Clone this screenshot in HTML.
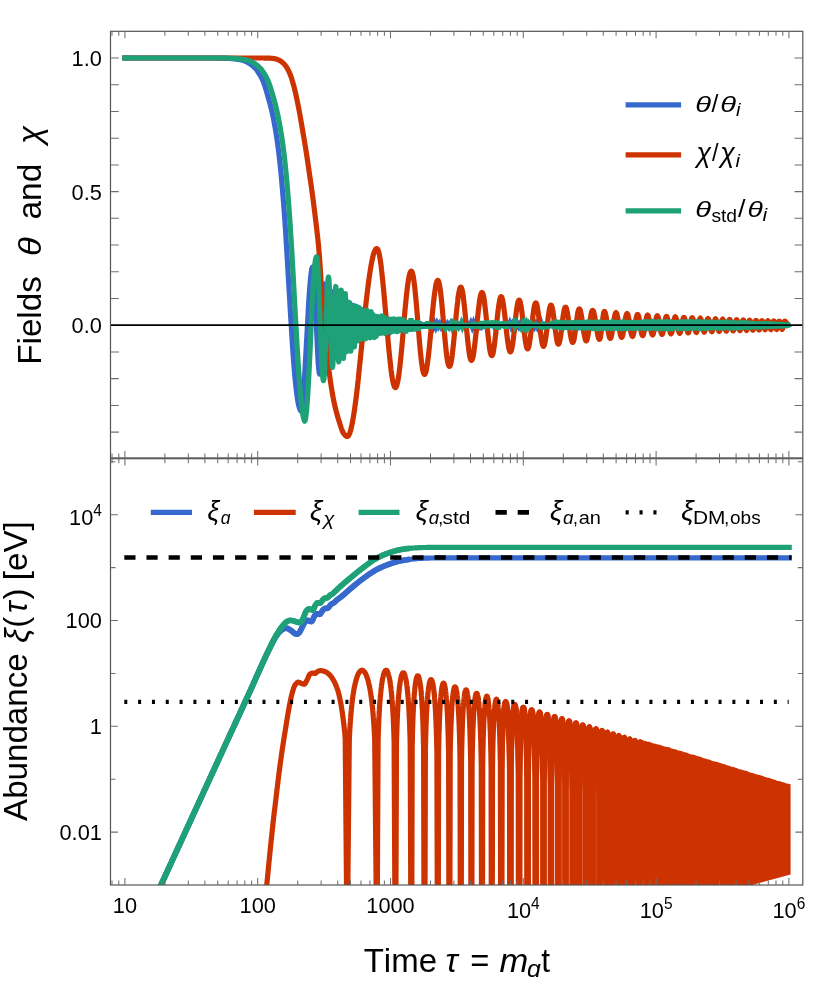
<!DOCTYPE html>
<html><head><meta charset="utf-8"><title>plot</title>
<style>html,body{margin:0;padding:0;background:#fff}svg{display:block}</style>
</head><body>
<svg width="830" height="1003" viewBox="0 0 830 1003">
<defs>
<clipPath id="ct"><rect x="110.5" y="31.3" width="692.3" height="426.59999999999997"/></clipPath>
<clipPath id="cb"><rect x="110.5" y="458.7" width="692.3" height="426.3"/></clipPath>
</defs>
<rect width="830" height="1003" fill="#fff"/>
<g clip-path="url(#ct)" fill="none" stroke-width="5.2" stroke-linejoin="round" stroke-linecap="square">
<path d="M124.9 58L125.4 58L125.9 58L126.4 58L126.9 58L127.4 58L127.9 58L128.4 58L128.9 58L129.4 58L129.9 58L130.4 58L130.9 58L131.4 58L131.9 58L132.4 58L132.9 58L133.4 58L133.9 58L134.4 58L134.9 58L135.4 58L135.9 58L136.4 58L136.9 58L137.4 58L137.9 58L138.4 58L138.9 58L139.4 58L139.9 58L140.4 58L140.9 58L141.4 58L141.9 58L142.4 58L142.9 58L143.4 58L143.9 58L144.4 58L144.9 58L145.4 58L145.9 58L146.4 58L146.9 58L147.4 58L147.9 58L148.4 58L148.9 58L149.4 58L149.9 58L150.4 58L150.9 58L151.4 58L151.9 58L152.4 58L152.9 58L153.4 58L153.9 58L154.5 58L155 58L155.5 58L156 58L156.5 58L157 58L157.5 58L158 58L158.5 58L159 58L159.5 58L160 58L160.5 58L161 58L161.5 58L162 58L162.5 58L163 58L163.5 58L164 58L164.5 58L165 58L165.5 58L166 58L166.5 58L167 58L167.5 58L168 58L168.5 58L169 58L169.5 58L170 58L170.5 58L171 58L171.5 58L172 58L172.5 58L173 58L173.5 58L174 58L174.5 58L175 58L175.5 58L176 58L176.5 58L177 58L177.5 58L178 58L178.5 58L179 58L179.5 58L180 58L180.5 58L181 58L181.5 58L182 58L182.5 58L183 58L183.5 58L184 58L184.5 58L185 58L185.5 58L186 58L186.5 58L187 58L187.5 58L188 58L188.5 58L189 58L189.5 58L190 58L190.5 58L191 58L191.5 58L192 58L192.5 58L193 58L193.5 58L194 58L194.5 58L195 58L195.5 58L196 58L196.5 58L197 58L197.5 58L198 58L198.5 58L199 58L199.5 58L200 58L200.5 58L201 58L201.5 58L202 58L202.5 58L203 58L203.5 58L204 58L204.5 58L205 58L205.5 58L206 58L206.5 58L207 58L207.5 58L208 58L208.5 58L209 58L209.5 58L210 58L210.5 58L211 58L211.5 58L212 58L212.5 58L213.1 58L213.6 58L214.1 58L214.6 58L215.1 58L215.6 58L216.1 58L216.6 58.1L217.1 58.1L217.6 58.1L218.1 58.1L218.6 58.1L219.1 58.1L219.6 58.1L220.1 58.1L220.6 58.1L221.1 58.1L221.6 58.1L222.1 58.2L222.6 58.2L223.1 58.2L223.6 58.2L224.1 58.2L224.6 58.2L225.1 58.2L225.6 58.3L226.1 58.3L226.6 58.3L227.1 58.3L227.6 58.3L228.1 58.3L228.6 58.4L229.1 58.4L229.6 58.4L230.1 58.5L230.6 58.5L231.1 58.6L231.6 58.6L232.1 58.7L232.6 58.7L233.1 58.8L233.6 58.8L234.1 58.9L234.6 58.9L235.1 59L235.6 59.1L236.1 59.1L236.6 59.2L237.1 59.3L237.6 59.3L238.1 59.4L238.6 59.5L239.1 59.6L239.6 59.6L240.1 59.7L240.6 59.8L241.1 59.9L241.6 60.1L242.1 60.2L242.6 60.3L243.1 60.4L243.6 60.6L244.1 60.8L244.6 60.9L245.1 61.2L245.6 61.4L246.1 61.6L246.6 61.9L247.1 62.1L247.6 62.4L248.1 62.6L248.6 62.9L249.1 63.2L249.6 63.5L250.1 63.8L250.6 64.2L251.1 64.5L251.6 64.9L252.1 65.3L252.6 65.7L253.1 66.1L253.6 66.6L254.1 67.1L254.6 67.6L255.1 68.1L255.6 68.6L256.1 69.2L256.6 69.8L257.1 70.5L257.6 71.2L258.1 72L258.6 72.8L259.1 73.6L259.6 74.4L260.1 75.2L260.6 76.1L261.1 77L261.6 77.9L262.1 78.9L262.6 80L263.1 81.1L263.6 82.4L264.1 83.8L264.6 85.2L265.1 86.8L265.6 88.4L266.1 90L266.6 91.7L267.1 93.4L267.6 95.2L268.1 96.9L268.6 98.7L269.1 100.5L269.6 102.3L270.1 104.2L270.6 106.2L271.1 108.2L271.7 110.4L272.2 112.6L272.7 114.9L273.2 117.3L273.7 119.8L274.2 122.4L274.7 125.2L275.2 128L275.7 131L276.2 134.1L276.7 137.3L277.2 140.7L277.7 144.3L278.2 148L278.7 152L279.2 156.2L279.7 160.6L280.2 165.1L280.7 170.1L281.2 175.4L281.7 181L282.2 186.7L282.7 192.6L283.2 198.6L283.7 204.9L284.2 211.4L284.7 218.2L285.2 225.5L285.7 233.2L286.2 241.3L286.7 249.4L287.2 257.7L287.7 266.2L288.2 274.8L288.7 283.3L289.2 291.7L289.7 300.2L290.2 308.6L290.7 316.9L291.2 324.9L291.7 332.9L292.2 340.8L292.7 348.6L293.2 355.9L293.7 362.6L294.2 368.7L294.7 374.4L295.2 379.8L295.7 384.7L296.2 389.1L296.7 393.1L297.2 396.9L297.7 400.3L298.2 403.2L298.7 405.4L299.2 407.2L299.7 408.8L300.2 410L300.7 410.8L301.1 410.4L301.5 409.3L301.9 407.5L302.2 405L302.6 401.8L303 397.9L303.4 393.5L303.8 388.4L304.2 382.9L304.6 376.9L305 370.6L305.3 363.9L305.7 356.9L306.1 349.8L306.5 342.5L306.9 335.3L307.3 328L307.7 320.9L308.1 313.9L308.4 307.2L308.8 300.9L309.2 294.9L309.6 289.4L310 284.3L310.4 279.9L310.8 276L311.2 272.8L311.5 270.3L311.9 268.5L312.3 267.4L312.7 267L313.1 267.8L313.5 270.2L313.9 274.2L314.3 279.5L314.6 286.1L315 293.8L315.4 302.2L315.8 311.2L316.2 320.5L316.6 329.8L317 338.8L317.4 347.2L317.8 354.9L318.1 361.5L318.5 366.8L318.9 370.8L319.3 373.2L319.7 374L320.1 372.9L320.5 369.5L320.8 364.2L321.2 357.1L321.6 348.5L322 339L322.4 329L322.7 319L323.1 309.5L323.5 300.9L323.9 293.8L324.2 288.5L324.6 285.1L325 284L325.4 285.6L325.8 290.2L326.1 297.5L326.5 306.8L326.9 317.4L327.3 328.6L327.7 339.2L328.1 348.5L328.4 355.8L328.8 360.4L329.2 362L329.6 359.9L330 353.8L330.3 344.5L330.7 333.1L331.1 320.9L331.5 309.5L331.8 300.2L332.2 294.1L332.6 292L333 294.4L333.4 301.1L333.7 311.1L334.1 323L334.5 334.9L334.9 344.9L335.2 351.6L335.6 354L336 351.1L336.3 343.1L336.7 331.5L337.1 318.5L337.5 306.9L337.8 298.9L338.2 296L338.6 299.7L339 309.8L339.4 323.5L339.7 337.2L340.1 347.3L340.5 351L340.9 347.6L341.2 338.2L341.6 325.5L341.9 312.8L342.2 303.4L342.6 300L344.5 352.8L346.4 301.1L348.2 350.6L350 303L351.7 346.1L353.3 305.4L354.8 340.6L356.3 306.7L357.7 339.8L359.1 312.2L360.4 341.4L361.7 311.4L363 337.9L364.3 314.9L365.6 335.2L366.9 314.5L368.2 337L369.5 315.6L370.8 333.4L372.1 316.7L373.4 333L374.7 316.7L376 333.9L377.3 317.9L378.6 332.1L379.9 319.5L381.2 333.2L382.5 318.7L383.8 332.4L385.1 319.7L386.4 330.8L387.7 318.5L389 333.5L390.3 319.5L391.6 330.3L392.9 321.2L394.2 331L395.5 319.7L396.8 329.4L398.1 321.2L399.4 330.1L400.7 320.3" stroke="#3668cd" stroke-linecap="butt"/>
<path d="M399.4 330.1L400.7 320.3L402 330.3L403.3 317.3L404.6 329.4L405.9 320.3L407.2 329L408.5 320.6L409.8 331.5L411.1 320.9L412.4 328.8L413.7 322.1L415 328.9L416.3 321.4L417.6 328.7L418.9 322.2L420.2 328.7L421.5 322.7L422.8 328.3L424.1 322.7L425.4 328.3L426.7 323.2L428 327.5L429.3 323.2L430.6 327.5L431.9 323.5L433.2 326.9L434.5 323.7L435.8 326.9L437.1 323.6L438.4 326.3L439.7 324L441 326.6L442.3 324.1L443.6 326.6L444.9 321.7L446.2 326.5L447.5 324.1L448.8 326.4L450.1 324.3L451.4 329.2L452.7 324.3L454 326L455.3 324.5L456.6 326L457.9 324.5L459.2 326L460.5 324.1L461.8 328.9L463.1 324.2L464.4 326.2L465.7 321.2L467 326.7L468.3 322L469.6 326.9L470.9 323.5L472.2 326.7L473.5 323.2L474.8 326.8L476.1 323.5L477.4 326.8L478.7 322.8L480 330.1L481.3 323L482.6 328L483.9 323L485.2 327.8L486.5 323L487.8 328L489.1 322.3L490.4 327.6L491.7 322.7L493 327.4L494.3 322.3L495.6 330.1L496.9 322.8L498.2 328.2L499.5 322.8L500.8 327.3L502.1 322.6L503.4 327.2L504.7 323L506 327.4L507.3 323.2L508.6 327.2L509.9 323.6L511.2 326.8L512.5 324L513.8 326.3L515.1 323.9L516.4 326.3L517.7 324L519 326.4L520.3 323.9L521.6 326.2L522.9 324.1L524.2 325.9L525.5 324.4L526.8 326.4L528.1 324L529.4 326.5L530.7 324.1L532 326.7L533.3 323.8L534.6 326.5L535.9 323.9L537.2 326.6L538.5 323.4L539.8 326.6L541.1 323.2L542.4 327L543.7 323L545 326.9L546.3 323.1L547.6 327.6L548.9 323.2L550.2 327.5L551.5 322.9L552.8 327.6L554.1 322.7L555.4 328.3L556.7 322.6L558 328.3L559.3 323.1L560.6 327.5L561.9 323.2" stroke="#3668cd" stroke-linejoin="miter" stroke-miterlimit="3" stroke-linecap="butt"/>
<path d="M559.3 323.1L560.6 327.5L561.9 323.2L563.2 327.3L564.5 323.5L565.8 327.4L567.1 323.4L568.4 327.2L569.7 323.3L571 327.4L572.3 323.4L573.6 327.7L574.9 323.3L576.2 327.8L577.5 323L578.8 327.8L580.1 322.6L581.4 327.8L582.7 322.6L584 327.4L585.3 322.6L586.6 327.3L587.9 322.8L589.2 327.2L590.5 322.6L591.8 327.2L593.1 322.5L594.4 327.9L595.7 322.7L597 327.8L598.3 322.8L599.6 327.6L600.9 322.8L602.2 327.2L603.5 322.7L604.8 327.9L606.1 322.8L607.4 327.7L608.7 323.1L610 327.3L611.3 322.7L612.6 327.8L613.9 322.5L615.2 327.7L616.5 322.7L617.8 328.2L619.1 322.3L620.4 327.9L621.7 323L623 327.7L624.3 322.3L625.6 328L626.9 323.1L628.2 328L629.5 322.3L630.8 328L632.1 322.7L633.4 327.4L634.7 322.7L636 327.3L637.3 323L638.6 327.9L639.9 323L641.2 327.4L642.5 322.5L643.8 328.1L645.1 322.6L646.4 327.4L647.7 322.5L649 328.1L650.3 322.1L651.6 327.6L652.9 322.7L654.2 328L655.5 322.3L656.8 327.9L658.1 322.6L659.4 327.6L660.7 323.1L662 327.9L663.3 322.6L664.6 327.4L665.9 322.5L667.2 327.3L668.5 323L669.8 327.5L671.1 322.5L672.4 327.9L673.7 323L675 327.5L676.3 323.1L677.6 328.1L678.9 322.7L680.2 327.3L681.5 322.6L682.8 327.9L684.1 322.2L685.4 327.5L686.7 323.1L688 327.7L689.3 323.1L690.6 327.3L691.9 322.2L693.2 327.5L694.5 322.6L695.8 328.1L697.1 322.8L698.4 327.3L699.7 322.4L701 327.2L702.3 322.4L703.6 327.9L704.9 323L706.2 327.4L707.5 322.9L708.8 327.8L710.1 322.6L711.4 327.6L712.7 322.6L714 327.3L715.3 322.5L716.6 327.8L717.9 323.1L719.2 327.7L720.5 322.7L721.8 327.7L723.1 323.2L724.4 327.5L725.7 322.9L727 327.3L728.3 322.9L729.6 327.2L730.9 323.1L732.2 327L733.5 323.5L734.8 326.9L736.1 323.5L737.4 327L738.7 323.6L740 327.3L741.3 323.2L742.6 326.7L743.9 323.5L745.2 327.2L746.5 323.8L747.8 327.2L749.1 323.8L750.4 326.6L751.7 323.4L753 326.8L754.3 323.6L755.6 326.4L756.9 323.6L758.2 326.5L759.5 324.1L760.8 326.4L762.1 324L763.4 326.7L764.7 323.8L766 326.1L767.3 324.1L768.6 326.2L769.9 324.2L771.2 326.3L772.5 324.1L773.8 325.9L775.1 324.2L776.4 325.9L777.7 324.5L779 325.8L780.3 324.6L781.6 325.7L782.9 324.7L784.2 325.7L785.5 324.9L786.8 325.5L788.1 324.9L788.2 325.2" stroke="#3668cd"/>
<path d="M124.9 58L127.9 58" stroke="#3668cd"/>
<path d="M124.9 58L125.4 58L125.9 58L126.4 58L126.9 58L127.4 58L127.9 58L128.4 58L128.9 58L129.4 58L129.9 58L130.4 58L130.9 58L131.4 58L131.9 58L132.4 58L132.9 58L133.4 58L133.9 58L134.4 58L134.9 58L135.4 58L135.9 58L136.4 58L136.9 58L137.4 58L137.9 58L138.4 58L138.9 58L139.4 58L139.9 58L140.4 58L140.9 58L141.4 58L141.9 58L142.4 58L142.9 58L143.4 58L143.9 58L144.4 58L144.9 58L145.4 58L145.9 58L146.4 58L146.9 58L147.4 58L147.9 58L148.4 58L148.9 58L149.4 58L149.9 58L150.4 58L150.9 58L151.4 58L151.9 58L152.4 58L152.9 58L153.4 58L153.9 58L154.4 58L154.9 58L155.4 58L155.9 58L156.4 58L156.9 58L157.4 58L157.9 58L158.4 58L158.9 58L159.4 58L159.9 58L160.4 58L160.9 58L161.4 58L161.9 58L162.5 58L163 58L163.5 58L164 58L164.5 58L165 58L165.5 58L166 58L166.5 58L167 58L167.5 58L168 58L168.5 58L169 58L169.5 58L170 58L170.5 58L171 58L171.5 58L172 58L172.5 58L173 58L173.5 58L174 58L174.5 58L175 58L175.5 58L176 58L176.5 58L177 58L177.5 58L178 58L178.5 58L179 58L179.5 58L180 58L180.5 58L181 58L181.5 58L182 58L182.5 58L183 58L183.5 58L184 58L184.5 58L185 58L185.5 58L186 58L186.5 58L187 58L187.5 58L188 58L188.5 58L189 58L189.5 58L190 58L190.5 58L191 58L191.5 58L192 58L192.5 58L193 58L193.5 58L194 58L194.5 58L195 58L195.5 58L196 58L196.5 58L197 58L197.5 58L198 58L198.5 58L199 58L199.5 58L200 58L200.5 58L201 58L201.5 58L202 58L202.5 58L203 58L203.5 58L204 58L204.5 58L205 58L205.5 58L206 58L206.5 58L207 58L207.5 58L208 58L208.5 58L209 58L209.5 58L210 58L210.5 58L211 58L211.5 58L212 58L212.5 58L213 58L213.5 58L214 58L214.5 58L215 58L215.5 58L216 58L216.5 58L217 58L217.5 58L218 58L218.5 58L219 58L219.5 58L220 58L220.5 58L221 58L221.5 58L222 58L222.5 58L223 58L223.5 58L224 58L224.5 58L225 58L225.5 58L226 58L226.5 58L227 58L227.5 58L228 58L228.5 58L229 58L229.5 58L230 58L230.5 58L231 58L231.5 58L232 58L232.5 58L233 58L233.5 58L234 58L234.5 58L235 58L235.5 58L236.1 58L236.6 58L237.1 58L237.6 58L238.1 58L238.6 58L239.1 58L239.6 58L240.1 58L240.6 58L241.1 58L241.6 58L242.1 58L242.6 58L243.1 58L243.6 58L244.1 58L244.6 58L245.1 58L245.6 58L246.1 58L246.6 58L247.1 58L247.6 58L248.1 58L248.6 58L249.1 58L249.6 58L250.1 58L250.6 58L251.1 58L251.6 58L252.1 58L252.6 58L253.1 58L253.6 58L254.1 58L254.6 58L255.1 58L255.6 58L256.1 58L256.6 58L257.1 58L257.6 58L258.1 58L258.6 58L259.1 58L259.6 58L260.1 58L260.6 58L261.1 58L261.6 58L262.1 58L262.6 58L263.1 58L263.6 58L264.1 58L264.6 58.1L265.1 58.1L265.6 58.1L266.1 58.1L266.6 58.1L267.1 58.1L267.6 58.1L268.1 58.1L268.6 58.1L269.1 58.1L269.6 58.2L270.1 58.2L270.6 58.2L271.1 58.3L271.6 58.3L272.1 58.4L272.6 58.4L273.1 58.5L273.6 58.5L274.1 58.6L274.6 58.7L275.1 58.8L275.6 58.9L276.1 59.1L276.6 59.2L277.1 59.4L277.6 59.6L278.1 59.8L278.6 60L279.1 60.2L279.6 60.5L280.1 60.8L280.6 61.1L281.1 61.4L281.6 61.8L282.1 62.2L282.6 62.6L283.1 63L283.6 63.5L284.1 64L284.6 64.6L285.1 65.2L285.6 65.8L286.1 66.6L286.6 67.3L287.1 68.1L287.6 69L288.1 69.9L288.6 70.9L289.1 71.9L289.6 73L290.1 74.2L290.6 75.5L291.1 76.9L291.6 78.4L292.1 80L292.6 81.7L293.1 83.5L293.6 85.2L294.1 87.1L294.6 89.1L295.1 91.1L295.6 93.3L296.1 95.6L296.6 97.9L297.1 100.3L297.6 102.7L298.1 105.2L298.6 107.7L299.1 110.3L299.6 113.1L300.1 115.8L300.6 118.7L301.1 121.6L301.6 124.5L302.1 127.4L302.6 130.3L303.1 133.2L303.6 136.1L304.1 139.1L304.6 142.1L305.1 145.1L305.6 148.2L306.1 151.4L306.6 154.5L307.1 157.8L307.6 161.1L308.1 164.5L308.6 167.9L309.1 171.4L309.6 174.9L310.1 178.5L310.7 182.1L311.2 185.7L311.7 189.3L312.2 193L312.7 196.7L313.2 200.5L313.7 204.4L314.2 208.3L314.7 212.3L315.2 216.4L315.7 220.5L316.2 224.6L316.7 228.8L317.2 233.2L317.7 237.7L318.2 242.6L318.7 247.8L319.2 253.6L319.7 260.1L320.2 267.3L320.7 274.8L321.2 282.7L321.7 290.6L322.2 298.5L322.7 306.1L323.2 313.4L323.7 320L324.2 326L324.7 331.5L325.2 336.8L325.7 341.9L326.2 346.8L326.7 351.6L327.2 356.1L327.7 360.4L328.2 364.6L328.7 368.5L329.2 372.3L329.7 375.9L330.2 379.5L330.7 382.9L331.2 386.2L331.7 389.3L332.2 392.3L332.7 395.2L333.2 397.9L333.7 400.5L334.2 402.9L334.7 405.1L335.2 407.3L335.7 409.3L336.2 411.3L336.7 413.2L337.2 415L337.7 416.7L338.2 418.4L338.7 420L339.2 421.6L339.7 423.2L340.2 424.8L340.7 426.4L341.2 428L341.7 429.4L342.2 430.7L342.7 431.8L343.2 432.7L343.7 433.5L344.2 434.1L344.7 434.7L345.2 435.3L345.7 435.8L346.2 436.1L346.7 436.4L347.2 436.5L347.6 436.4L348 436.2L348.4 435.8L348.8 435.2L349.2 434.4L349.6 433.5L350 432.5L350.4 431.3L350.8 429.9L351.1 428.4L351.5 426.7L351.9 424.9L352.3 422.9L352.7 420.8L353.1 418.6L353.5 416.2L353.9 413.7L354.3 411L354.7 408.3L355.1 405.4L355.5 402.4L355.9 399.4L356.3 396.2L356.7 392.9L357.1 389.5L357.5 386.1L357.9 382.6L358.3 379L358.6 375.3L359 371.6L359.4 367.8L359.8 364L360.2 360.2L360.6 356.3L361 352.4L361.4 348.4L361.8 344.5L362.2 340.6L362.6 336.7L363 332.7L363.4 328.8L363.8 324.9L364.2 321.1L364.6 317.3L365 313.5L365.4 309.8L365.7 306.1L366.1 302.5L366.5 299L366.9 295.6L367.3 292.2L367.7 288.9L368.1 285.7L368.5 282.7L368.9 279.7L369.3 276.8L369.7 274.1L370.1 271.4L370.5 268.9L370.9 266.5L371.3 264.3L371.7 262.2L372.1 260.2L372.5 258.4L372.9 256.7L373.2 255.2L373.6 253.8L374 252.6L374.4 251.6L374.8 250.7L375.2 249.9L375.6 249.3L376 248.9L376.4 248.7L376.8 248.6L377.2 248.8L377.6 249.2L378 250L378.4 251.1L378.8 252.4L379.2 254.1L379.6 256.1L380 258.3L380.4 260.8L380.8 263.6L381.2 266.6L381.5 269.8L381.9 273.2L382.3 276.9L382.7 280.7L383.1 284.7L383.5 288.8L383.9 293.1L384.3 297.5L384.7 302L385.1 306.5L385.5 311.1L385.9 315.8L386.3 320.4L386.7 325.1L387.1 329.7L387.5 334.2L387.9 338.7L388.3 343.1L388.7 347.4L389.1 351.5L389.5 355.5L389.9 359.3L390.3 363L390.7 366.4L391 369.6L391.4 372.6L391.8 375.4L392.2 377.9L392.6 380.1L393 382.1L393.4 383.8L393.8 385.1L394.2 386.2L394.6 387L395 387.4L395.4 387.6L395.8 387.4L396.2 386.9L396.6 386L397 384.7L397.4 383.2L397.8 381.3L398.2 379L398.6 376.5L399 373.6L399.4 370.5L399.8 367.2L400.2 363.6L400.6 359.8L401 355.8L401.4 351.6L401.8 347.4L402.2 342.9L402.6 338.5L403 333.9L403.4 329.4L403.7 324.8L404.1 320.2L404.5 315.8L404.9 311.3L405.3 307.1L405.7 302.9L406.1 298.9L406.5 295.1L406.9 291.5L407.3 288.2L407.7 285.1L408.1 282.2L408.5 279.7L408.9 277.4L409.3 275.5L409.7 274L410.1 272.7L410.5 271.8L410.9 271.3L411.3 271.1L411.7 271.3L412.1 272L412.5 273.2L412.9 274.8L413.3 276.8L413.7 279.3L414.1 282.2L414.5 285.4L414.9 288.9L415.3 292.8L415.7 296.9L416.1 301.3L416.5 305.9L416.9 310.6L417.3 315.4L417.7 320.3L418.1 325.2L418.5 330.1L418.9 334.9L419.3 339.7L419.7 344.2L420.1 348.6L420.5 352.7L420.9 356.6L421.3 360.2L421.7 363.4L422.1 366.2L422.5 368.7L422.9 370.7L423.3 372.3L423.7 373.5L424.1 374.2L424.5 374.4L424.9 374.2L425.3 373.6L425.7 372.6L426.1 371.3L426.5 369.5L426.8 367.4L427.2 364.9L427.6 362.2L428 359.1L428.4 355.8L428.8 352.2L429.2 348.4L429.6 344.4L430 340.3L430.4 336.1L430.8 331.8L431.1 327.4L431.5 323.1L431.9 318.8L432.3 314.6L432.7 310.4L433.1 306.5L433.5 302.7L433.9 299.1L434.3 295.8L434.7 292.7L435.1 289.9L435.5 287.5L435.8 285.3L436.2 283.6L436.6 282.2L437 281.2L437.4 280.6L437.8 280.4L438.2 280.7L438.6 281.4L439 282.7L439.4 284.4L439.8 286.6L440.2 289.2L440.6 292.2L441 295.6L441.4 299.3L441.8 303.3L442.2 307.5L442.6 311.9L443 316.5L443.4 321.1L443.8 325.8L444.2 330.4L444.6 334.9L445 339.3L445.4 343.6L445.8 347.6L446.2 351.3L446.6 354.6L447 357.7L447.4 360.3L447.8 362.5L448.2 364.2L448.6 365.4L449 366.2L449.4 366.4L449.8 366.2L450.2 365.5L450.6 364.4L451 362.8L451.4 360.8L451.8 358.3L452.2 355.6L452.5 352.5L452.9 349L453.3 345.4L453.7 341.5L454.1 337.4L454.5 333.2L454.9 329L455.3 324.7L455.7 320.4L456.1 316.2L456.5 312.1L456.9 308.3L457.3 304.6L457.7 301.2L458 298L458.4 295.3L458.8 292.9L459.2 290.9L459.6 289.3L460 288.1L460.4 287.4L460.8 287.2L461.2 287.4L461.6 288.2L462 289.4L462.4 291.1L462.8 293.2L463.2 295.8L463.5 298.7L463.9 301.9L464.3 305.5L464.7 309.3L465.1 313.3L465.5 317.5L465.9 321.7L466.3 325.9L466.7 330.2L467.1 334.3L467.5 338.3L467.9 342.1L468.3 345.7L468.7 349L469 351.9L469.4 354.4L469.8 356.6L470.2 358.2L470.6 359.5L471 360.2L471.4 360.4L471.8 360.2L472.2 359.5L472.6 358.4L473 356.8L473.4 354.9L473.8 352.5L474.1 349.8L474.5 346.8L474.9 343.5L475.3 339.9L475.7 336.2L476.1 332.4L476.5 328.5L476.9 324.5L477.3 320.6L477.7 316.7L478.1 313L478.5 309.5L478.9 306.2L479.3 303.2L479.6 300.5L480 298.1L480.4 296.1L480.8 294.6L481.2 293.4L481.6 292.7L482 292.5L482.4 292.8L482.8 293.5L483.2 294.7L483.6 296.4L484 298.5L484.4 301.1L484.7 304L485.1 307.2L485.5 310.7L485.9 314.3L486.3 318.2L486.7 322.1L487.1 326.1L487.5 330L487.9 333.9L488.3 337.5L488.7 341L489.1 344.2L489.4 347.1L489.8 349.7L490.2 351.8L490.6 353.5L491 354.7L491.4 355.4L491.8 355.7L492.2 355.4L492.6 354.7L493 353.4L493.4 351.7L493.7 349.6L494.1 347L494.5 344.1L494.9 340.9L495.3 337.5L495.7 333.8L496.1 330L496.5 326.2L496.8 322.3L497.2 318.5L497.6 314.9L498 311.4L498.4 308.2L498.8 305.3L499.2 302.8L499.6 300.6L499.9 298.9L500.3 297.7L500.7 296.9L501.1 296.7L501.5 296.9L501.9 297.6L502.3 298.8L502.7 300.4L503 302.4L503.4 304.8L503.8 307.5L504.2 310.5L504.6 313.7L505 317.1L505.4 320.7L505.8 324.3L506.1 327.9L506.5 331.4L506.9 334.9L507.3 338.1L507.7 341.1L508.1 343.8L508.5 346.2L508.8 348.2L509.2 349.8L509.6 351L510 351.7L510.4 351.9L510.8 351.7L511.2 350.9L511.6 349.6L512 347.8L512.4 345.6L512.8 343L513.2 340L513.6 336.8L514 333.3L514.4 329.7L514.8 326L515.1 322.3L515.5 318.7L515.9 315.2L516.3 312L516.7 309L517.1 306.4L517.5 304.2L517.9 302.4L518.3 301.1L518.7 300.3L519.1 300.1L519.5 300.3L519.9 301.1L520.3 302.3L520.6 304L521 306L521.4 308.5L521.8 311.3L522.2 314.3L522.6 317.6L523 321L523.4 324.5L523.7 327.9L524.1 331.3L524.5 334.6L524.9 337.6L525.3 340.4L525.7 342.9L526.1 345L526.4 346.6L526.8 347.9L527.2 348.6L527.6 348.8L528 348.6L528.4 347.8L528.8 346.6L529.2 344.9L529.6 342.7L529.9 340.2L530.3 337.4L530.7 334.3L531.1 331L531.5 327.6L531.9 324.2L532.3 320.8L532.7 317.5L533.1 314.4L533.5 311.5L533.8 309L534.2 306.9L534.6 305.2L535 303.9L535.4 303.1L535.8 302.9L536.2 303.2L536.6 304L537 305.3L537.3 307L537.7 309.2L538.1 311.8L538.5 314.7L538.9 317.9L539.3 321.2L539.6 324.6L540 328L540.4 331.3L540.8 334.5L541.2 337.4L541.6 340L542 342.2L542.3 344L542.7 345.3L543.1 346.1L543.5 346.3L543.9 346L544.3 345.2L544.7 343.8L545.1 342L545.5 339.7L545.9 337L546.3 334L546.7 330.8L547.1 327.4L547.4 324L547.8 320.7L548.2 317.5L548.6 314.5L549 311.8L549.4 309.5L549.8 307.6L550.2 306.3L550.6 305.4L551 305.2L551.4 305.4L551.8 306.2L552.2 307.5L552.6 309.3L552.9 311.5L553.3 314L553.7 316.8L554.1 319.9L554.5 323.1L554.9 326.3L555.3 329.5L555.7 332.5L556.1 335.4L556.5 337.9L556.8 340.1L557.2 341.9L557.6 343.2L558 343.9L558.4 344.2L558.8 343.9L559.2 343.1L559.6 341.7L560 339.9L560.4 337.6L560.8 334.9L561.2 332L561.6 328.9L562 325.7L562.3 322.4L562.7 319.3L563.1 316.4L563.5 313.7L563.9 311.5L564.3 309.6L564.7 308.2L565.1 307.4L565.5 307.1L565.9 307.4L566.3 308.1L566.6 309.2L567 310.8L567.4 312.8L567.8 315.1L568.2 317.7L568.5 320.4L568.9 323.3L569.3 326.2L569.7 329.1L570 331.8L570.4 334.4L570.8 336.7L571.2 338.7L571.6 340.3L571.9 341.4L572.3 342.1L572.7 342.4L573.1 342.1L573.5 341.3L573.9 339.9L574.3 338L574.6 335.7L575 333.1L575.4 330.2L575.8 327.1L576.2 324L576.6 321L577 318.1L577.4 315.5L577.7 313.2L578.1 311.3L578.5 309.9L578.9 309.1L579.3 308.8L579.7 309L580.1 309.8L580.4 310.9L580.8 312.5L581.2 314.5L581.6 316.8L582 319.3L582.4 322L582.8 324.8L583.1 327.6L583.5 330.3L583.9 332.8L584.3 335.1L584.7 337.1L585.1 338.7L585.4 339.9L585.8 340.6L586.2 340.8L586.6 340.5L587 339.7L587.4 338.3L587.8 336.4L588.2 334L588.6 331.4L589 328.5L589.4 325.5L589.8 322.6L590.2 319.7L590.6 317.1L591 314.7L591.4 312.8L591.8 311.4L592.2 310.6L592.6 310.3L593 310.5L593.4 311.1L593.8 312.2L594.1 313.7L594.5 315.5L594.9 317.6L595.3 319.9L595.7 322.3L596 324.8L596.4 327.4L596.8 329.8L597.2 332.1L597.6 334.2L598 336L598.4 337.5L598.7 338.6L599.1 339.2L599.5 339.4L599.9 339L600.3 337.8L600.6 335.9L601 333.4L601.4 330.4L601.8 327.1L602.1 323.8L602.5 320.5L602.9 317.5L603.3 315L603.6 313.1L604 311.9L604.4 311.4L604.8 311.7L605.2 312.6L605.6 314L606 315.9L606.4 318.2L606.8 320.8L607.2 323.5L607.5 326.3L607.9 329.1L608.3 331.7L608.7 333.9L609.1 335.8L609.5 337.2L609.9 338.1L610.3 338.4L610.7 338.1L611.1 337.3L611.4 335.9L611.8 334.1L612.2 331.9L612.6 329.5L613 326.8L613.3 324.1L613.7 321.5L614.1 319L614.5 316.8L614.9 315L615.2 313.6L615.6 312.8L616 312.5L616.4 312.8L616.8 313.6L617.1 314.9L617.5 316.6L617.9 318.7L618.3 321.1L618.6 323.7L619 326.3L619.4 328.8L619.8 331.2L620.1 333.3L620.5 335L620.9 336.3L621.3 337.1L621.6 337.4L622 337.1L622.4 336.2L622.8 334.8L623.2 332.9L623.6 330.6L624 328.1L624.4 325.4L624.8 322.8L625.2 320.2L625.5 318L625.9 316.1L626.3 314.7L626.7 313.8L627.1 313.5L627.5 313.8L627.9 314.6L628.2 316L628.6 317.8L629 320L629.4 322.4L629.8 325L630.2 327.5L630.5 330L630.9 332.2L631.3 334L631.7 335.4L632.1 336.2L632.5 336.5L632.8 336.2L633.2 335.2L633.6 333.7L634 331.7L634.4 329.3L634.8 326.7L635.2 324.1L635.6 321.5L636 319.1L636.4 317.1L636.8 315.6L637.2 314.6L637.6 314.3L638 314.6L638.4 315.5L638.8 317L639.2 318.9L639.6 321.2L640 323.7L640.3 326.3L640.7 328.8L641.1 331.1L641.5 333L641.9 334.5L642.3 335.4L642.7 335.7L643.1 335.4L643.5 334.5L643.8 333.1L644.2 331.3L644.6 329L645 326.6L645.3 324.1L645.7 321.7L646.1 319.5L646.5 317.6L646.8 316.2L647.2 315.3L647.6 315L648 315.3L648.4 316.2L648.7 317.5L649.1 319.4L649.5 321.5L649.9 323.8L650.3 326.2L650.6 328.6L651 330.7L651.4 332.5L651.8 333.9L652.2 334.7L652.6 335L652.9 334.7L653.3 333.7L653.7 332.2L654.1 330.2L654.5 327.9L654.9 325.4L655.3 322.9L655.7 320.5L656.1 318.5L656.5 317L656.9 316L657.3 315.7L657.7 316L658.1 317L658.5 318.4L658.9 320.4L659.3 322.6L659.6 325L660 327.5L660.4 329.7L660.8 331.7L661.2 333.1L661.6 334.1L662 334.4L662.4 334.1L662.8 333.2L663.1 331.7L663.5 329.9L663.9 327.7L664.2 325.3L664.6 323L665 320.8L665.4 318.9L665.8 317.5L666.1 316.6L666.5 316.3L666.9 316.6L667.2 317.5L667.6 318.9L668 320.7L668.4 322.8L668.8 325.1L669.1 327.3L669.5 329.5L669.9 331.3L670.2 332.7L670.6 333.5L671 333.8L671.4 333.5L671.8 332.5L672.2 330.9L672.6 328.9L673 326.5L673.3 324.1L673.7 321.8L674.1 319.8L674.5 318.2L674.9 317.2L675.3 316.8L675.7 317.1L676.1 318.1L676.5 319.7L676.9 321.6L677.3 323.9L677.7 326.2L678.1 328.5L678.5 330.5L678.9 332L679.3 333L679.7 333.3L680.1 333L680.5 332.1L680.8 330.6L681.2 328.6L681.6 326.5L682 324.2L682.4 322L682.8 320.1L683.1 318.6L683.5 317.6L683.9 317.3L684.3 317.6L684.7 318.5L685.1 320L685.4 321.9L685.8 324L686.2 326.2L686.6 328.3L687 330.2L687.4 331.6L687.8 332.6L688.1 332.9L688.5 332.6L688.9 331.7L689.3 330.3L689.6 328.4L690 326.4L690.4 324.2L690.7 322.2L691.1 320.3L691.5 318.9L691.8 318L692.2 317.7L692.6 318L693 318.9L693.3 320.3L693.7 322L694.1 324L694.5 326.1L694.8 328.2L695.2 329.9L695.6 331.3L696 332.2L696.4 332.5L696.7 332.1L697.1 331.1L697.5 329.5L697.9 327.5L698.3 325.3L698.7 323.1L699.1 321.1L699.5 319.5L699.9 318.5L700.3 318.1L700.7 318.5L701.1 319.5L701.5 321L701.9 323L702.3 325.1L702.7 327.3L703.1 329.2L703.5 330.7L703.9 331.7L704.2 332.1L704.6 331.7L705 330.8L705.4 329.3L705.8 327.4L706.1 325.3L706.5 323.2L706.9 321.3L707.2 319.8L707.6 318.8L708 318.5L708.4 318.8L708.8 319.8L709.2 321.2L709.5 323.1L709.9 325.1L710.3 327.2L710.7 329L711.1 330.5L711.5 331.4L711.9 331.7L712.2 331.4L712.6 330.5L712.9 329.1L713.3 327.3L713.7 325.3L714 323.3L714.4 321.5L714.8 320.1L715.1 319.2L715.5 318.8L715.9 319.1L716.2 320L716.6 321.4L717 323.2L717.4 325.1L717.7 327.1L718.1 328.8L718.5 330.2L718.8 331.1L719.2 331.4L719.6 331L720 330L720.4 328.3L720.8 326.3L721.1 324.2L721.5 322.2L721.9 320.6L722.3 319.5L722.7 319.1L723.1 319.5L723.5 320.5L723.9 322.1L724.3 324.1L724.7 326.2L725.1 328.1L725.5 329.7L725.9 330.7L726.3 331.1L726.6 330.8L727 329.7L727.4 328.2L727.7 326.3L728.1 324.3L728.5 322.3L728.9 320.8L729.2 319.8L729.6 319.4L730 319.7L730.3 320.5L730.7 321.8L731 323.4L731.4 325.1L731.8 326.9L732.1 328.5L732.5 329.7L732.8 330.6L733.2 330.8L733.6 330.5L734 329.5L734.3 328.1L734.7 326.2L735.1 324.3L735.5 322.5L735.8 321L736.2 320L736.6 319.7L737 320L737.4 321L737.7 322.4L738.1 324.2L738.5 326.1L738.9 327.9L739.2 329.3L739.6 330.3L740 330.6L740.4 330.2L740.8 329L741.2 327.3L741.6 325.3L742 323.2L742.4 321.5L742.8 320.3L743.2 319.9L743.6 320.2L743.9 321.2L744.3 322.5L744.7 324.2L745 326L745.4 327.7L745.8 329.1L746.1 330L746.5 330.4L746.9 330L747.3 328.9L747.7 327.2L748.1 325.3L748.4 323.3L748.8 321.6L749.2 320.5L749.6 320.2L750 320.5L750.3 321.3L750.7 322.7L751.1 324.3L751.4 326L751.8 327.6L752.2 329L752.5 329.8L752.9 330.1L753.3 329.8L753.7 328.7L754.1 327.1L754.5 325.3L754.8 323.4L755.2 321.8L755.6 320.7L756 320.4L756.4 320.7L756.8 321.8L757.2 323.3L757.5 325.2L757.9 327L758.3 328.5L758.7 329.6L759.1 329.9L759.5 329.6L759.8 328.6L760.2 327L760.5 325.2L760.9 323.5L761.3 321.9L761.6 320.9L762 320.6L762.4 320.9L762.8 321.9L763.1 323.4L763.5 325.2L763.9 326.9L764.3 328.4L764.7 329.4L765.1 329.7L765.4 329.4L765.8 328.4L766.1 327L766.5 325.2L766.8 323.5L767.2 322.1L767.5 321.1L767.9 320.7L768.3 321.1L768.6 322L769 323.5L769.4 325.2L769.8 326.8L770.1 328.3L770.5 329.2L770.9 329.6L771.2 329.2L771.6 328.3L772 326.9L772.3 325.2L772.6 323.6L773 322.2L773.4 321.2L773.7 320.9L774.1 321.2L774.4 322.2L774.8 323.5L775.1 325.2L775.5 326.8L775.8 328.2L776.2 329.1L776.6 329.4L776.9 329L777.3 327.8L777.7 326.2L778.1 324.3L778.4 322.6L778.8 321.5L779.2 321.1L779.6 321.4L779.9 322.3L780.3 323.6L780.7 325.2L781 326.7L781.4 328.1L781.7 328.9L782.1 329.3L782.5 328.9L782.9 327.7L783.3 326.1L783.6 324.3L784 322.7L784.4 321.6L784.8 321.2L785.2 321.3L785.5 321.6L785.9 322L786.3 322.5L786.7 323.2" stroke="#cc3300"/>
<path d="M124.9 58L125.4 58L125.9 58L126.4 58L126.9 58L127.4 58L127.9 58L128.4 58L128.9 58L129.4 58L129.9 58L130.4 58L130.9 58L131.4 58L131.9 58L132.4 58L132.9 58L133.4 58L133.9 58L134.4 58L134.9 58L135.4 58L135.9 58L136.4 58L136.9 58L137.4 58L137.9 58L138.4 58L138.9 58L139.4 58L139.9 58L140.4 58L140.9 58L141.4 58L141.9 58L142.4 58L142.9 58L143.4 58L143.9 58L144.4 58L144.9 58L145.4 58L145.9 58L146.4 58L146.9 58L147.4 58L147.9 58L148.4 58L148.9 58L149.4 58L149.9 58L150.4 58L150.9 58L151.4 58L151.9 58L152.4 58L152.9 58L153.4 58L153.9 58L154.4 58L154.9 58L155.4 58L155.9 58L156.4 58L156.9 58L157.4 58L157.9 58L158.4 58L158.9 58L159.4 58L159.9 58L160.4 58L160.9 58L161.4 58L161.9 58L162.4 58L162.9 58L163.4 58L163.9 58L164.4 58L164.9 58L165.4 58L165.9 58L166.4 58L166.9 58L167.4 58L167.9 58L168.4 58L168.9 58L169.4 58L170 58L170.5 58L171 58L171.5 58L172 58L172.5 58L173 58L173.5 58L174 58L174.5 58L175 58L175.5 58L176 58L176.5 58L177 58L177.5 58L178 58L178.5 58L179 58L179.5 58L180 58L180.5 58L181 58L181.5 58L182 58L182.5 58L183 58L183.5 58L184 58L184.5 58L185 58L185.5 58L186 58L186.5 58L187 58L187.5 58L188 58L188.5 58L189 58L189.5 58L190 58L190.5 58L191 58L191.5 58L192 58L192.5 58L193 58L193.5 58L194 58L194.5 58L195 58L195.5 58L196 58L196.5 58L197 58L197.5 58L198 58L198.5 58L199 58L199.5 58L200 58L200.5 58L201 58L201.5 58L202 58L202.5 58L203 58L203.5 58L204 58L204.5 58L205 58L205.5 58L206 58L206.5 58L207 58L207.5 58L208 58L208.5 58L209 58L209.5 58L210 58L210.5 58L211 58L211.5 58L212 58L212.5 58L213 58L213.5 58L214 58L214.5 58L215 58L215.5 58L216 58L216.5 58L217 58L217.5 58L218 58L218.5 58L219 58L219.5 58L220 58L220.5 58L221 58L221.5 58L222 58.1L222.5 58.1L223 58.1L223.5 58.1L224 58.1L224.5 58.1L225 58.1L225.5 58.1L226 58.1L226.5 58.1L227 58.2L227.5 58.2L228 58.2L228.5 58.2L229 58.2L229.5 58.2L230 58.2L230.5 58.3L231 58.3L231.5 58.3L232 58.3L232.5 58.3L233 58.3L233.5 58.4L234 58.4L234.5 58.4L235 58.5L235.5 58.5L236 58.6L236.5 58.6L237 58.7L237.5 58.7L238 58.8L238.5 58.8L239 58.9L239.5 58.9L240 59L240.5 59.1L241 59.1L241.5 59.2L242 59.2L242.5 59.3L243 59.4L243.5 59.5L244 59.5L244.5 59.6L245 59.7L245.5 59.8L246 59.9L246.5 60L247 60.2L247.5 60.3L248 60.4L248.5 60.6L249 60.7L249.5 60.9L250 61.1L250.5 61.3L251 61.6L251.5 61.8L252 62.1L252.5 62.3L253 62.6L253.5 62.9L254 63.2L254.5 63.5L255 63.8L255.5 64.1L256 64.5L256.5 64.9L257 65.2L257.5 65.6L258 66.1L258.5 66.5L259 67L259.5 67.5L260.1 68L260.6 68.6L261.1 69.1L261.6 69.7L262.1 70.4L262.6 71.1L263.1 71.9L263.6 72.7L264.1 73.5L264.6 74.3L265.1 75.1L265.6 76L266.1 76.8L266.6 77.8L267.1 78.7L267.6 79.8L268.1 80.9L268.6 82.2L269.1 83.5L269.6 84.9L270.1 86.4L270.6 88L271.1 89.6L271.6 91.2L272.1 92.9L272.6 94.6L273.1 96.3L273.6 98L274.1 99.8L274.6 101.6L275.1 103.5L275.6 105.5L276.1 107.5L276.6 109.6L277.1 111.8L277.6 114L278.1 116.4L278.6 118.9L279.1 121.5L279.6 124.2L280.1 127L280.6 129.9L281.1 133L281.6 136.1L282.1 139.4L282.6 142.9L283.1 146.6L283.6 150.5L284.1 154.6L284.6 158.9L285.1 163.4L285.6 168.2L286.1 173.3L286.6 178.8L287.1 184.5L287.6 190.4L288.1 196.5L288.6 203L289.1 209.8L289.6 216.9L290.1 224.2L290.6 231.8L291.1 239.8L291.6 248L292.1 256.4L292.6 265.2L293.1 274.2L293.6 283.2L294.1 292.2L294.6 301.4L295.1 310.7L295.6 319.7L296.1 328.5L296.6 337.2L297.1 345.8L297.6 354.1L298.1 361.9L298.6 369.3L299.1 376.4L299.6 383.1L300.1 389.4L300.6 395L301.1 400.5L301.6 405.6L302.1 410.1L302.6 413.5L303.1 416.1L303.6 418.4L304.1 420.2L304.6 421.2L305 420.7L305.4 419.4L305.8 417.2L306.2 414.1L306.6 410.2L307 405.5L307.4 400.1L307.8 394L308.2 387.3L308.6 380.1L309 372.4L309.4 364.4L309.8 356.1L310.2 347.6L310.6 339L310.9 330.4L311.3 321.9L311.7 313.6L312.1 305.6L312.5 297.9L312.9 290.7L313.3 284L313.7 277.9L314.1 272.5L314.5 267.8L314.9 263.9L315.3 260.8L315.7 258.6L316.1 257.3L316.5 256.8L316.9 257.7L317.3 260.5L317.7 265.1L318.1 271.3L318.4 278.9L318.8 287.8L319.2 297.5L319.6 308L320 318.7L320.4 329.4L320.8 339.9L321.2 349.6L321.6 358.5L321.9 366.1L322.3 372.3L322.7 376.9L323.1 379.7L323.5 380.6L323.9 379.1L324.3 374.7L324.7 367.6L325 358.2L325.4 347.2L325.8 335L326.2 322.6L326.6 310.4L327 299.4L327.3 290L327.7 282.9L328.1 278.5L328.5 277L328.9 278.8L329.2 284.2L329.6 292.6L330 303.4L330.3 315.8L330.7 328.6L331 341L331.4 351.8L331.8 360.2L332.1 365.6L332.5 367.4L332.9 365L333.2 357.9L333.6 347.2L334 334L334.3 319.9L334.7 306.7L335.1 296L335.4 288.9L335.8 286.5L336.2 289.4L336.5 297.6L336.9 309.8L337.2 324.2L337.6 338.7L338 350.9L338.3 359.1L338.7 362L339.1 358.4L339.4 348.4L339.8 334L340.1 318L340.5 303.6L340.8 293.6L341.2 290L341.6 294.6L341.9 307.1L342.3 324.2L342.7 341.4L343 353.9L343.4 358.5L343.7 354.1L344.1 342.2L344.4 326L344.7 309.8L345.1 297.9L345.4 293.5L347.2 351.4L349.1 302.3L350.9 351.1L352.7 305.7L354.4 347L356 306.1L357.5 340.9L359 307.4L360.4 339.4L361.8 309.3L363.1 338.3L364.4 312.6L365.6 339L366.8 310.1L367.9 336.4L369 314.1L370 337.8L371.1 311.7L372.1 336.8L373.2 314.7L374.2 337.6L375.3 316.7L376.3 336.3L377.4 316.4L378.4 333.1L379.5 317.7L380.5 333.1L381.6 315.9L382.6 332.4L383.7 317.1L384.7 333.3L385.8 318.1L386.8 332.6L387.9 319.3L388.9 331L390 319.3L391 332.1L392.1 319L393.1 331L394.2 318.9L395.2 331.2L396.3 319.7L397.3 331.7L398.4 319L399.4 330.3L400.5 319.2L401.5 331.1" stroke="#1fa178" stroke-linecap="butt"/>
<path d="M399.4 330.3L400.5 319.2L401.5 331.1L402.6 317.4L403.6 332.4L404.7 320.4L405.7 333.5L406.8 319.9L407.8 329L408.9 322L409.9 331.8L411 318.3L412 331.1L413.1 319.9L414.1 331.5L415.2 320.6L416.2 327.9L417.3 320.2L418.3 330.7L419.4 321.5L420.4 327.5L421.5 322.5L422.5 327.4L423.6 322.8L424.6 328.3L425.7 323.2L426.7 328.5L427.8 321.3L428.8 327.5L429.9 322.8L430.9 328.8L432 323.5L433 326.9L434.1 322.9L435.1 326.3L436.2 323.6L437.2 327.6L438.3 323.6L439.3 329.1L440.4 323.3L441.4 327.1L442.5 323.9L443.5 327.7L444.6 324.2L445.6 327.2L446.7 324.3L447.7 328.4L448.8 323.8L449.8 326.2L450.9 324.1L451.9 326.8L453 324.1L454 325.9L455.1 324.3L456.1 326.6L457.2 324.6L458.2 326.2L459.3 322.5L460.3 326.9L461.4 323.7L462.4 326.4L463.5 323.5L464.5 327L465.6 324L466.6 327.5L467.7 323.1L468.7 327.3L469.8 323.3L470.8 327.5L471.9 323.7L472.9 328.1L474 322.2L475 328.3L476.1 323.5L477.1 327L478.2 322.4L479.2 328.6L480.3 322.1L481.3 327L482.4 321.2L483.4 328.9L484.5 323L485.5 327.9L486.6 320.6L487.6 328.1L488.7 321.3L489.7 327.3L490.8 320.8L491.8 327.4L492.9 320.5L493.9 328L495 320.9L496 328.9L497.1 320.6L498.1 329.6L499.2 322.8L500.2 327.9L501.3 321.8L502.3 328L503.4 321.3L504.4 327.8L505.5 321.7L506.5 328.5L507.6 322.8L508.6 326.4L509.7 321.8L510.7 326.5L511.8 323.1L512.8 326.6L513.9 323.5L514.9 326.2L516 324L517 327L518.1 323.7L519.1 327.1L520.2 323.7L521.2 326.5L522.3 324L523.3 326.4L524.4 323.9L525.4 326.8L526.5 323.9L527.5 326.9L528.6 324.3L529.6 326.1L530.7 324.3L531.7 327.2L532.8 324.1L533.8 327.2L534.9 322.7L535.9 326.6L537 323.4L538 328.2L539.1 323.7L540.1 327.4L541.2 323.5L542.2 329.6L543.3 321.6L544.3 328L545.4 323.6L546.4 328.6L547.5 323.4L548.5 326.9L549.6 322.9L550.6 328L551.7 321.2L552.7 327.4L553.8 321.7L554.8 329.1L555.9 319.9L556.9 329.1L558 323L559 327.2L560.1 322.2L561.1 327.9" stroke="#1fa178" stroke-linejoin="miter" stroke-miterlimit="3" stroke-linecap="butt"/>
<path d="M559 327.2L560.1 322.2L561.1 327.9L562.2 322.5L563.2 328.2L564.3 322.8L565.3 327.5L566.4 322.5L567.4 327.6L568.5 322.9L569.5 327.6L570.6 322.9L571.6 327.6L572.7 322.6L573.7 327.8L574.8 322.2L575.8 327.8L576.9 322.4L577.9 327.7L579 322.5L580 327.5L581.1 322.6L582.1 327.6L583.2 322.1L584.2 328.1L585.3 322.6L586.3 328.1L587.4 321.8L588.4 327.7L589.5 321.9L590.5 328.1L591.6 322.2L592.6 328.6L593.7 322.3L594.7 328.2L595.8 322L596.8 328.8L597.9 322.3L598.9 328.7L600 321.9L601 328.5L602.1 322.2L603.1 328.1L604.2 322.6L605.2 327.9L606.3 322.6L607.3 328.6L608.4 322.4L609.4 327.9L610.5 322.5L611.5 328.7L612.6 321.7L613.6 328.5L614.7 322.3L615.7 328L616.8 322.3L617.8 328.3L618.9 322.4L619.9 328.3L621 322.3L622 328.9L623.1 321.5L624.1 328.4L625.2 322.3L626.2 328.9L627.3 322.3L628.3 328.2L629.4 322.6L630.4 328.2L631.5 322.1L632.5 328.4L633.6 322.4L634.6 328.4L635.7 322.6L636.7 328.1L637.8 322.5L638.8 328.3L639.9 322.5L640.9 327.8L642 322.2L643 328.1L644.1 321.9L645.1 328.4L646.2 321.7L647.2 328.6L648.3 321.8L649.3 328.8L650.4 322.1L651.4 328.2L652.5 321.4L653.5 328L654.6 321.7L655.6 328.6L656.7 322.5L657.7 328.8L658.8 321.5L659.8 328.5L660.9 321.7L661.9 328.8L663 322.4L664 328.4L665.1 322L666.1 328.8L667.2 321.6L668.2 328.8L669.3 321.9L670.3 328.9L671.4 321.8L672.4 328.6L673.5 322.3L674.5 327.9L675.6 322.4L676.6 328.2L677.7 322.5L678.7 328.8L679.8 321.9L680.8 328.5L681.9 321.9L682.9 328.6L684 322L685 327.8L686.1 321.7L687.1 328.7L688.2 322L689.2 328.4L690.3 321.8L691.3 327.9L692.4 321.7L693.4 328.1L694.5 322.5L695.5 328.1L696.6 321.7L697.6 328.1L698.7 321.7L699.7 328.9L700.8 322L701.8 328.2L702.9 322.1L703.9 328.5L705 321.8L706 328.4L707.1 322L708.1 327.8L709.2 322.6L710.2 327.9L711.3 322L712.3 327.9L713.4 322.2L714.4 327.6L715.5 322.8L716.5 327.8L717.6 322.2L718.6 328.2L719.7 322.2L720.7 327.8L721.8 322.4L722.8 327.9L723.9 322.5L724.9 327.5L726 322.1L727 327.6L728.1 322.1L729.1 328.2L730.2 323.1L731.2 327.7L732.3 322.4L733.3 328.2L734.4 322.7L735.4 327.5L736.5 323L737.5 328L738.6 323L739.6 327.7L740.7 323.1L741.7 327.6L742.8 322.5L743.8 327.2L744.9 322.7L745.9 327.4L747 322.8L748 327.5L749.1 323.3L750.1 327.5L751.2 323.2L752.2 326.8L753.3 323.6L754.3 327.1L755.4 323.4L756.4 326.9L757.5 323.7L758.5 326.8L759.6 323.6L760.6 327L761.7 323.9L762.7 326.9L763.8 323.5L764.8 326.5L765.9 323.5L766.9 326.7L768 323.6L769 326.4L770.1 324L771.1 326.4L772.2 323.8L773.2 326.4L774.3 324.1L775.3 326.3L776.4 324.3L777.4 326L778.5 324.4L779.5 326.1L780.6 324.5L781.6 326L782.7 324.6L783.7 325.7L784.8 324.7L785.8 325.6L786.9 324.8L787.9 325.6L788.6 325.2" stroke="#1fa178"/>
<path d="M124.9 58L127.9 58" stroke="#1fa178"/>
</g>
<line x1="110.5" y1="325.2" x2="802.8" y2="325.2" stroke="#000" stroke-width="1.7"/>
<g clip-path="url(#cb)" fill="none" stroke-width="5.2" stroke-linejoin="round" stroke-linecap="square">
<path d="M150 909L150.4 908.1L150.8 907.3L151.2 906.4L151.6 905.5L152 904.6L152.4 903.8L152.8 902.9L153.2 902L153.6 901.1L154 900.3L154.4 899.4L154.8 898.5L155.2 897.7L155.6 896.8L156 895.9L156.4 895L156.8 894.2L157.2 893.3L157.6 892.4L158 891.5L158.4 890.7L158.8 889.8L159.2 888.9L159.6 888.1L160 887.2L160.4 886.3L160.8 885.4L161.2 884.6L161.6 883.7L162 882.8L162.4 881.9L162.8 881.1L163.2 880.2L163.6 879.3L164 878.5L164.4 877.6L164.8 876.7L165.2 875.8L165.6 875L166 874.1L166.4 873.2L166.8 872.4L167.2 871.5L167.6 870.6L168 869.7L168.4 868.9L168.8 868L169.2 867.1L169.6 866.2L170 865.4L170.4 864.5L170.8 863.6L171.2 862.8L171.6 861.9L172 861L172.4 860.1L172.8 859.3L173.2 858.4L173.6 857.5L174 856.7L174.4 855.8L174.8 854.9L175.2 854L175.6 853.2L176 852.3L176.4 851.4L176.8 850.6L177.2 849.7L177.6 848.8L178 847.9L178.4 847.1L178.8 846.2L179.2 845.3L179.6 844.4L180 843.6L180.4 842.7L180.8 841.8L181.2 841L181.6 840.1L182 839.2L182.4 838.3L182.8 837.5L183.2 836.6L183.6 835.7L184 834.9L184.4 834L184.8 833.1L185.2 832.2L185.6 831.4L186 830.5L186.4 829.6L186.8 828.8L187.2 827.9L187.6 827L188 826.1L188.4 825.3L188.8 824.4L189.2 823.5L189.6 822.7L190 821.8L190.4 820.9L190.8 820L191.2 819.2L191.6 818.3L192 817.4L192.4 816.5L192.8 815.7L193.2 814.8L193.6 813.9L194 813.1L194.4 812.2L194.8 811.3L195.2 810.4L195.6 809.6L196 808.7L196.4 807.8L196.8 807L197.2 806.1L197.6 805.2L198 804.3L198.4 803.5L198.8 802.6L199.2 801.7L199.6 800.9L200 800L200.4 799.1L200.8 798.2L201.2 797.4L201.6 796.5L202 795.6L202.4 794.8L202.8 793.9L203.2 793L203.6 792.1L204 791.3L204.4 790.4L204.8 789.5L205.2 788.7L205.6 787.8L206 786.9L206.4 786.1L206.8 785.2L207.2 784.3L207.6 783.4L208 782.6L208.4 781.7L208.8 780.8L209.2 780L209.6 779.1L210 778.2L210.4 777.3L210.8 776.5L211.2 775.6L211.6 774.7L212 773.9L212.4 773L212.8 772.1L213.2 771.2L213.6 770.4L214 769.5L214.4 768.6L214.8 767.8L215.2 766.9L215.6 766L216 765.1L216.4 764.3L216.8 763.4L217.2 762.5L217.6 761.7L218 760.8L218.4 759.9L218.8 759.1L219.2 758.2L219.6 757.3L220 756.4L220.4 755.6L220.8 754.7L221.2 753.8L221.6 753L222 752.1L222.4 751.2L222.8 750.3L223.2 749.5L223.6 748.6L224 747.7L224.4 746.9L224.8 746L225.2 745.1L225.6 744.3L226 743.4L226.4 742.5L226.8 741.6L227.2 740.8L227.6 739.9L228 739L228.4 738.2L228.8 737.3L229.2 736.4L229.6 735.6L230 734.7L230.4 733.8L230.8 733L231.2 732.1L231.6 731.2L232 730.4L232.4 729.5L232.8 728.6L233.2 727.8L233.6 726.9L234 726L234.4 725.2L234.8 724.3L235.2 723.4L235.6 722.6L236 721.7L236.4 720.8L236.8 720L237.2 719.1L237.6 718.2L238 717.4L238.4 716.5L238.8 715.6L239.2 714.8L239.6 713.9L240 713L240.4 712.2L240.8 711.3L241.2 710.4L241.6 709.6L242 708.7L242.4 707.8L242.8 707L243.2 706.1L243.6 705.2L244 704.4L244.4 703.5L244.8 702.6L245.2 701.7L245.6 700.9L246 700L246.4 699.1L246.8 698.3L247.2 697.4L247.6 696.5L248 695.6L248.4 694.8L248.8 693.9L249.2 693L249.6 692.1L250 691.2L250.4 690.4L250.8 689.5L251.2 688.6L251.6 687.7L252 686.8L252.4 685.9L252.8 685L253.2 684.2L253.6 683.3L254 682.4L254.4 681.5L254.8 680.6L255.2 679.7L255.6 678.8L256 677.9L256.4 677L256.8 676.1L257.2 675.2L257.6 674.3L258 673.4L258.4 672.5L258.8 671.6L259.2 670.7L259.6 669.8L260 668.9L260.4 668L260.8 667.1L261.2 666.2L261.6 665.4L262 664.5L262.4 663.6L262.8 662.8L263.2 661.9L263.6 661L264 660.2L264.4 659.3L264.8 658.4L265.2 657.6L265.6 656.7L266 655.9L266.4 655L266.8 654.2L267.2 653.4L267.6 652.5L268 651.7L268.4 650.9L268.8 650.1L269.2 649.3L269.6 648.5L270 647.7L270.4 646.8L270.8 646L271.2 645.2L271.6 644.4L272 643.6L272.4 642.8L272.8 642L273.2 641.2L273.6 640.5L274 639.8L274.4 639L274.8 638.4L275.2 637.7L275.6 637.1L276 636.5L276.4 635.9L276.8 635.4L277.2 634.8L277.6 634.3L278 633.8L278.4 633.3L278.8 632.8L279.2 632.3L279.6 631.9L280 631.5L280.4 631.1L280.8 630.8L281.2 630.4L281.6 630.1L282 629.8L282.4 629.5L282.8 629.3L283.2 629L283.6 628.8L284 628.7L284.4 628.6L284.8 628.5L285.2 628.4L285.6 628.3L286 628.2L286.4 628.2L286.8 628.2L287.2 628.3L287.6 628.4L288 628.6L288.4 628.8L288.8 629L289.2 629.3L289.6 629.5L290 629.8L290.4 630L290.8 630.3L291.2 630.6L291.6 630.9L292 631.3L292.4 631.6L292.8 631.9L293.2 632.2L293.6 632.6L294 632.9L294.4 633.2L294.8 633.5L295.2 633.7L295.6 633.9L296 634L296.4 634.1L296.8 634.2L297.2 634.2L297.6 634L298 633.7L298.4 633.4L298.8 633L299.2 632.6L299.6 632.1L300 631.4L300.4 630.7L300.8 630L301.2 629.2L301.6 628.4L302 627.6L302.4 626.7L302.8 625.9L303.2 625.1L303.6 624.3L304 623.5L304.4 622.8L304.8 622.2L305.2 621.7L305.6 621.3L306 621L306.4 620.8L306.8 620.6L307.2 620.5L307.6 620.4L308 620.4L308.4 620.6L308.8 620.8L309.2 621L309.6 621.2L310 621.3L310.4 621.4L310.8 621.5L311.2 621.6L311.6 621.5L312 621.1L312.4 620.5L312.8 619.8L313.2 618.8L313.6 617.8L314 616.9L314.4 616.1L314.8 615.5L315.2 614.9L315.6 614.5L316 614.1L316.4 613.8L316.8 613.7L317.2 613.8L317.6 614L318 614.1L318.4 614.2L318.8 614.3L319.2 614.3L319.6 614.3L320 614.2L320.4 613.9L320.8 613.3L321.2 612.7L321.6 612.1L322 611.4L322.4 610.7L322.8 610.1L323.2 609.7L323.6 609.3L324 609L324.4 608.8L324.8 608.6L325.2 608.4L325.6 608.3L326 608.3L326.4 608.3L326.8 608.4L327.2 608.4L327.6 608.3L328 607.9L328.4 607.5L328.8 607.1L329.2 606.6L329.6 606.1L330 605.5L330.4 605L330.8 604.6L331.2 604.3L331.6 604L332 603.7L332.4 603.5L332.8 603.3L333.2 603.1L333.6 603L334 602.7L334.4 602.4L334.8 602L335.2 601.6L335.6 601.2L336 600.8L336.4 600.4L336.8 600L337.2 599.7L337.6 599.4L338 599.1L338.4 598.8L338.8 598.5L339.2 598.3L339.6 598L340 597.7L340.4 597.4L340.8 597.1L341.2 596.8L341.6 596.4L342 596.1L342.4 595.8L342.8 595.4L343.2 595.1L343.6 594.8L344 594.4L344.4 594.1L344.8 593.7L345.2 593.4L345.6 593L346 592.7L346.4 592.3L346.8 591.9L347.2 591.6L347.6 591.2L348 590.9L348.4 590.5L348.8 590.2L349.2 589.8L349.6 589.4L350 589.1L350.4 588.8L350.8 588.4L351.2 588.1L351.6 587.7L352 587.4L352.4 587.1L352.8 586.7L353.2 586.4L353.6 586.1L354 585.7L354.4 585.4L354.8 585.1L355.2 584.8L355.6 584.4L356 584.1L356.4 583.8L356.8 583.5L357.2 583.1L357.6 582.8L358 582.5L358.4 582.2L358.8 581.8L359.2 581.5L359.6 581.2L360 580.9L360.4 580.6L360.8 580.3L361.2 580L361.6 579.7L362 579.4L362.4 579L362.8 578.8L363.2 578.5L363.6 578.2L364 577.9L364.4 577.6L364.8 577.3L365.2 577L365.6 576.7L366 576.4L366.4 576.1L366.8 575.9L367.2 575.6L367.6 575.3L368 575L368.4 574.7L368.8 574.5L369.2 574.2L369.6 573.9L370 573.6L370.4 573.4L370.8 573.1L371.2 572.8L371.6 572.6L372 572.3L372.4 572.1L372.8 571.8L373.2 571.6L373.6 571.3L374 571.1L374.4 570.8L374.8 570.6L375.2 570.4L375.6 570.2L376 570L376.4 569.7L376.8 569.5L377.2 569.3L377.6 569.1L378 568.9L378.4 568.7L378.8 568.5L379.2 568.3L379.6 568.1L380 567.9L380.4 567.7L380.8 567.6L381.2 567.4L381.6 567.2L382 567L382.4 566.8L382.8 566.7L383.2 566.5L383.6 566.3L384 566.1L384.4 566L384.8 565.8L385.2 565.6L385.6 565.5L386 565.3L386.4 565.2L386.8 565L387.2 564.9L387.6 564.7L388 564.6L388.4 564.4L388.8 564.3L389.2 564.1L389.6 564L390 563.9L390.4 563.7L390.8 563.6L391.2 563.4L391.6 563.3L392 563.2L392.4 563L392.8 562.9L393.2 562.8L393.6 562.6L394 562.5L394.4 562.4L394.8 562.3L395.2 562.2L395.6 562L396 561.9L396.4 561.8L396.8 561.7L397.2 561.6L397.6 561.5L398 561.4L398.4 561.3L398.8 561.2L399.2 561.1L399.6 561L400 560.9L400.4 560.9L400.8 560.8L401.2 560.7L401.6 560.6L402 560.6L402.4 560.5L402.8 560.4L403.2 560.3L403.6 560.3L404 560.2L404.4 560.1L404.8 560.1L405.2 560L405.6 559.9L406 559.9L406.4 559.8L406.8 559.8L407.2 559.7L407.6 559.7L408 559.6L408.4 559.5L408.8 559.5L409.2 559.4L409.6 559.4L410 559.4L410.4 559.3L410.8 559.3L411.2 559.2L411.6 559.2L412 559.1L412.4 559.1L412.8 559.1L413.2 559L413.6 559L414 558.9L414.4 558.9L414.8 558.9L415.2 558.8L415.6 558.8L416 558.7L416.4 558.7L416.8 558.7L417.2 558.6L417.6 558.6L418 558.6L418.4 558.5L418.8 558.5L419.2 558.5L419.6 558.4L420 558.4L420.4 558.4L420.8 558.4L421.2 558.3L421.6 558.3L422 558.3L422.4 558.3L422.8 558.3L423.2 558.2L423.6 558.2L424 558.2L424.4 558.2L424.8 558.2L425.2 558.2L425.6 558.2L426 558.1L426.4 558.1L426.8 558.1L427.2 558.1L427.6 558.1L428 558.1L428.4 558.1L428.8 558.1L429.2 558.1L429.6 558L430 558L430.4 558L430.8 558L431.2 558L431.6 558L432 558L432.4 558L432.8 558L433.2 558L433.6 558L434 558L434.4 557.9L434.8 557.9L435.2 557.9L435.6 557.9L436 557.9L436.4 557.9L436.8 557.9L437.2 557.9L437.6 557.9L438 557.9L438.4 557.9L438.8 557.9L439.2 557.9L439.6 557.9L440 557.9L440.4 557.9L440.8 557.9L441.2 557.9L441.6 557.9L442 557.9L442.4 557.9L442.8 557.9L443.2 557.9L443.6 557.9L444 557.9L444.4 557.9L444.8 557.9L445.2 557.9L445.6 557.9L446 557.9L446.4 557.9L446.8 557.9L447.2 557.9L447.6 557.9L448 557.9L448.4 557.9L448.8 557.9L449.2 557.9L449.6 557.9L450 557.9L450.4 557.9L450.8 557.9L451.2 557.9L451.6 557.9L452 557.9L452.4 557.9L452.8 557.9L453.2 557.9L453.6 557.9L454 557.9L454.4 557.9L454.8 557.9L455.2 557.9L455.6 557.9L456 557.9L456.4 557.9L456.8 557.9L457.2 557.9L457.6 557.9L458 557.9L458.4 557.9L458.8 557.9L459.2 557.9L459.6 557.9L460 557.9L460.4 557.9L460.8 557.9L461.2 557.9L461.6 557.9L462 557.9L462.4 557.9L462.8 557.9L463.2 557.9L463.6 557.9L464 557.9L464.4 557.9L464.8 557.9L465.2 557.9L465.6 557.9L466 557.9L466.4 557.9L466.8 557.9L467.2 557.9L467.6 557.9L468 557.9L468.4 557.9L468.8 557.9L469.2 557.9L469.6 557.9L470 557.9L470.4 557.9L470.8 557.9L471.2 557.9L471.6 557.9L472 557.9L472.4 557.9L472.8 557.9L473.2 557.9L473.6 557.9L474 557.9L474.4 557.9L474.8 557.9L475.2 557.9L475.6 557.9L476 557.9L476.4 557.9L476.8 557.9L477.2 557.9L477.6 557.9L478 557.9L478.4 557.9L478.8 557.9L479.2 557.9L479.6 557.9L480 557.9L480.4 557.9L480.8 557.9L481.2 557.9L481.6 557.9L482 557.9L482.4 557.9L482.8 557.9L483.2 557.9L483.6 557.9L484 557.9L484.4 557.9L484.8 557.9L485.2 557.9L485.6 557.9L486 557.9L486.4 557.9L486.8 557.9L487.2 557.9L487.6 557.9L488 557.9L488.4 557.9L488.8 557.9L489.2 557.9L489.6 557.9L490 557.9L490.4 557.9L490.8 557.9L491.2 557.9L491.6 557.9L492 557.9L492.4 557.9L492.8 557.9L493.2 557.9L493.6 557.9L494 557.9L494.4 557.9L494.8 557.9L495.2 557.9L495.6 557.9L496 557.9L496.4 557.9L496.8 557.9L497.2 557.9L497.6 557.9L498 557.9L498.4 557.9L498.8 557.9L499.2 557.9L499.6 557.9L500 557.9L500.4 557.9L500.8 557.9L501.2 557.9L501.6 557.9L502 557.9L502.4 557.9L502.8 557.9L503.2 557.9L503.6 557.9L504 557.9L504.4 557.9L504.8 557.9L505.2 557.9L505.6 557.9L506 557.9L506.4 557.9L506.8 557.9L507.2 557.9L507.6 557.9L508 557.9L508.4 557.9L508.8 557.9L509.2 557.9L509.6 557.9L510 557.9L510.4 557.9L510.8 557.9L511.2 557.9L511.6 557.9L512 557.9L512.4 557.9L512.8 557.9L513.2 557.9L513.6 557.9L514 557.9L514.4 557.9L514.8 557.9L515.2 557.9L515.6 557.9L516 557.9L516.4 557.9L516.8 557.9L517.2 557.9L517.6 557.9L518 557.9L518.4 557.9L518.8 557.9L519.2 557.9L519.6 557.9L520 557.9L520.4 557.9L520.8 557.9L521.2 557.9L521.6 557.9L522 557.9L522.4 557.9L522.8 557.9L523.2 557.9L523.6 557.9L524 557.9L524.4 557.9L524.8 557.9L525.2 557.9L525.6 557.9L526 557.9L526.4 557.9L526.8 557.9L527.2 557.9L527.6 557.9L528 557.9L528.4 557.9L528.8 557.9L529.2 557.9L529.6 557.9L530 557.9L530.4 557.9L530.8 557.9L531.2 557.9L531.6 557.9L532 557.9L532.4 557.9L532.8 557.9L533.2 557.9L533.6 557.9L534 557.9L534.4 557.9L534.8 557.9L535.2 557.9L535.6 557.9L536 557.9L536.4 557.9L536.8 557.9L537.2 557.9L537.6 557.9L538 557.9L538.4 557.9L538.8 557.9L539.2 557.9L539.6 557.9L540 557.9L540.4 557.9L540.8 557.9L541.2 557.9L541.6 557.9L542 557.9L542.4 557.9L542.8 557.9L543.2 557.9L543.6 557.9L544 557.9L544.4 557.9L544.8 557.9L545.2 557.9L545.6 557.9L546 557.9L546.4 557.9L546.8 557.9L547.2 557.9L547.6 557.9L548 557.9L548.4 557.9L548.8 557.9L549.2 557.9L549.6 557.9L550 557.9L550.4 557.9L550.8 557.9L551.2 557.9L551.6 557.9L552 557.9L552.4 557.9L552.8 557.9L553.2 557.9L553.6 557.9L554 557.9L554.4 557.9L554.8 557.9L555.2 557.9L555.6 557.9L556 557.9L556.4 557.9L556.8 557.9L557.2 557.9L557.6 557.9L558 557.9L558.4 557.9L558.8 557.9L559.2 557.9L559.6 557.9L560 557.9L560.4 557.9L560.8 557.9L561.2 557.9L561.6 557.9L562 557.9L562.4 557.9L562.8 557.9L563.2 557.9L563.6 557.9L564 557.9L564.4 557.9L564.8 557.9L565.2 557.9L565.6 557.9L566 557.9L566.4 557.9L566.8 557.9L567.2 557.9L567.6 557.9L568 557.9L568.4 557.9L568.8 557.9L569.2 557.9L569.6 557.9L570 557.9L570.4 557.9L570.8 557.9L571.2 557.9L571.6 557.9L572 557.9L572.4 557.9L572.8 557.9L573.2 557.9L573.6 557.9L574 557.9L574.4 557.9L574.8 557.9L575.2 557.9L575.6 557.9L576 557.9L576.4 557.9L576.8 557.9L577.2 557.9L577.6 557.9L578 557.9L578.4 557.9L578.8 557.9L579.2 557.9L579.6 557.9L580 557.9L580.4 557.9L580.8 557.9L581.2 557.9L581.6 557.9L582 557.9L582.4 557.9L582.8 557.9L583.2 557.9L583.6 557.9L584 557.9L584.4 557.9L584.8 557.9L585.2 557.9L585.6 557.9L586 557.9L586.4 557.9L586.8 557.9L587.2 557.9L587.6 557.9L588 557.9L588.4 557.9L588.8 557.9L589.2 557.9L589.6 557.9L590 557.9L590.4 557.9L590.8 557.9L591.2 557.9L591.6 557.9L592 557.9L592.4 557.9L592.8 557.9L593.2 557.9L593.6 557.9L594 557.9L594.4 557.9L594.8 557.9L595.2 557.9L595.6 557.9L596 557.9L596.4 557.9L596.8 557.9L597.2 557.9L597.6 557.9L598 557.9L598.4 557.9L598.8 557.9L599.2 557.9L599.6 557.9L600 557.9L600.4 557.9L600.8 557.9L601.2 557.9L601.6 557.9L602 557.9L602.4 557.9L602.8 557.9L603.2 557.9L603.6 557.9L604 557.9L604.4 557.9L604.8 557.9L605.2 557.9L605.6 557.9L606 557.9L606.4 557.9L606.8 557.9L607.2 557.9L607.6 557.9L608 557.9L608.4 557.9L608.8 557.9L609.2 557.9L609.6 557.9L610 557.9L610.4 557.9L610.8 557.9L611.2 557.9L611.6 557.9L612 557.9L612.4 557.9L612.8 557.9L613.2 557.9L613.6 557.9L614 557.9L614.4 557.9L614.8 557.9L615.2 557.9L615.6 557.9L616 557.9L616.4 557.9L616.8 557.9L617.2 557.9L617.6 557.9L618 557.9L618.4 557.9L618.8 557.9L619.2 557.9L619.6 557.9L620 557.9L620.4 557.9L620.8 557.9L621.2 557.9L621.6 557.9L622 557.9L622.4 557.9L622.8 557.9L623.2 557.9L623.6 557.9L624 557.9L624.4 557.9L624.8 557.9L625.2 557.9L625.6 557.9L626 557.9L626.4 557.9L626.8 557.9L627.2 557.9L627.6 557.9L628 557.9L628.4 557.9L628.8 557.9L629.2 557.9L629.6 557.9L630 557.9L630.4 557.9L630.8 557.9L631.2 557.9L631.6 557.9L632 557.9L632.4 557.9L632.8 557.9L633.2 557.9L633.6 557.9L634 557.9L634.4 557.9L634.8 557.9L635.2 557.9L635.6 557.9L636 557.9L636.4 557.9L636.8 557.9L637.2 557.9L637.6 557.9L638 557.9L638.4 557.9L638.8 557.9L639.2 557.9L639.6 557.9L640 557.9L640.4 557.9L640.8 557.9L641.2 557.9L641.6 557.9L642 557.9L642.4 557.9L642.8 557.9L643.2 557.9L643.6 557.9L644 557.9L644.4 557.9L644.8 557.9L645.2 557.9L645.6 557.9L646 557.9L646.4 557.9L646.8 557.9L647.2 557.9L647.6 557.9L648 557.9L648.4 557.9L648.8 557.9L649.2 557.9L649.6 557.9L650 557.9L650.4 557.9L650.8 557.9L651.2 557.9L651.6 557.9L652 557.9L652.4 557.9L652.8 557.9L653.2 557.9L653.6 557.9L654 557.9L654.4 557.9L654.8 557.9L655.2 557.9L655.6 557.9L656 557.9L656.4 557.9L656.8 557.9L657.2 557.9L657.6 557.9L658 557.9L658.4 557.9L658.8 557.9L659.2 557.9L659.6 557.9L660 557.9L660.4 557.9L660.8 557.9L661.2 557.9L661.6 557.9L662 557.9L662.4 557.9L662.8 557.9L663.2 557.9L663.6 557.9L664 557.9L664.4 557.9L664.8 557.9L665.2 557.9L665.6 557.9L666 557.9L666.4 557.9L666.8 557.9L667.2 557.9L667.6 557.9L668 557.9L668.4 557.9L668.8 557.9L669.2 557.9L669.6 557.9L670 557.9L670.4 557.9L670.8 557.9L671.2 557.9L671.6 557.9L672 557.9L672.4 557.9L672.8 557.9L673.2 557.9L673.6 557.9L674 557.9L674.4 557.9L674.8 557.9L675.2 557.9L675.6 557.9L676 557.9L676.4 557.9L676.8 557.9L677.2 557.9L677.6 557.9L678 557.9L678.4 557.9L678.8 557.9L679.2 557.9L679.6 557.9L680 557.9L680.4 557.9L680.8 557.9L681.2 557.9L681.6 557.9L682 557.9L682.4 557.9L682.8 557.9L683.2 557.9L683.6 557.9L684 557.9L684.4 557.9L684.8 557.9L685.2 557.9L685.6 557.9L686 557.9L686.4 557.9L686.8 557.9L687.2 557.9L687.6 557.9L688 557.9L688.4 557.9L688.8 557.9L689.2 557.9L689.6 557.9L690 557.9L690.4 557.9L690.8 557.9L691.2 557.9L691.6 557.9L692 557.9L692.4 557.9L692.8 557.9L693.2 557.9L693.6 557.9L694 557.9L694.4 557.9L694.8 557.9L695.2 557.9L695.6 557.9L696 557.9L696.4 557.9L696.8 557.9L697.2 557.9L697.6 557.9L698 557.9L698.4 557.9L698.8 557.9L699.2 557.9L699.6 557.9L700 557.9L700.4 557.9L700.8 557.9L701.2 557.9L701.6 557.9L702 557.9L702.4 557.9L702.8 557.9L703.2 557.9L703.6 557.9L704 557.9L704.4 557.9L704.8 557.9L705.2 557.9L705.6 557.9L706 557.9L706.4 557.9L706.8 557.9L707.2 557.9L707.6 557.9L708 557.9L708.4 557.9L708.8 557.9L709.2 557.9L709.6 557.9L710 557.9L710.4 557.9L710.8 557.9L711.2 557.9L711.6 557.9L712 557.9L712.4 557.9L712.8 557.9L713.2 557.9L713.6 557.9L714 557.9L714.4 557.9L714.8 557.9L715.2 557.9L715.6 557.9L716 557.9L716.4 557.9L716.8 557.9L717.2 557.9L717.6 557.9L718 557.9L718.4 557.9L718.8 557.9L719.2 557.9L719.6 557.9L720 557.9L720.4 557.9L720.8 557.9L721.2 557.9L721.6 557.9L722 557.9L722.4 557.9L722.8 557.9L723.2 557.9L723.6 557.9L724 557.9L724.4 557.9L724.8 557.9L725.2 557.9L725.6 557.9L726 557.9L726.4 557.9L726.8 557.9L727.2 557.9L727.6 557.9L728 557.9L728.4 557.9L728.8 557.9L729.2 557.9L729.6 557.9L730 557.9L730.4 557.9L730.8 557.9L731.2 557.9L731.6 557.9L732 557.9L732.4 557.9L732.8 557.9L733.2 557.9L733.6 557.9L734 557.9L734.4 557.9L734.8 557.9L735.2 557.9L735.6 557.9L736 557.9L736.4 557.9L736.8 557.9L737.2 557.9L737.6 557.9L738 557.9L738.4 557.9L738.8 557.9L739.2 557.9L739.6 557.9L740 557.9L740.4 557.9L740.8 557.9L741.2 557.9L741.6 557.9L742 557.9L742.4 557.9L742.8 557.9L743.2 557.9L743.6 557.9L744 557.9L744.4 557.9L744.8 557.9L745.2 557.9L745.6 557.9L746 557.9L746.4 557.9L746.8 557.9L747.2 557.9L747.6 557.9L748 557.9L748.4 557.9L748.8 557.9L749.2 557.9L749.6 557.9L750 557.9L750.4 557.9L750.8 557.9L751.2 557.9L751.6 557.9L752 557.9L752.4 557.9L752.8 557.9L753.2 557.9L753.6 557.9L754 557.9L754.4 557.9L754.8 557.9L755.2 557.9L755.6 557.9L756 557.9L756.4 557.9L756.8 557.9L757.2 557.9L757.6 557.9L758 557.9L758.4 557.9L758.8 557.9L759.2 557.9L759.6 557.9L760 557.9L760.4 557.9L760.8 557.9L761.2 557.9L761.6 557.9L762 557.9L762.4 557.9L762.8 557.9L763.2 557.9L763.6 557.9L764 557.9L764.4 557.9L764.8 557.9L765.2 557.9L765.6 557.9L766 557.9L766.4 557.9L766.8 557.9L767.2 557.9L767.6 557.9L768 557.9L768.4 557.9L768.8 557.9L769.2 557.9L769.6 557.9L770 557.9L770.4 557.9L770.8 557.9L771.2 557.9L771.6 557.9L772 557.9L772.4 557.9L772.8 557.9L773.2 557.9L773.6 557.9L774 557.9L774.4 557.9L774.8 557.9L775.2 557.9L775.6 557.9L776 557.9L776.4 557.9L776.8 557.9L777.2 557.9L777.6 557.9L778 557.9L778.4 557.9L778.8 557.9L779.2 557.9L779.6 557.9L780 557.9L780.4 557.9L780.8 557.9L781.2 557.9L781.6 557.9L782 557.9L782.4 557.9L782.8 557.9L783.2 557.9L783.6 557.9L784 557.9L784.4 557.9L784.8 557.9L785.2 557.9L785.6 557.9L786 557.9L786.4 557.9L786.8 557.9L787.2 557.9L787.6 557.9L788 557.9L788.4 557.9L788.8 557.9L789.2 557.9" stroke="#3668cd"/>
<path d="M150 909L150.4 908.1L150.8 907.3L151.2 906.4L151.6 905.5L152 904.6L152.4 903.8L152.8 902.9L153.2 902L153.6 901.1L154 900.3L154.4 899.4L154.8 898.5L155.2 897.7L155.6 896.8L156 895.9L156.4 895L156.8 894.2L157.2 893.3L157.6 892.4L158 891.5L158.4 890.7L158.8 889.8L159.2 888.9L159.6 888.1L160 887.2L160.4 886.3L160.8 885.4L161.2 884.6L161.6 883.7L162 882.8L162.4 881.9L162.8 881.1L163.2 880.2L163.6 879.3L164 878.5L164.4 877.6L164.8 876.7L165.2 875.8L165.6 875L166 874.1L166.4 873.2L166.8 872.4L167.2 871.5L167.6 870.6L168 869.7L168.4 868.9L168.8 868L169.2 867.1L169.6 866.2L170 865.4L170.4 864.5L170.8 863.6L171.2 862.8L171.6 861.9L172 861L172.4 860.1L172.8 859.3L173.2 858.4L173.6 857.5L174 856.7L174.4 855.8L174.8 854.9L175.2 854L175.6 853.2L176 852.3L176.4 851.4L176.8 850.6L177.2 849.7L177.6 848.8L178 847.9L178.4 847.1L178.8 846.2L179.2 845.3L179.6 844.4L180 843.6L180.4 842.7L180.8 841.8L181.2 841L181.6 840.1L182 839.2L182.4 838.3L182.8 837.5L183.2 836.6L183.6 835.7L184 834.9L184.4 834L184.8 833.1L185.2 832.2L185.6 831.4L186 830.5L186.4 829.6L186.8 828.8L187.2 827.9L187.6 827L188 826.1L188.4 825.3L188.8 824.4L189.2 823.5L189.6 822.7L190 821.8L190.4 820.9L190.8 820L191.2 819.2L191.6 818.3L192 817.4L192.4 816.5L192.8 815.7L193.2 814.8L193.6 813.9L194 813.1L194.4 812.2L194.8 811.3L195.2 810.4L195.6 809.6L196 808.7L196.4 807.8L196.8 807L197.2 806.1L197.6 805.2L198 804.3L198.4 803.5L198.8 802.6L199.2 801.7L199.6 800.9L200 800L200.4 799.1L200.8 798.2L201.2 797.4L201.6 796.5L202 795.6L202.4 794.8L202.8 793.9L203.2 793L203.6 792.1L204 791.3L204.4 790.4L204.8 789.5L205.2 788.7L205.6 787.8L206 786.9L206.4 786.1L206.8 785.2L207.2 784.3L207.6 783.4L208 782.6L208.4 781.7L208.8 780.8L209.2 780L209.6 779.1L210 778.2L210.4 777.3L210.8 776.5L211.2 775.6L211.6 774.7L212 773.9L212.4 773L212.8 772.1L213.2 771.2L213.6 770.4L214 769.5L214.4 768.6L214.8 767.8L215.2 766.9L215.6 766L216 765.1L216.4 764.3L216.8 763.4L217.2 762.5L217.6 761.7L218 760.8L218.4 759.9L218.8 759.1L219.2 758.2L219.6 757.3L220 756.4L220.4 755.6L220.8 754.7L221.2 753.8L221.6 753L222 752.1L222.4 751.2L222.8 750.3L223.2 749.5L223.6 748.6L224 747.7L224.4 746.9L224.8 746L225.2 745.1L225.6 744.3L226 743.4L226.4 742.5L226.8 741.6L227.2 740.8L227.6 739.9L228 739L228.4 738.2L228.8 737.3L229.2 736.4L229.6 735.6L230 734.7L230.4 733.8L230.8 733L231.2 732.1L231.6 731.2L232 730.4L232.4 729.5L232.8 728.6L233.2 727.8L233.6 726.9L234 726L234.4 725.2L234.8 724.3L235.2 723.4L235.6 722.6L236 721.7L236.4 720.8L236.8 720L237.2 719.1L237.6 718.2L238 717.4L238.4 716.5L238.8 715.6L239.2 714.8L239.6 713.9L240 713L240.4 712.2L240.8 711.3L241.2 710.4L241.6 709.6L242 708.7L242.4 707.8L242.8 707L243.2 706.1L243.6 705.2L244 704.4L244.4 703.5L244.8 702.6L245.2 701.7L245.6 700.9L246 700L246.4 699.1L246.8 698.3L247.2 697.4L247.6 696.5L248 695.6L248.4 694.8L248.8 693.9L249.2 693L249.6 692.1L250 691.2L250.4 690.4L250.8 689.5L251.2 688.6L251.6 687.7L252 686.8L252.4 685.9L252.8 685L253.2 684.2L253.6 683.3L254 682.4L254.4 681.5L254.8 680.6L255.2 679.7L255.6 678.8L256 677.9L256.4 677L256.8 676.1L257.2 675.2L257.6 674.3L258 673.4L258.4 672.5L258.8 671.6L259.2 670.7L259.6 669.8L260 668.9L260.4 668L260.8 667.1L261.2 666.2L261.6 665.4L262 664.5L262.4 663.6L262.8 662.8L263.2 661.9L263.6 661L264 660.2L264.4 659.3L264.8 658.4L265.2 657.6L265.6 656.7L266 655.9L266.4 655L266.8 654.2L267.2 653.4L267.6 652.5L268 651.7L268.4 650.9L268.8 650.1L269.2 649.3L269.6 648.5L270 647.7L270.4 646.8L270.8 646L271.2 645.2L271.6 644.4L272 643.6L272.4 642.8L272.8 642L273.2 641.2L273.6 640.5L274 639.8L274.4 639L274.8 638.4L275.2 637.7L275.6 637.1L276 636.5L276.4 635.9L276.8 635.4L277.2 634.8L277.6 634.3L278 633.8L278.4 633.3L278.8 632.8L279.2 632.3L279.6 631.9L280 631.5L280.4 631.1L280.8 630.8L281.2 630.4L281.6 630.1L282 629.8L282.4 629.5L282.8 629.3L283.2 629L283.6 628.8L284 628.7L284.4 628.6L284.8 628.5L285.2 628.4L285.6 628.3L286 628.2L286.4 628.2L286.8 628.2L287.2 628.3L287.6 628.4L288 628.6L288.4 628.8L288.8 629L289.2 629.3L289.6 629.5L290 629.8L290.4 630L290.8 630.3L291.2 630.6L291.6 630.9L292 631.3L292.4 631.6L292.8 631.9L293.2 632.2L293.6 632.6L294 632.9L294.4 633.2L294.8 633.5L295.2 633.7L295.6 633.9L296 634L296.4 634.1L296.8 634.2L297.2 634.2L297.6 634L298 633.7L298.4 633.4L298.8 633L299.2 632.6L299.6 632.1L300 631.4L300.4 630.7L300.8 630L301.2 629.2L301.6 628.4L302 627.6L302.4 626.7L302.8 625.9L303.2 625.1L303.6 624.3L304 623.5L304.4 622.8L304.8 622.2L305.2 621.7L305.6 621.3L306 621L306.4 620.8L306.8 620.6L307.2 620.5L307.6 620.4L308 620.4L308.4 620.6L308.8 620.8L309.2 621L309.6 621.2L310 621.3L310.4 621.4L310.8 621.5L311.2 621.6L311.6 621.5L312 621.1L312.4 620.5L312.8 619.8L313.2 618.8L313.6 617.8L314 616.9L314.4 616.1L314.8 615.5L315.2 614.9L315.6 614.5L316 614.1L316.4 613.8L316.8 613.7L317.2 613.8L317.6 614L318 614.1L318.4 614.2L318.8 614.3L319.2 614.3L319.6 614.3L320 614.2L320.4 613.9L320.8 613.3L321.2 612.7L321.6 612.1L322 611.4L322.4 610.7L322.8 610.1L323.2 609.7L323.6 609.3L324 609L324.4 608.8L324.8 608.6L325.2 608.4L325.6 608.3L326 608.3L326.4 608.3L326.8 608.4L327.2 608.4L327.6 608.3L328 607.9L328.4 607.5L328.8 607.1L329.2 606.6L329.6 606.1L330 605.5L330.4 605L330.8 604.6L331.2 604.3L331.6 604L332 603.7L332.4 603.5L332.8 603.3L333.2 603.1L333.6 603L334 602.7L334.4 602.4L334.8 602L335.2 601.6L335.6 601.2L336 600.8L336.4 600.4L336.8 600L337.2 599.7L337.6 599.4L338 599.1L338.4 598.8L338.8 598.5L339.2 598.3L339.6 598L340 597.7L340.4 597.4L340.8 597.1L341.2 596.8L341.6 596.4L342 596.1L342.4 595.8L342.8 595.4L343.2 595.1L343.6 594.8L344 594.4L344.4 594.1L344.8 593.7L345.2 593.4L345.6 593L346 592.7L346.4 592.3L346.8 591.9L347.2 591.6L347.6 591.2L348 590.9L348.4 590.5L348.8 590.2L349.2 589.8L349.6 589.4L350 589.1L350.4 588.8L350.8 588.4L351.2 588.1L351.6 587.7L352 587.4L352.4 587.1L352.8 586.7L353.2 586.4L353.6 586.1L354 585.7L354.4 585.4L354.8 585.1L355.2 584.8L355.6 584.4L356 584.1L356.4 583.8L356.8 583.5L357.2 583.1L357.6 582.8L358 582.5L358.4 582.2L358.8 581.8L359.2 581.5L359.6 581.2L360 580.9L360.4 580.6L360.8 580.3L361.2 580L361.6 579.7L362 579.4L362.4 579L362.8 578.8L363.2 578.5L363.6 578.2L364 577.9L364.4 577.6L364.8 577.3L365.2 577L365.6 576.7L366 576.4L366.4 576.1L366.8 575.9L367.2 575.6L367.6 575.3L368 575L368.4 574.7L368.8 574.5L369.2 574.2L369.6 573.9L370 573.6L370.4 573.4L370.8 573.1L371.2 572.8L371.6 572.6L372 572.3L372.4 572.1L372.8 571.8L373.2 571.6L373.6 571.3L374 571.1L374.4 570.8L374.8 570.6L375.2 570.4L375.6 570.2L376 570L376.4 569.7L376.8 569.5L377.2 569.3L377.6 569.1L378 568.9L378.4 568.7L378.8 568.5L379.2 568.3L379.6 568.1L380 567.9L380.4 567.7L380.8 567.6L381.2 567.4L381.6 567.2L382 567L382.4 566.8L382.8 566.7L383.2 566.5L383.6 566.3L384 566.1L384.4 566L384.8 565.8L385.2 565.6L385.6 565.5L386 565.3L386.4 565.2L386.8 565L387.2 564.9L387.6 564.7L388 564.6L388.4 564.4L388.8 564.3L389.2 564.1L389.6 564L390 563.9L390.4 563.7L390.8 563.6L391.2 563.4L391.6 563.3L392 563.2L392.4 563L392.8 562.9L393.2 562.8L393.6 562.6L394 562.5L394.4 562.4L394.8 562.3L395.2 562.2L395.6 562L396 561.9L396.4 561.8L396.8 561.7L397.2 561.6L397.6 561.5L398 561.4L398.4 561.3L398.8 561.2L399.2 561.1L399.6 561L400 560.9L400.4 560.9L400.8 560.8L401.2 560.7L401.6 560.6L402 560.6L402.4 560.5L402.8 560.4L403.2 560.3L403.6 560.3L404 560.2L404.4 560.1L404.8 560.1L405.2 560L405.6 559.9L406 559.9L406.4 559.8L406.8 559.8L407.2 559.7L407.6 559.7L408 559.6L408.4 559.5L408.8 559.5L409.2 559.4L409.6 559.4" stroke="#3668cd" stroke-width="5.8" stroke-linecap="butt"/>
<path d="M264.3 910L264.8 904.9L265.3 899.8L265.8 894.7L266.3 889.6L266.8 884.6L267.3 879.5L267.8 874.4L268.3 869.2L268.8 864.1L269.3 859L269.8 854L270.3 849L270.8 844.2L271.3 839.4L271.8 834.7L272.3 830L272.8 825.4L273.3 820.8L273.8 816.3L274.3 811.9L274.9 807.5L275.4 803.2L275.9 798.9L276.4 794.6L276.9 790.4L277.4 786.2L277.9 782.1L278.4 778L278.9 774L279.4 770.1L279.9 766.3L280.4 762.5L280.9 758.9L281.4 755.4L281.9 752L282.4 748.7L282.9 745.4L283.4 742.2L283.9 739L284.4 735.9L284.9 732.7L285.4 729.6L285.9 726.5L286.4 723.3L286.9 720.2L287.4 717.1L287.9 714.1L288.4 711.2L288.9 708.5L289.4 705.8L289.9 703.2L290.4 700.7L290.9 698.3L291.4 696.1L291.9 694.1L292.4 692.3L292.9 690.6L293.4 688.9L293.9 687.4L294.4 686.2L294.9 685.2L295.5 684.5L296 683.9L296.5 683.3L297 682.8L297.5 682.4L298 682.2L298.5 682.2L299 682.3L299.5 682.5L300 682.7L300.5 683L301 683.3L301.5 683.5L302 683.7L302.5 683.9L303 684L303.5 684.2L304 684.3L304.5 684.2L305 683.8L305.5 683L306 682.1L306.5 681L307 680.1L307.5 679.1L308 677.9L308.5 676.7L309 675.5L309.5 674.6L310 674.1L310.5 673.8L311 673.5L311.5 673.2L312 673.1L312.5 673L313 673L313.5 673.2L314 673.3L314.5 673.5L315 673.5L315.5 673.3L316 672.8L316.6 672.2L317.1 671.8L317.6 671.6L318.1 671.3L318.6 671L319.1 670.8L319.6 670.7L320.1 670.6L320.6 670.6L321.1 670.6L321.6 670.7L322.1 670.8L322.6 670.9L323.1 671L323.6 671.2L324.1 671.3L324.6 671.5L325.1 671.6L325.6 671.8L326.1 672.1L326.6 672.4L327.1 672.7L327.6 673.1L328.1 673.5L328.6 674L329.1 674.4L329.6 674.9L330.1 675.4L330.6 676L331.1 676.6L331.6 677.3L332.1 678L332.6 678.8L333.1 679.6L333.6 680.5L334.1 681.4L334.6 682.4L335.1 683.4L335.6 684.5L336.1 685.8L336.6 687.1L337.2 688.6L337.7 690.1L338.2 691.8L338.7 693.6L339.2 695.6L339.7 697.8L340.2 700.2L340.7 702.8L341.2 705.5L341.7 708.5L342.2 711.8L342.7 715.4L343.2 719.3L343.7 723.4L344.2 727.6L344.7 732.4L345.2 738.2L346.7 905L347.7 905L347.7 900.3L349.3 740.3L349.3 739.3L349.5 736.2L349.6 733.3L349.8 730.6L349.9 728.1L350.1 725.6L350.2 723.4L350.4 721.2L350.5 719.2L350.7 717.2L350.8 715.3L351 713.6L351.1 711.9L351.3 710.2L351.4 708.7L351.6 707.2L351.7 705.7L351.9 704.3L352 703L352.2 701.7L352.3 700.5L352.5 699.3L352.6 698.1L352.8 697L352.9 696L353.1 694.9L353.2 693.9L353.4 692.9L353.5 692L353.7 691.1L353.8 690.2L354 689.4L354.1 688.5L354.3 687.7L354.4 687L354.6 686.2L354.8 685.5L354.9 684.8L355.1 684.1L355.2 683.5L355.4 682.8L355.5 682.2L355.7 681.6L355.8 681L356 680.5L356.1 679.9L356.3 679.4L356.4 678.9L356.6 678.4L356.7 677.9L356.9 677.5L357 677.1L357.2 676.6L357.3 676.2L357.5 675.8L357.6 675.5L357.8 675.1L357.9 674.7L358.1 674.4L358.2 674.1L358.4 673.8L358.5 673.5L358.7 673.2L358.8 673L359 672.7L359.1 672.5L359.3 672.2L359.4 672L359.6 671.8L359.7 671.6L359.9 671.5L360 671.3L360.2 671.2L360.3 671L360.5 670.9L360.6 670.8L360.8 670.7L360.9 670.6L361.1 670.5L361.2 670.4L361.4 670.4L361.5 670.4L361.7 670.3L361.8 670.3L362 670.3L362.2 670.3L362.3 670.3L362.5 670.4L362.6 670.4L362.8 670.4L362.9 670.5L363.1 670.6L363.2 670.7L363.4 670.8L363.5 670.9L363.7 671L363.8 671.2L364 671.3L364.1 671.5L364.3 671.6L364.4 671.8L364.6 672L364.7 672.2L364.9 672.5L365 672.7L365.2 673L365.3 673.2L365.5 673.5L365.6 673.8L365.8 674.1L365.9 674.4L366.1 674.7L366.2 675.1L366.4 675.5L366.5 675.8L366.7 676.2L366.8 676.6L367 677.1L367.1 677.5L367.3 677.9L367.4 678.4L367.6 678.9L367.7 679.4L367.9 679.9L368 680.5L368.2 681L368.3 681.6L368.5 682.2L368.6 682.8L368.8 683.5L368.9 684.1L369.1 684.8L369.2 685.5L369.4 686.2L369.6 687L369.7 687.7L369.9 688.5L370 689.4L370.2 690.2L370.3 691.1L370.5 692L370.6 692.9L370.8 693.9L370.9 694.9L371.1 696L371.2 697L371.4 698.1L371.5 699.3L371.7 700.5L371.8 701.7L372 703L372.1 704.3L372.3 705.7L372.4 707.2L372.6 708.7L372.7 710.2L372.9 711.9L373 713.6L373.2 715.3L373.3 717.2L373.5 719.2L373.6 721.2L373.8 723.4L373.9 725.6L374.1 728.1L374.2 730.6L374.4 733.3L374.5 736.2L374.7 739.3L374.7 740.3L376.3 900.3L376.3 905L377.3 905L377.3 900.3L378.1 740.3L378.2 737.9L378.3 733.1L378.5 728.9L378.6 725L378.8 721.4L378.9 718.2L379.1 715.2L379.2 712.3L379.4 709.7L379.5 707.3L379.7 705L379.8 702.8L380 700.8L380.2 698.9L380.3 697.1L380.5 695.4L380.6 693.8L380.8 692.2L380.9 690.8L381.1 689.4L381.2 688.1L381.4 686.8L381.5 685.6L381.7 684.5L381.8 683.4L382 682.4L382.1 681.5L382.3 680.6L382.4 679.7L382.6 678.9L382.7 678.1L382.9 677.4L383.1 676.7L383.2 676L383.4 675.4L383.5 674.9L383.7 674.3L383.8 673.8L384 673.4L384.1 672.9L384.3 672.5L384.4 672.2L384.6 671.8L384.7 671.5L384.9 671.3L385 671.1L385.2 670.9L385.3 670.7L385.5 670.5L385.6 670.4L385.8 670.4L385.9 670.3L386.1 670.3L386.3 670.3L386.4 670.4L386.6 670.4L386.7 670.6L386.9 670.7L387 670.9L387.2 671.1L387.3 671.4L387.5 671.7L387.6 672L387.8 672.3L387.9 672.7L388.1 673.1L388.2 673.6L388.4 674.1L388.5 674.6L388.7 675.2L388.8 675.8L389 676.4L389.1 677.1L389.3 677.8L389.5 678.5L389.6 679.3L389.8 680.2L389.9 681L390.1 682L390.2 683L390.4 684L390.5 685.1L390.7 686.2L390.8 687.4L391 688.7L391.1 690L391.3 691.4L391.4 692.9L391.6 694.5L391.7 696.1L391.9 697.9L392 699.7L392.2 701.6L392.4 703.7L392.5 705.9L392.7 708.2L392.8 710.6L393 713.3L393.1 716.1L393.3 719.2L393.4 722.4L393.6 726L393.7 729.9L393.9 734.2L394 739L394.1 741.4L394.9 901.5L394.9 906.2L395.9 903.9L395.9 901.7L396.5 741.8L396.6 738.3L396.8 733.1L396.9 728.4L397.1 724.1L397.2 720.3L397.4 716.8L397.5 713.6L397.7 710.7L397.8 708L397.9 705.4L398.1 703.1L398.2 700.8L398.4 698.8L398.6 696.8L398.7 695L398.9 693.3L399 691.7L399.2 690.2L399.3 688.8L399.4 687.4L399.6 686.2L399.8 685L399.9 683.9L400.1 682.8L400.2 681.8L400.4 680.9L400.5 680L400.7 679.2L400.8 678.5L401 677.8L401.1 677.1L401.2 676.5L401.4 676L401.6 675.5L401.7 675L401.9 674.6L402 674.2L402.2 673.9L402.3 673.6L402.5 673.3L402.6 673.1L402.8 673L402.9 672.9L403.1 672.8L403.2 672.8L403.4 672.8L403.5 672.8L403.7 672.9L403.8 673L404 673.2L404.1 673.4L404.2 673.7L404.4 674L404.6 674.3L404.7 674.7L404.9 675.1L405 675.6L405.2 676.1L405.3 676.7L405.5 677.3L405.6 677.9L405.8 678.6L405.9 679.4L406.1 680.2L406.2 681.1L406.4 682L406.5 683L406.7 684L406.8 685.1L407 686.3L407.1 687.5L407.3 688.8L407.4 690.2L407.6 691.7L407.7 693.3L407.9 694.9L408 696.7L408.2 698.5L408.3 700.5L408.5 702.7L408.6 704.9L408.8 707.3L408.9 709.9L409.1 712.7L409.2 715.7L409.4 719L409.5 722.5L409.7 726.4L409.8 730.6L410 735.4L410.1 740.7L410.2 744.2L410.8 904.3L410.8 906.5L411.8 903.7L412.2 744.6L412.4 737.8L412.5 731.8L412.7 726.6L412.8 722L413 717.9L413.1 714.1L413.3 710.8L413.4 707.7L413.6 704.8L413.8 702.2L413.9 699.8L414.1 697.6L414.2 695.5L414.4 693.6L414.5 691.8L414.7 690.2L414.8 688.7L415 687.2L415.1 685.9L415.3 684.7L415.4 683.6L415.6 682.5L415.8 681.6L415.9 680.7L416.1 679.9L416.2 679.2L416.4 678.6L416.5 678L416.7 677.5L416.8 677L417 676.7L417.1 676.4L417.3 676.1L417.4 675.9L417.6 675.8L417.7 675.8L417.9 675.8L418.1 675.9L418.2 676L418.4 676.2L418.5 676.5L418.7 676.8L418.8 677.2L419 677.6L419.1 678.1L419.3 678.7L419.4 679.4L419.6 680.1L419.7 680.9L419.9 681.8L420 682.7L420.2 683.7L420.4 684.9L420.5 686.1L420.7 687.3L420.8 688.7L421 690.2L421.1 691.8L421.3 693.6L421.4 695.4L421.6 697.4L421.7 699.5L421.9 701.8L422 704.3L422.2 707L422.4 709.9L422.5 713.1L422.7 716.6L422.8 720.4L423 724.6L423.1 729.3L423.3 734.5L423.4 740.6L423.6 747.4L424 906.8L425 903.2L425.4 748L425.6 742.2L425.7 736.3L425.9 731.1L426 726.5L426.2 722.3L426.3 718.6L426.5 715.2L426.6 712.1L426.8 709.3L426.9 706.7L427.1 704.3L427.2 702L427.4 700L427.5 698L427.7 696.3L427.8 694.6L428 693.1L428.1 691.6L428.3 690.3L428.4 689.1L428.6 687.9L428.7 686.9L428.9 685.9L429 685L429.2 684.2L429.3 683.5L429.5 682.8L429.6 682.2L429.8 681.7L429.9 681.2L430.1 680.8L430.2 680.4L430.4 680.1L430.5 679.9L430.7 679.8L430.8 679.7L431 679.6L431.1 679.6L431.3 679.7L431.5 679.8L431.6 680L431.8 680.3L431.9 680.6L432.1 680.9L432.2 681.4L432.4 681.9L432.5 682.4L432.7 683.1L432.8 683.7L433 684.5L433.1 685.3L433.3 686.2L433.4 687.2L433.6 688.3L433.7 689.4L433.9 690.6L434 691.9L434.2 693.4L434.3 694.9L434.5 696.5L434.6 698.2L434.8 700.1L434.9 702.1L435.1 704.3L435.2 706.6L435.4 709.1L435.5 711.8L435.7 714.7L435.8 717.9L436 721.4L436.1 725.2L436.3 729.4L436.4 734.1L436.6 739.4L436.7 745.4L436.9 751.3L437.3 906.8L438.3 903.5L438.6 751.8L438.7 746.3L438.9 739.5L439 733.6L439.2 728.4L439.3 723.9L439.5 719.8L439.6 716.2L439.8 712.9L439.9 709.9L440.1 707.1L440.2 704.6L440.4 702.3L440.5 700.2L440.7 698.3L440.9 696.5L441 694.9L441.2 693.4L441.3 692L441.5 690.7L441.6 689.6L441.8 688.6L441.9 687.6L442.1 686.8L442.2 686L442.4 685.4L442.5 684.8L442.7 684.4L442.8 684L443 683.6L443.1 683.4L443.3 683.3L443.4 683.2L443.6 683.2L443.8 683.3L443.9 683.4L444.1 683.7L444.2 684L444.4 684.4L444.5 684.9L444.7 685.5L444.8 686.1L445 686.9L445.1 687.7L445.3 688.6L445.4 689.7L445.6 690.8L445.7 692L445.9 693.4L446 694.8L446.2 696.4L446.3 698.2L446.5 700L446.7 702.1L446.8 704.3L447 706.6L447.1 709.2L447.3 712.1L447.4 715.2L447.6 718.6L447.7 722.3L447.9 726.4L448 731.1L448.2 736.3L448.3 742.3L448.5 749.3L448.6 754.8L448.9 906.7L449.9 903.4L450.2 755.3L450.3 749.8L450.4 743L450.6 737.1L450.8 731.9L450.9 727.4L451.1 723.3L451.2 719.7L451.4 716.4L451.5 713.4L451.7 710.7L451.8 708.2L451.9 705.9L452.1 703.8L452.2 701.8L452.4 700.1L452.6 698.4L452.7 696.9L452.9 695.6L453 694.3L453.2 693.2L453.3 692.1L453.5 691.2L453.6 690.4L453.8 689.6L453.9 689L454.1 688.4L454.2 687.9L454.4 687.5L454.5 687.2L454.7 687L454.8 686.9L455 686.8L455.1 686.8L455.2 686.9L455.4 687L455.6 687.3L455.7 687.6L455.9 688L456 688.5L456.2 689L456.3 689.7L456.5 690.4L456.6 691.2L456.8 692.2L456.9 693.2L457.1 694.3L457.2 695.5L457.4 696.9L457.5 698.3L457.7 699.9L457.8 701.6L458 703.5L458.1 705.5L458.3 707.7L458.4 710.1L458.6 712.7L458.7 715.5L458.9 718.6L459 722L459.2 725.7L459.3 729.8L459.5 734.5L459.6 739.7L459.8 745.7L459.9 752.6L460 758.1L460.3 906.4L461.3 903.7L461.5 758.5L461.6 757.6L461.7 749.4L461.9 742.6L462 736.7L462.2 731.6L462.3 727.1L462.5 723.1L462.6 719.5L462.8 716.3L462.9 713.3L463.1 710.7L463.2 708.2L463.4 706L463.5 704L463.7 702.2L463.8 700.5L464 699L464.1 697.6L464.3 696.3L464.4 695.2L464.6 694.2L464.7 693.3L464.9 692.5L465 691.8L465.2 691.2L465.3 690.8L465.5 690.4L465.6 690.1L465.8 689.9L465.9 689.8L466.1 689.8L466.3 689.9L466.4 690.1L466.6 690.4L466.7 690.7L466.9 691.2L467 691.8L467.2 692.5L467.3 693.2L467.5 694.1L467.6 695.1L467.8 696.2L467.9 697.4L468.1 698.8L468.2 700.2L468.4 701.9L468.5 703.6L468.7 705.6L468.8 707.7L469 710L469.1 712.5L469.3 715.3L469.4 718.3L469.6 721.6L469.7 725.3L469.9 729.4L470 734L470.2 739.2L470.3 745.1L470.5 752.1L470.6 760.3L470.7 761.3L470.9 906.6L471.9 903.4L472.1 761.8L472.2 760.8L472.3 752.7L472.5 745.8L472.6 740L472.8 734.9L472.9 730.4L473.1 726.4L473.2 722.8L473.4 719.6L473.5 716.6L473.7 714L473.8 711.6L474 709.4L474.1 707.3L474.3 705.5L474.4 703.8L474.6 702.3L474.7 700.9L474.9 699.7L475 698.6L475.2 697.6L475.3 696.7L475.5 695.9L475.6 695.2L475.8 694.7L475.9 694.2L476.1 693.8L476.2 693.5L476.4 693.4L476.5 693.3L476.7 693.3L476.9 693.3L477 693.5L477.2 693.8L477.3 694.2L477.5 694.6L477.6 695.2L477.8 695.9L477.9 696.6L478.1 697.5L478.2 698.5L478.4 699.6L478.5 700.8L478.7 702.1L478.8 703.6L479 705.2L479.1 707L479.3 708.9L479.4 711L479.6 713.3L479.7 715.8L479.9 718.6L480 721.6L480.2 724.9L480.3 728.6L480.5 732.7L480.6 737.3L480.8 742.5L480.9 748.4L481.1 755.4L481.2 763.6L481.3 764.6L481.5 906.4L482.5 903.7L482.7 765L482.8 760L482.9 751.9L483.1 745.1L483.2 739.3L483.4 734.2L483.5 729.8L483.7 725.8L483.8 722.3L484 719.2L484.1 716.3L484.3 713.7L484.4 711.4L484.6 709.3L484.8 707.4L484.9 705.7L485.1 704.1L485.2 702.8L485.4 701.5L485.5 700.4L485.7 699.5L485.8 698.6L486 697.9L486.1 697.4L486.3 696.9L486.4 696.6L486.6 696.3L486.7 696.2L486.9 696.2L487.1 696.3L487.2 696.5L487.4 696.8L487.5 697.3L487.7 697.8L487.8 698.5L488 699.3L488.1 700.2L488.3 701.3L488.4 702.5L488.6 703.8L488.7 705.3L488.9 706.9L489 708.7L489.2 710.7L489.3 712.9L489.5 715.3L489.7 718L489.8 720.9L490 724.2L490.1 727.8L490.3 731.8L490.4 736.4L490.6 741.5L490.7 747.4L490.9 754.3L491 762.5L491.1 767.5L491.3 906.4L492.3 903.7L492.5 768L492.6 761.6L492.7 753.5L492.9 746.7L493 740.9L493.2 735.9L493.3 731.5L493.5 727.6L493.6 724.1L493.8 720.9L493.9 718.1L494.1 715.6L494.2 713.3L494.4 711.3L494.5 709.4L494.7 707.7L494.8 706.3L495 704.9L495.1 703.8L495.3 702.7L495.4 701.9L495.6 701.1L495.7 700.5L495.9 700L496 699.6L496.2 699.4L496.3 699.3L496.5 699.2L496.6 699.3L496.8 699.6L496.9 699.9L497.1 700.4L497.2 700.9L497.4 701.6L497.5 702.5L497.7 703.4L497.8 704.6L498 705.8L498.1 707.2L498.3 708.8L498.4 710.6L498.6 712.5L498.7 714.6L498.9 717L499 719.6L499.2 722.5L499.3 725.7L499.5 729.3L499.6 733.3L499.8 737.8L499.9 742.9L500.1 748.8L500.2 755.7L500.4 763.9L500.4 770.3L500.6 906.1L501.6 903.9L501.8 770.7L501.9 762.8L502 754.7L502.2 747.9L502.3 742.2L502.5 737.2L502.7 732.8L502.8 728.9L503 725.4L503.1 722.3L503.3 719.5L503.4 717.1L503.6 714.8L503.7 712.8L503.9 711L504 709.4L504.2 707.9L504.4 706.7L504.5 705.6L504.7 704.6L504.8 703.8L505 703.1L505.1 702.6L505.3 702.2L505.4 701.9L505.6 701.8L505.8 701.8L505.9 701.9L506.1 702.1L506.2 702.5L506.4 703L506.5 703.6L506.7 704.4L506.8 705.3L507 706.3L507.1 707.5L507.3 708.9L507.5 710.4L507.6 712.1L507.8 714L507.9 716.1L508.1 718.4L508.2 721L508.4 723.9L508.5 727.1L508.7 730.6L508.8 734.6L509 739.1L509.2 744.2L509.3 750L509.5 756.9L509.6 765.1L509.7 773L509.9 906.3L510.9 903.8L511 773.4L511.1 764.1L511.3 756L511.4 749.3L511.6 743.5L511.8 738.5L511.9 734.2L512 730.3L512.2 726.9L512.4 723.9L512.5 721.1L512.6 718.7L512.8 716.5L513 714.5L513.1 712.8L513.2 711.3L513.4 709.9L513.5 708.7L513.7 707.7L513.9 706.8L514 706.1L514.1 705.5L514.3 705.1L514.5 704.8L514.6 704.7L514.8 704.6L514.9 704.8L515 705L515.2 705.4L515.4 705.9L515.5 706.6L515.6 707.4L515.8 708.4L516 709.5L516.1 710.8L516.2 712.2L516.4 713.9L516.5 715.7L516.7 717.7L516.9 720L517 722.6L517.1 725.4L517.3 728.5L517.5 732L517.6 736L517.8 740.4L517.9 745.5L518.1 751.4L518.2 758.2L518.4 766.4L518.5 775.8L518.6 906.2L519.6 903.8L519.7 776.2L519.7 775.3L519.9 765.3L520 757.2L520.2 750.5L520.3 744.8L520.5 739.8L520.6 735.5L520.8 731.7L520.9 728.3L521.1 725.3L521.2 722.6L521.4 720.2L521.5 718.1L521.7 716.2L521.8 714.5L522 713.1L522.1 711.8L522.3 710.7L522.4 709.7L522.6 709L522.7 708.3L522.9 707.9L523 707.6L523.2 707.4L523.4 707.4L523.5 707.5L523.7 707.7L523.8 708.2L524 708.7L524.1 709.4L524.3 710.3L524.4 711.3L524.6 712.5L524.7 713.9L524.9 715.5L525 717.2L525.2 719.2L525.3 721.4L525.5 723.9L525.6 726.7L525.8 729.8L525.9 733.3L526.1 737.2L526.2 741.6L526.4 746.6L526.5 752.4L526.7 759.3L526.8 767.4L527 777.5L527 778.5L527.1 906.1L528.1 903.9L528.2 778.8L528.2 776.2L528.4 766.2L528.5 758.2L528.7 751.5L528.8 745.8L529 740.9L529.1 736.6L529.3 732.8L529.4 729.5L529.6 726.5L529.7 723.9L529.9 721.6L530 719.5L530.2 717.7L530.3 716.1L530.5 714.7L530.6 713.5L530.8 712.4L530.9 711.6L531.1 710.9L531.2 710.4L531.4 710.1L531.5 709.9L531.7 709.9L531.9 710L532 710.3L532.2 710.7L532.3 711.3L532.5 712.1L532.6 713L532.8 714.1L532.9 715.4L533.1 716.9L533.2 718.6L533.4 720.5L533.5 722.6L533.7 725.1L533.8 727.8L534 730.8L534.1 734.3L534.3 738.1L534.4 742.5L534.6 747.5L534.7 753.3L534.9 760.1L535 768.2L535.2 778.3L535.2 780.9L535.3 906.1L536.3 904L536.3 781.2L536.4 775.2L536.6 765.3L536.7 757.3L536.9 750.6L537 745L537.2 740.2L537.3 736L537.5 732.3L537.6 729L537.8 726.2L538 723.7L538.1 721.5L538.3 719.6L538.4 717.9L538.6 716.5L538.7 715.3L538.9 714.3L539 713.5L539.2 712.9L539.3 712.5L539.5 712.3L539.6 712.2L539.8 712.4L540 712.7L540.1 713.2L540.3 713.9L540.4 714.8L540.6 715.8L540.7 717.1L540.9 718.7L541 720.4L541.2 722.4L541.3 724.7L541.5 727.3L541.7 730.2L541.8 733.6L542 737.3L542.1 741.6L542.3 746.6L542.4 752.3L542.6 759L542.7 767.1L542.9 777.1L543 783.2L543 906L544 904L544 783.5L544.1 777.5L544.2 767.6L544.4 759.6L544.5 752.9L544.7 747.3L544.9 742.4L545 738.2L545.1 734.6L545.3 731.3L545.5 728.5L545.6 726L545.8 723.8L545.9 721.9L546 720.2L546.2 718.8L546.4 717.6L546.5 716.6L546.6 715.8L546.8 715.2L547 714.8L547.1 714.5L547.2 714.5L547.4 714.6L547.5 714.9L547.7 715.4L547.9 716.1L548 717L548.1 718.1L548.3 719.4L548.5 720.9L548.6 722.7L548.8 724.7L548.9 727L549 729.6L549.2 732.5L549.4 735.8L549.5 739.6L549.6 743.9L549.8 748.8L550 754.5L550.1 761.3L550.2 769.3L550.4 779.4L550.5 785.5L550.5 906L551.5 904L551.5 785.8L551.6 777.9L551.8 768L551.9 760L552.1 753.4L552.2 747.8L552.4 743L552.5 738.9L552.7 735.3L552.9 732.1L553 729.3L553.2 726.9L553.3 724.8L553.5 723L553.6 721.4L553.8 720.1L553.9 719L554.1 718.1L554.2 717.5L554.4 717L554.5 716.8L554.7 716.7L554.9 716.9L555 717.2L555.2 717.7L555.3 718.5L555.5 719.4L555.6 720.6L555.8 722L555.9 723.7L556.1 725.6L556.2 727.8L556.4 730.3L556.6 733.2L556.7 736.4L556.9 740.2L557 744.4L557.2 749.3L557.3 755L557.5 761.7L557.6 769.7L557.8 779.7L557.9 787.6L557.9 905.9L558.9 904.1L558.9 787.9L559 778.2L559.2 768.3L559.3 760.4L559.5 753.8L559.6 748.2L559.8 743.5L559.9 739.4L560.1 735.8L560.3 732.8L560.4 730.1L560.6 727.7L560.7 725.7L560.9 724L561 722.5L561.2 721.4L561.3 720.4L561.5 719.7L561.6 719.2L561.8 718.9L562 718.8L562.1 719L562.3 719.4L562.4 720L562.6 720.8L562.7 721.8L562.9 723.1L563 724.6L563.2 726.4L563.3 728.5L563.5 731L563.6 733.8L563.8 736.9L564 740.6L564.1 744.8L564.3 749.6L564.4 755.2L564.6 761.9L564.7 769.9L564.9 779.9L565 789.7L565 905.9L566 904.1L566 790L566.1 782.2L566.2 772.3L566.4 764.3L566.5 757.7L566.7 752.1L566.9 747.3L567 743.1L567.1 739.5L567.3 736.3L567.5 733.6L567.6 731.1L567.8 729L567.9 727.2L568.1 725.6L568.2 724.3L568.4 723.2L568.5 722.4L568.6 721.7L568.8 721.3L569 721L569.1 721L569.2 721.1L569.4 721.4L569.6 722L569.7 722.7L569.9 723.7L570 724.9L570.1 726.3L570.3 727.9L570.5 729.8L570.6 732L570.8 734.5L570.9 737.4L571.1 740.7L571.2 744.4L571.4 748.6L571.5 753.5L571.7 759.2L571.8 765.9L572 773.9L572.1 783.9L572.2 791.9L572.2 905.9L573.2 904.2L573.2 792.1L573.2 791.2L573.3 778.3L573.5 768.5L573.6 760.7L573.8 754.2L574 748.8L574.1 744.1L574.3 740.2L574.4 736.8L574.6 733.9L574.7 731.4L574.9 729.3L575.1 727.5L575.2 726L575.4 724.9L575.5 724L575.7 723.4L575.8 723.1L576 723L576.2 723.2L576.3 723.6L576.5 724.3L576.6 725.3L576.8 726.5L576.9 728.1L577.1 729.9L577.3 732.1L577.4 734.7L577.6 737.7L577.7 741.2L577.9 745.2L578 750L578.2 755.5L578.4 762L578.5 770L578.7 779.9L578.8 792.9L578.8 793.8L578.8 905.8L579.8 904.1L579.8 794.1L579.9 784.3L580 774.4L580.2 766.5L580.4 759.9L580.5 754.4L580.6 749.6L580.8 745.5L580.9 742L581.1 738.9L581.2 736.2L581.4 733.9L581.5 731.8L581.7 730.1L581.9 728.7L582 727.5L582.1 726.5L582.3 725.8L582.5 725.3L582.6 725L582.8 725L582.9 725.1L583 725.5L583.2 726.1L583.4 726.9L583.5 727.9L583.6 729.2L583.8 730.7L584 732.6L584.1 734.7L584.2 737.1L584.4 739.9L584.6 743.1L584.7 746.7L584.9 750.9L585 755.7L585.1 761.4L585.3 768L585.5 776L585.6 786L585.7 795.8L585.7 905.9L586.6 904.2L586.6 796.1L586.7 795.2L586.8 782.3L587 772.5L587.1 764.6L587.3 758.2L587.4 752.7L587.6 748.1L587.7 744.1L587.9 740.8L588 737.8L588.2 735.3L588.3 733.2L588.5 731.5L588.6 730L588.8 728.8L588.9 728L589.1 727.4L589.2 727L589.4 726.9L589.6 727.1L589.7 727.5L589.9 728.2L590 729.2L590.2 730.4L590.3 732L590.5 733.9L590.6 736.1L590.8 738.6L590.9 741.7L591.1 745.1L591.2 749.2L591.4 753.9L591.5 759.4L591.7 766L591.8 773.9L592 783.8L592.1 796.8L592.2 797.7L592.2 905.8L593.1 904.1L593.1 798L593.2 786.3L593.4 776.4L593.5 768.5L593.7 762L593.9 756.5L594 751.8L594.2 747.8L594.3 744.3L594.5 741.3L594.6 738.7L594.8 736.5L595 734.6L595.1 733L595.3 731.7L595.4 730.6L595.6 729.8L595.7 729.3L595.9 729L596 728.9L596.2 729.1L596.4 729.5L596.5 730.1L596.7 731L596.8 732.1L597 733.5L597.1 735.2L597.3 737.2L597.5 739.5L597.6 742.2L597.8 745.3L597.9 748.9L598.1 753L598.2 757.8L598.4 763.4L598.6 770L598.7 778L598.9 788L599 799.8L599 905.9L599.8 904.4L599.8 800L600 786.9L600.1 774.3L600.3 764.7L600.4 757.2L600.6 751.2L600.7 746.2L600.9 742.2L601 738.9L601.2 736.2L601.3 734.1L601.5 732.6L601.6 731.5L601.8 730.9L602 730.7L602.1 731L602.3 731.7L602.4 732.8L602.6 734.5L602.7 736.7L602.9 739.4L603 742.8L603.2 747L603.3 752L603.5 758.2L603.6 765.7L603.8 775.4L603.9 788.1L604.1 801.3L604.1 905.6L604.8 904.2L604.8 801.5L604.9 796.1L605 783.3L605.2 773.6L605.3 765.8L605.5 759.5L605.6 754.2L605.8 749.8L606 746L606.1 742.8L606.3 740.2L606.4 737.9L606.6 736.1L606.7 734.7L606.9 733.6L607 732.9L607.2 732.4L607.4 732.3L607.5 732.5L607.7 733L607.8 733.9L608 735.1L608.1 736.6L608.3 738.5L608.4 740.8L608.6 743.6L608.7 746.8L608.9 750.7L609.1 755.2L609.2 760.6L609.4 767L609.5 774.9L609.7 784.7L609.8 797.6L609.9 803.1L609.9 905.8L610.7 904.3L610.7 803.3L610.8 795.5L610.9 782.7L611.1 773L611.3 765.3L611.4 759.1L611.6 753.9L611.7 749.6L611.9 745.9L612 742.9L612.2 740.4L612.4 738.4L612.5 736.7L612.7 735.5L612.8 734.7L613 734.2L613.2 734.1L613.3 734.3L613.5 734.9L613.6 735.8L613.8 737.1L613.9 738.8L614.1 741L614.3 743.6L614.4 746.7L614.6 750.4L614.7 754.9L614.9 760.1L615.1 766.5L615.2 774.3L615.4 784L615.5 796.9L615.6 804.8L615.6 905.7L616.4 904.3L616.4 805.1L616.5 797.2L616.6 784.4L616.8 774.7L616.9 767.1L617.1 760.8L617.3 755.6L617.4 751.3L617.6 747.7L617.7 744.6L617.9 742.1L618 740.1L618.2 738.5L618.4 737.2L618.5 736.4L618.7 735.9L618.8 735.8L619 736L619.1 736.6L619.3 737.5L619.5 738.8L619.6 740.5L619.8 742.7L619.9 745.3L620.1 748.4L620.2 752.1L620.4 756.6L620.6 761.9L620.7 768.2L620.9 776L621 785.8L621.2 798.6L621.3 806.5L621.3 905.7L622 904.3L622 806.8L622.1 798.9L622.3 786.1L622.4 776.5L622.6 768.8L622.7 762.5L622.9 757.3L623 753L623.2 749.4L623.3 746.3L623.5 743.8L623.6 741.8L623.8 740.1L623.9 738.9L624.1 738.1L624.2 737.6L624.4 737.5L624.5 737.7L624.7 738.3L624.8 739.2L625 740.5L625.1 742.2L625.3 744.4L625.4 747L625.6 750.1L625.7 753.8L625.9 758.2L626 763.5L626.2 769.9L626.3 777.6L626.5 787.4L626.6 800.3L626.7 808.2L626.7 905.7L627.5 904.3L627.5 808.4L627.6 798L627.7 785.3L627.9 775.7L628 768.1L628.2 761.9L628.4 756.8L628.5 752.6L628.7 749.1L628.8 746.3L629 744L629.1 742.1L629.3 740.8L629.5 739.8L629.6 739.3L629.8 739.1L629.9 739.4L630.1 740L630.2 741L630.4 742.5L630.6 744.4L630.7 746.8L630.9 749.8L631 753.4L631.2 757.7L631.3 762.9L631.5 769.1L631.7 776.8L631.8 786.5L632 799.3L632.1 809.8L632.1 905.7L632.8 904.3L632.8 810L632.9 799.6L633.1 786.9L633.2 777.3L633.4 769.7L633.5 763.5L633.7 758.4L633.8 754.2L634 750.7L634.1 747.9L634.3 745.6L634.4 743.7L634.6 742.3L634.7 741.4L634.9 740.8L635 740.7L635.2 740.9L635.3 741.6L635.5 742.6L635.6 744.1L635.8 746L635.9 748.4L636.1 751.4L636.2 754.9L636.4 759.2L636.5 764.4L636.7 770.7L636.8 778.3L637 788L637.1 800.8L637.2 811.3L637.2 905.6L638 904.4L638 811.5L638.1 801.1L638.2 788.4L638.4 778.8L638.5 771.1L638.7 765L638.8 759.9L639 755.7L639.1 752.2L639.3 749.3L639.4 747L639.6 745.2L639.7 743.8L639.9 742.8L640 742.3L640.2 742.1L640.3 742.4L640.5 743L640.6 744L640.8 745.5L640.9 747.4L641.1 749.8L641.2 752.8L641.4 756.3L641.5 760.6L641.7 765.8L641.8 772.1L642 779.7L642.1 789.4L642.3 802.2L642.3 812.7L642.3 905.6" stroke="#cc3300" stroke-linejoin="round" stroke-linecap="butt"/>
<path d="M501.6 903.9L501.8 770.7L501.9 762.8L502 754.7L502.2 747.9L502.3 742.2L502.5 737.2L502.7 732.8L502.8 728.9L503 725.4L503.1 722.3L503.3 719.5L503.4 717.1L503.6 714.8L503.7 712.8L503.9 711L504 709.4L504.2 707.9L504.4 706.7L504.5 705.6L504.7 704.6L504.8 703.8L505 703.1L505.1 702.6L505.3 702.2L505.4 701.9L505.6 701.8L505.8 701.8L505.9 701.9L506.1 702.1L506.2 702.5L506.4 703L506.5 703.6L506.7 704.4L506.8 705.3L507 706.3L507.1 707.5L507.3 708.9L507.5 710.4L507.6 712.1L507.8 714L507.9 716.1L508.1 718.4L508.2 721L508.4 723.9L508.5 727.1L508.7 730.6L508.8 734.6L509 739.1L509.2 744.2L509.3 750L509.5 756.9L509.6 765.1L509.7 773L509.9 906.3L510.9 903.8L511 773.4L511.1 764.1L511.3 756L511.4 749.3L511.6 743.5L511.8 738.5L511.9 734.2L512 730.3L512.2 726.9L512.4 723.9L512.5 721.1L512.6 718.7L512.8 716.5L513 714.5L513.1 712.8L513.2 711.3L513.4 709.9L513.5 708.7L513.7 707.7L513.9 706.8L514 706.1L514.1 705.5L514.3 705.1L514.5 704.8L514.6 704.7L514.8 704.6L514.9 704.8L515 705L515.2 705.4L515.4 705.9L515.5 706.6L515.6 707.4L515.8 708.4L516 709.5L516.1 710.8L516.2 712.2L516.4 713.9L516.5 715.7L516.7 717.7L516.9 720L517 722.6L517.1 725.4L517.3 728.5L517.5 732L517.6 736L517.8 740.4L517.9 745.5L518.1 751.4L518.2 758.2L518.4 766.4L518.5 775.8L518.6 906.2L519.6 903.8L519.7 776.2L519.7 775.3L519.9 765.3L520 757.2L520.2 750.5L520.3 744.8L520.5 739.8L520.6 735.5L520.8 731.7L520.9 728.3L521.1 725.3L521.2 722.6L521.4 720.2L521.5 718.1L521.7 716.2L521.8 714.5L522 713.1L522.1 711.8L522.3 710.7L522.4 709.7L522.6 709L522.7 708.3L522.9 707.9L523 707.6L523.2 707.4L523.4 707.4L523.5 707.5L523.7 707.7L523.8 708.2L524 708.7L524.1 709.4L524.3 710.3L524.4 711.3L524.6 712.5L524.7 713.9L524.9 715.5L525 717.2L525.2 719.2L525.3 721.4L525.5 723.9L525.6 726.7L525.8 729.8L525.9 733.3L526.1 737.2L526.2 741.6L526.4 746.6L526.5 752.4L526.7 759.3L526.8 767.4L527 777.5L527 778.5L527.1 906.1L528.1 903.9L528.2 778.8L528.2 776.2L528.4 766.2L528.5 758.2L528.7 751.5L528.8 745.8L529 740.9L529.1 736.6L529.3 732.8L529.4 729.5L529.6 726.5L529.7 723.9L529.9 721.6L530 719.5L530.2 717.7L530.3 716.1L530.5 714.7L530.6 713.5L530.8 712.4L530.9 711.6L531.1 710.9L531.2 710.4L531.4 710.1L531.5 709.9L531.7 709.9L531.9 710L532 710.3L532.2 710.7L532.3 711.3L532.5 712.1L532.6 713L532.8 714.1L532.9 715.4L533.1 716.9L533.2 718.6L533.4 720.5L533.5 722.6L533.7 725.1L533.8 727.8L534 730.8L534.1 734.3L534.3 738.1L534.4 742.5L534.6 747.5L534.7 753.3L534.9 760.1L535 768.2L535.2 778.3L535.2 780.9L535.3 906.1L536.3 904L536.3 781.2L536.4 775.2L536.6 765.3L536.7 757.3L536.9 750.6L537 745L537.2 740.2L537.3 736L537.5 732.3L537.6 729L537.8 726.2L538 723.7L538.1 721.5L538.3 719.6L538.4 717.9L538.6 716.5L538.7 715.3L538.9 714.3L539 713.5L539.2 712.9L539.3 712.5L539.5 712.3L539.6 712.2L539.8 712.4L540 712.7L540.1 713.2L540.3 713.9L540.4 714.8L540.6 715.8L540.7 717.1L540.9 718.7L541 720.4L541.2 722.4L541.3 724.7L541.5 727.3L541.7 730.2L541.8 733.6L542 737.3L542.1 741.6L542.3 746.6L542.4 752.3L542.6 759L542.7 767.1L542.9 777.1L543 783.2L543 906L544 904L544 783.5L544.1 777.5L544.2 767.6L544.4 759.6L544.5 752.9L544.7 747.3L544.9 742.4L545 738.2L545.1 734.6L545.3 731.3L545.5 728.5L545.6 726L545.8 723.8L545.9 721.9L546 720.2L546.2 718.8L546.4 717.6L546.5 716.6L546.6 715.8L546.8 715.2L547 714.8L547.1 714.5L547.2 714.5L547.4 714.6L547.5 714.9L547.7 715.4L547.9 716.1L548 717L548.1 718.1L548.3 719.4L548.5 720.9L548.6 722.7L548.8 724.7L548.9 727L549 729.6L549.2 732.5L549.4 735.8L549.5 739.6L549.6 743.9L549.8 748.8L550 754.5L550.1 761.3L550.2 769.3L550.4 779.4L550.5 785.5L550.5 906L551.5 904L551.5 785.8L551.6 777.9L551.8 768L551.9 760L552.1 753.4L552.2 747.8L552.4 743L552.5 738.9L552.7 735.3L552.9 732.1L553 729.3L553.2 726.9L553.3 724.8L553.5 723L553.6 721.4L553.8 720.1L553.9 719L554.1 718.1L554.2 717.5L554.4 717L554.5 716.8L554.7 716.7L554.9 716.9L555 717.2L555.2 717.7L555.3 718.5L555.5 719.4L555.6 720.6L555.8 722L555.9 723.7L556.1 725.6L556.2 727.8L556.4 730.3L556.6 733.2L556.7 736.4L556.9 740.2L557 744.4L557.2 749.3L557.3 755L557.5 761.7L557.6 769.7L557.8 779.7L557.9 787.6L557.9 905.9L558.9 904.1L558.9 787.9L559 778.2L559.2 768.3L559.3 760.4L559.5 753.8L559.6 748.2L559.8 743.5L559.9 739.4L560.1 735.8L560.3 732.8L560.4 730.1L560.6 727.7L560.7 725.7L560.9 724L561 722.5L561.2 721.4L561.3 720.4L561.5 719.7L561.6 719.2L561.8 718.9L562 718.8L562.1 719L562.3 719.4L562.4 720L562.6 720.8L562.7 721.8L562.9 723.1L563 724.6L563.2 726.4L563.3 728.5L563.5 731L563.6 733.8L563.8 736.9L564 740.6L564.1 744.8L564.3 749.6L564.4 755.2L564.6 761.9L564.7 769.9L564.9 779.9L565 789.7L565 905.9L566 904.1L566 790L566.1 782.2L566.2 772.3L566.4 764.3L566.5 757.7L566.7 752.1L566.9 747.3L567 743.1L567.1 739.5L567.3 736.3L567.5 733.6L567.6 731.1L567.8 729L567.9 727.2L568.1 725.6L568.2 724.3L568.4 723.2L568.5 722.4L568.6 721.7L568.8 721.3L569 721L569.1 721L569.2 721.1L569.4 721.4L569.6 722L569.7 722.7L569.9 723.7L570 724.9L570.1 726.3L570.3 727.9L570.5 729.8L570.6 732L570.8 734.5L570.9 737.4L571.1 740.7L571.2 744.4L571.4 748.6L571.5 753.5L571.7 759.2L571.8 765.9L572 773.9L572.1 783.9L572.2 791.9L572.2 905.9L573.2 904.2L573.2 792.1L573.2 791.2L573.3 778.3L573.5 768.5L573.6 760.7L573.8 754.2L574 748.8L574.1 744.1L574.3 740.2L574.4 736.8L574.6 733.9L574.7 731.4L574.9 729.3L575.1 727.5L575.2 726L575.4 724.9L575.5 724L575.7 723.4L575.8 723.1L576 723L576.2 723.2L576.3 723.6L576.5 724.3L576.6 725.3L576.8 726.5L576.9 728.1L577.1 729.9L577.3 732.1L577.4 734.7L577.6 737.7L577.7 741.2L577.9 745.2L578 750L578.2 755.5L578.4 762L578.5 770L578.7 779.9L578.8 792.9L578.8 793.8L578.8 905.8L579.8 904.1L579.8 794.1L579.9 784.3L580 774.4L580.2 766.5L580.4 759.9L580.5 754.4L580.6 749.6L580.8 745.5L580.9 742L581.1 738.9L581.2 736.2L581.4 733.9L581.5 731.8L581.7 730.1L581.9 728.7L582 727.5L582.1 726.5L582.3 725.8L582.5 725.3L582.6 725L582.8 725L582.9 725.1L583 725.5L583.2 726.1L583.4 726.9L583.5 727.9L583.6 729.2L583.8 730.7L584 732.6L584.1 734.7L584.2 737.1L584.4 739.9L584.6 743.1L584.7 746.7L584.9 750.9L585 755.7L585.1 761.4L585.3 768L585.5 776L585.6 786L585.7 795.8L585.7 905.9L586.6 904.2L586.6 796.1L586.7 795.2L586.8 782.3L587 772.5L587.1 764.6L587.3 758.2L587.4 752.7L587.6 748.1L587.7 744.1L587.9 740.8L588 737.8L588.2 735.3L588.3 733.2L588.5 731.5L588.6 730L588.8 728.8L588.9 728L589.1 727.4L589.2 727L589.4 726.9L589.6 727.1L589.7 727.5L589.9 728.2L590 729.2L590.2 730.4L590.3 732L590.5 733.9L590.6 736.1L590.8 738.6L590.9 741.7L591.1 745.1L591.2 749.2L591.4 753.9L591.5 759.4L591.7 766L591.8 773.9L592 783.8L592.1 796.8L592.2 797.7L592.2 905.8L593.1 904.1L593.1 798L593.2 786.3L593.4 776.4L593.5 768.5L593.7 762L593.9 756.5L594 751.8L594.2 747.8L594.3 744.3L594.5 741.3L594.6 738.7L594.8 736.5L595 734.6L595.1 733L595.3 731.7L595.4 730.6L595.6 729.8L595.7 729.3L595.9 729L596 728.9L596.2 729.1L596.4 729.5L596.5 730.1L596.7 731L596.8 732.1L597 733.5L597.1 735.2L597.3 737.2L597.5 739.5L597.6 742.2L597.8 745.3L597.9 748.9L598.1 753L598.2 757.8L598.4 763.4L598.6 770L598.7 778L598.9 788L599 799.8L599 905.9L599.8 904.4L599.8 800L600 786.9L600.1 774.3L600.3 764.7L600.4 757.2L600.6 751.2L600.7 746.2L600.9 742.2L601 738.9L601.2 736.2L601.3 734.1L601.5 732.6L601.6 731.5L601.8 730.9L602 730.7L602.1 731L602.3 731.7L602.4 732.8L602.6 734.5L602.7 736.7L602.9 739.4L603 742.8L603.2 747L603.3 752L603.5 758.2L603.6 765.7L603.8 775.4L603.9 788.1L604.1 801.3L604.1 905.6L604.8 904.2L604.8 801.5L604.9 796.1L605 783.3L605.2 773.6L605.3 765.8L605.5 759.5L605.6 754.2L605.8 749.8L606 746L606.1 742.8L606.3 740.2L606.4 737.9L606.6 736.1L606.7 734.7L606.9 733.6L607 732.9L607.2 732.4L607.4 732.3L607.5 732.5L607.7 733L607.8 733.9L608 735.1L608.1 736.6L608.3 738.5L608.4 740.8L608.6 743.6L608.7 746.8L608.9 750.7L609.1 755.2L609.2 760.6L609.4 767L609.5 774.9L609.7 784.7L609.8 797.6L609.9 803.1L609.9 905.8L610.7 904.3L610.7 803.3L610.8 795.5L610.9 782.7L611.1 773L611.3 765.3L611.4 759.1L611.6 753.9L611.7 749.6L611.9 745.9L612 742.9L612.2 740.4L612.4 738.4L612.5 736.7L612.7 735.5L612.8 734.7L613 734.2L613.2 734.1L613.3 734.3L613.5 734.9L613.6 735.8L613.8 737.1L613.9 738.8L614.1 741L614.3 743.6L614.4 746.7L614.6 750.4L614.7 754.9L614.9 760.1L615.1 766.5L615.2 774.3L615.4 784L615.5 796.9L615.6 804.8L615.6 905.7L616.4 904.3L616.4 805.1L616.5 797.2L616.6 784.4L616.8 774.7L616.9 767.1L617.1 760.8L617.3 755.6L617.4 751.3L617.6 747.7L617.7 744.6L617.9 742.1L618 740.1L618.2 738.5L618.4 737.2L618.5 736.4L618.7 735.9L618.8 735.8L619 736L619.1 736.6L619.3 737.5L619.5 738.8L619.6 740.5L619.8 742.7L619.9 745.3L620.1 748.4L620.2 752.1L620.4 756.6L620.6 761.9L620.7 768.2L620.9 776L621 785.8L621.2 798.6L621.3 806.5L621.3 905.7L622 904.3L622 806.8L622.1 798.9L622.3 786.1L622.4 776.5L622.6 768.8L622.7 762.5L622.9 757.3L623 753L623.2 749.4L623.3 746.3L623.5 743.8L623.6 741.8L623.8 740.1L623.9 738.9L624.1 738.1L624.2 737.6L624.4 737.5L624.5 737.7L624.7 738.3L624.8 739.2L625 740.5L625.1 742.2L625.3 744.4L625.4 747L625.6 750.1L625.7 753.8L625.9 758.2L626 763.5L626.2 769.9L626.3 777.6L626.5 787.4L626.6 800.3L626.7 808.2L626.7 905.7L627.5 904.3L627.5 808.4L627.6 798L627.7 785.3L627.9 775.7L628 768.1L628.2 761.9L628.4 756.8L628.5 752.6L628.7 749.1L628.8 746.3L629 744L629.1 742.1L629.3 740.8L629.5 739.8L629.6 739.3L629.8 739.1L629.9 739.4L630.1 740L630.2 741L630.4 742.5L630.6 744.4L630.7 746.8L630.9 749.8L631 753.4L631.2 757.7L631.3 762.9L631.5 769.1L631.7 776.8L631.8 786.5L632 799.3L632.1 809.8L632.1 905.7L632.8 904.3L632.8 810L632.9 799.6L633.1 786.9L633.2 777.3L633.4 769.7L633.5 763.5L633.7 758.4L633.8 754.2L634 750.7L634.1 747.9L634.3 745.6L634.4 743.7L634.6 742.3L634.7 741.4L634.9 740.8L635 740.7L635.2 740.9L635.3 741.6L635.5 742.6L635.6 744.1L635.8 746L635.9 748.4L636.1 751.4L636.2 754.9L636.4 759.2L636.5 764.4L636.7 770.7L636.8 778.3L637 788L637.1 800.8L637.2 811.3L637.2 905.6L638 904.4L638 811.5L638.1 801.1L638.2 788.4L638.4 778.8L638.5 771.1L638.7 765L638.8 759.9L639 755.7L639.1 752.2L639.3 749.3L639.4 747L639.6 745.2L639.7 743.8L639.9 742.8L640 742.3L640.2 742.1L640.3 742.4L640.5 743L640.6 744L640.8 745.5L640.9 747.4L641.1 749.8L641.2 752.8L641.4 756.3L641.5 760.6L641.7 765.8L641.8 772.1L642 779.7L642.1 789.4L642.3 802.2L642.3 812.7L642.3 905.6" stroke="#cc3300" stroke-width="5.55" stroke-linejoin="round" stroke-linecap="butt"/>
<path d="M639.3 739.4L640.7 739.6L642.1 740.1L643.5 740.4L644.9 741.1L646.3 741L647.7 741.9L649.1 741.7L650.5 742.2L651.9 742.7L653.3 743.4L654.7 743.6L656.1 743.9L657.5 744.6L658.9 744.6L660.3 745.1L661.7 745.5L663.1 746L664.5 746.4L665.9 746.7L667.3 746.9L668.7 747.3L670.1 747.6L671.5 748.4L672.9 748.7L674.3 749.2L675.7 749.3L677.1 749.9L678.5 750.5L679.9 750.8L681.3 751L682.7 751.6L684.1 752.3L685.5 752.3L686.9 752.7L688.3 753.2L689.7 753.9L691.1 754.4L692.5 754.4L693.9 754.8L695.3 755.3L696.7 755.8L698.1 756.3L699.5 756.6L700.9 757.1L702.3 757.4L703.7 758.3L705.1 758.6L706.5 758.7L707.9 759.6L709.3 759.5L710.7 760.1L712.1 760.9L713.5 761.2L714.9 761.6L716.3 761.8L717.7 762.1L719.1 762.8L720.5 762.9L721.9 763.4L723.3 764L724.7 764.2L726.1 764.8L727.5 765.5L728.9 765.8L730.3 766.2L731.7 766.7L733.1 767L734.5 767.2L735.9 767.9L737.3 768.2L738.7 768.9L740.1 769.4L741.5 769.5L742.9 770L744.3 770.6L745.7 770.8L747.1 771.1L748.5 771.8L749.9 772.4L751.3 772.7L752.7 773.1L754.1 773.6L755.5 773.9L756.9 774.4L758.3 774.7L759.7 775L761.1 775.6L762.5 775.7L763.9 776.4L765.3 777L766.7 777.4L768.1 777.8L769.5 778L770.9 778.5L772.3 778.9L773.7 779.5L775.1 779.8L776.5 780.4L777.9 780.9L779.3 780.9L780.7 781.6L782.1 782.1L783.5 782.3L784.9 782.8L786.3 783.5L787.7 783.4L789.1 784.1L790.6 784.3L790.6 874.6L748.5 886L639.3 886Z" fill="#cc3300" stroke="none"/>
<path d="M150 909L150.4 908.1L150.8 907.3L151.2 906.4L151.6 905.5L152 904.6L152.4 903.8L152.8 902.9L153.2 902L153.6 901.1L154 900.3L154.4 899.4L154.8 898.5L155.2 897.7L155.6 896.8L156 895.9L156.4 895L156.8 894.2L157.2 893.3L157.6 892.4L158 891.5L158.4 890.7L158.8 889.8L159.2 888.9L159.6 888.1L160 887.2L160.4 886.3L160.8 885.4L161.2 884.6L161.6 883.7L162 882.8L162.4 881.9L162.8 881.1L163.2 880.2L163.6 879.3L164 878.5L164.4 877.6L164.8 876.7L165.2 875.8L165.6 875L166 874.1L166.4 873.2L166.8 872.4L167.2 871.5L167.6 870.6L168 869.7L168.4 868.9L168.8 868L169.2 867.1L169.6 866.2L170 865.4L170.4 864.5L170.8 863.6L171.2 862.8L171.6 861.9L172 861L172.4 860.1L172.8 859.3L173.2 858.4L173.6 857.5L174 856.7L174.4 855.8L174.8 854.9L175.2 854L175.6 853.2L176 852.3L176.4 851.4L176.8 850.6L177.2 849.7L177.6 848.8L178 847.9L178.4 847.1L178.8 846.2L179.2 845.3L179.6 844.4L180 843.6L180.4 842.7L180.8 841.8L181.2 841L181.6 840.1L182 839.2L182.4 838.3L182.8 837.5L183.2 836.6L183.6 835.7L184 834.9L184.4 834L184.8 833.1L185.2 832.2L185.6 831.4L186 830.5L186.4 829.6L186.8 828.8L187.2 827.9L187.6 827L188 826.1L188.4 825.3L188.8 824.4L189.2 823.5L189.6 822.7L190 821.8L190.4 820.9L190.8 820L191.2 819.2L191.6 818.3L192 817.4L192.4 816.5L192.8 815.7L193.2 814.8L193.6 813.9L194 813.1L194.4 812.2L194.8 811.3L195.2 810.4L195.6 809.6L196 808.7L196.4 807.8L196.8 807L197.2 806.1L197.6 805.2L198 804.3L198.4 803.5L198.8 802.6L199.2 801.7L199.6 800.9L200 800L200.4 799.1L200.8 798.2L201.2 797.4L201.6 796.5L202 795.6L202.4 794.8L202.8 793.9L203.2 793L203.6 792.1L204 791.3L204.4 790.4L204.8 789.5L205.2 788.7L205.6 787.8L206 786.9L206.4 786.1L206.8 785.2L207.2 784.3L207.6 783.4L208 782.6L208.4 781.7L208.8 780.8L209.2 780L209.6 779.1L210 778.2L210.4 777.3L210.8 776.5L211.2 775.6L211.6 774.7L212 773.9L212.4 773L212.8 772.1L213.2 771.2L213.6 770.4L214 769.5L214.4 768.6L214.8 767.8L215.2 766.9L215.6 766L216 765.1L216.4 764.3L216.8 763.4L217.2 762.5L217.6 761.7L218 760.8L218.4 759.9L218.8 759.1L219.2 758.2L219.6 757.3L220 756.4L220.4 755.6L220.8 754.7L221.2 753.8L221.6 753L222 752.1L222.4 751.2L222.8 750.3L223.2 749.5L223.6 748.6L224 747.7L224.4 746.9L224.8 746L225.2 745.1L225.6 744.3L226 743.4L226.4 742.5L226.8 741.6L227.2 740.8L227.6 739.9L228 739L228.4 738.2L228.8 737.3L229.2 736.4L229.6 735.6L230 734.7L230.4 733.8L230.8 733L231.2 732.1L231.6 731.2L232 730.4L232.4 729.5L232.8 728.6L233.2 727.8L233.6 726.9L234 726L234.4 725.2L234.8 724.3L235.2 723.4L235.6 722.6L236 721.7L236.4 720.8L236.8 720L237.2 719.1L237.6 718.2L238 717.4L238.4 716.5L238.8 715.6L239.2 714.8L239.6 713.9L240 713L240.4 712.2L240.8 711.3L241.2 710.4L241.6 709.6L242 708.7L242.4 707.8L242.8 707L243.2 706.1L243.6 705.2L244 704.4L244.4 703.5L244.8 702.6L245.2 701.7L245.6 700.9L246 700L246.4 699.1L246.8 698.3L247.2 697.4L247.6 696.5L248 695.6L248.4 694.8L248.8 693.9L249.2 693L249.6 692.1L250 691.2L250.4 690.4L250.8 689.5L251.2 688.6L251.6 687.7L252 686.8L252.4 685.9L252.8 685.1L253.2 684.2L253.6 683.3L254 682.4L254.4 681.5L254.8 680.6L255.2 679.7L255.6 678.8L256 677.9L256.4 677L256.8 676.1L257.2 675.2L257.6 674.3L258 673.4L258.4 672.5L258.8 671.6L259.2 670.7L259.6 669.8L260 668.9L260.4 668L260.8 667.1L261.2 666.3L261.6 665.4L262 664.5L262.4 663.6L262.8 662.7L263.2 661.9L263.6 661L264 660.1L264.4 659.2L264.8 658.4L265.2 657.5L265.6 656.6L266 655.8L266.4 654.9L266.8 654.1L267.2 653.2L267.6 652.4L268 651.5L268.4 650.7L268.8 649.9L269.2 649.1L269.6 648.2L270 647.4L270.4 646.6L270.8 645.8L271.2 644.9L271.6 644.1L272 643.3L272.4 642.5L272.8 641.7L273.2 640.9L273.6 640.1L274 639.4L274.4 638.6L274.8 637.8L275.2 637.1L275.6 636.4L276 635.7L276.4 635L276.8 634.3L277.2 633.7L277.6 633L278 632.4L278.4 631.8L278.8 631.1L279.2 630.5L279.6 629.9L280 629.3L280.4 628.7L280.8 628.1L281.2 627.5L281.6 627L282 626.5L282.4 626L282.8 625.5L283.2 625L283.6 624.5L284 624.1L284.4 623.7L284.8 623.3L285.2 622.9L285.6 622.5L286 622.2L286.4 621.9L286.8 621.6L287.2 621.3L287.6 621.2L288 621L288.4 620.8L288.8 620.7L289.2 620.6L289.6 620.5L290 620.4L290.4 620.4L290.8 620.4L291.2 620.5L291.6 620.5L292 620.6L292.4 620.7L292.8 620.7L293.2 620.8L293.6 620.9L294 621L294.4 621.1L294.8 621.3L295.2 621.4L295.6 621.6L296 621.7L296.4 621.8L296.8 622L297.2 622.1L297.6 622.3L298 622.4L298.4 622.5L298.8 622.5L299.2 622.5L299.6 622.4L300 622.3L300.4 622.2L300.8 622.1L301.2 621.7L301.6 621.2L302 620.6L302.4 620L302.8 619.2L303.2 618.2L303.6 617.3L304 616.3L304.4 615.3L304.8 614.2L305.2 613.2L305.6 612.3L306 611.5L306.4 610.9L306.8 610.3L307.2 609.8L307.6 609.5L308 609.3L308.4 609L308.8 608.9L309.2 608.9L309.6 609L310 609.2L310.4 609.4L310.8 609.5L311.2 609.7L311.6 609.8L312 610L312.4 610.1L312.8 610L313.2 609.6L313.6 608.9L314 608.2L314.4 607.3L314.8 606.3L315.2 605.5L315.6 604.8L316 604.2L316.4 603.7L316.8 603.3L317.2 602.9L317.6 602.9L318 603L318.4 603L318.8 603.1L319.2 603.1L319.6 603.1L320 603L320.4 602.9L320.8 602.6L321.2 602.1L321.6 601.6L322 601L322.4 600.4L322.8 599.9L323.2 599.4L323.6 599L324 598.7L324.4 598.4L324.8 598.2L325.2 598.1L325.6 598.1L326 598L326.4 598L326.8 597.9L327.2 597.8L327.6 597.6L328 597.3L328.4 596.9L328.8 596.5L329.2 596.1L329.6 595.6L330 595.2L330.4 594.9L330.8 594.7L331.2 594.5L331.6 594.4L332 594.2L332.4 594L332.8 593.7L333.2 593.3L333.6 592.9L334 592.5L334.4 592.1L334.8 591.7L335.2 591.3L335.6 590.9L336 590.6L336.4 590.2L336.8 589.8L337.2 589.4L337.6 589L338 588.6L338.4 588.3L338.8 587.9L339.2 587.5L339.6 587.2L340 586.8L340.4 586.4L340.8 586.1L341.2 585.7L341.6 585.4L342 585L342.4 584.7L342.8 584.3L343.2 584L343.6 583.6L344 583.3L344.4 582.9L344.8 582.6L345.2 582.3L345.6 581.9L346 581.6L346.4 581.3L346.8 580.9L347.2 580.6L347.6 580.2L348 579.9L348.4 579.6L348.8 579.2L349.2 578.9L349.6 578.6L350 578.3L350.4 577.9L350.8 577.6L351.2 577.3L351.6 576.9L352 576.6L352.4 576.3L352.8 575.9L353.2 575.6L353.6 575.3L354 574.9L354.4 574.6L354.8 574.3L355.2 574L355.6 573.6L356 573.3L356.4 573L356.8 572.6L357.2 572.3L357.6 572L358 571.7L358.4 571.3L358.8 571L359.2 570.7L359.6 570.4L360 570.1L360.4 569.8L360.8 569.4L361.2 569.1L361.6 568.8L362 568.5L362.4 568.2L362.8 567.9L363.2 567.6L363.6 567.3L364 567L364.4 566.7L364.8 566.4L365.2 566.1L365.6 565.8L366 565.5L366.4 565.2L366.8 564.9L367.2 564.6L367.6 564.3L368 564L368.4 563.7L368.8 563.4L369.2 563.1L369.6 562.8L370 562.5L370.4 562.2L370.8 561.9L371.2 561.6L371.6 561.3L372 561.1L372.4 560.8L372.8 560.5L373.2 560.2L373.6 560L374 559.7L374.4 559.5L374.8 559.2L375.2 559L375.6 558.8L376 558.6L376.4 558.3L376.8 558.1L377.2 557.9L377.6 557.7L378 557.5L378.4 557.3L378.8 557.1L379.2 556.9L379.6 556.7L380 556.5L380.4 556.3L380.8 556.1L381.2 555.9L381.6 555.7L382 555.6L382.4 555.4L382.8 555.2L383.2 555L383.6 554.9L384 554.7L384.4 554.5L384.8 554.4L385.2 554.2L385.6 554.1L386 553.9L386.4 553.8L386.8 553.6L387.2 553.5L387.6 553.3L388 553.2L388.4 553L388.8 552.9L389.2 552.8L389.6 552.6L390 552.5L390.4 552.4L390.8 552.2L391.2 552.1L391.6 552L392 551.8L392.4 551.7L392.8 551.6L393.2 551.5L393.6 551.3L394 551.2L394.4 551.1L394.8 551L395.2 550.9L395.6 550.8L396 550.6L396.4 550.5L396.8 550.4L397.2 550.3L397.6 550.2L398 550.2L398.4 550.1L398.8 550L399.2 549.9L399.6 549.8L400 549.7L400.4 549.7L400.8 549.6L401.2 549.5L401.6 549.5L402 549.4L402.4 549.3L402.8 549.3L403.2 549.2L403.6 549.1L404 549.1L404.4 549L404.8 548.9L405.2 548.9L405.6 548.8L406 548.8L406.4 548.7L406.8 548.7L407.2 548.6L407.6 548.6L408 548.5L408.4 548.5L408.8 548.4L409.2 548.4L409.6 548.3L410 548.3L410.4 548.3L410.8 548.2L411.2 548.2L411.6 548.2L412 548.1L412.4 548.1L412.8 548.1L413.2 548L413.6 548L414 548L414.4 548L414.8 547.9L415.2 547.9L415.6 547.9L416 547.9L416.4 547.8L416.8 547.8L417.2 547.8L417.6 547.8L418 547.7L418.4 547.7L418.8 547.7L419.2 547.7L419.6 547.7L420 547.6L420.4 547.6L420.8 547.6L421.2 547.6L421.6 547.6L422 547.6L422.4 547.6L422.8 547.5L423.2 547.5L423.6 547.5L424 547.5L424.4 547.5L424.8 547.5L425.2 547.5L425.6 547.5L426 547.5L426.4 547.5L426.8 547.4L427.2 547.4L427.6 547.4L428 547.4L428.4 547.4L428.8 547.4L429.2 547.4L429.6 547.4L430 547.4L430.4 547.4L430.8 547.4L431.2 547.4L431.6 547.4L432 547.4L432.4 547.4L432.8 547.4L433.2 547.3L433.6 547.3L434 547.3L434.4 547.3L434.8 547.3L435.2 547.3L435.6 547.3L436 547.3L436.4 547.3L436.8 547.3L437.2 547.3L437.6 547.3L438 547.3L438.4 547.3L438.8 547.3L439.2 547.3L439.6 547.3L440 547.3L440.4 547.3L440.8 547.3L441.2 547.3L441.6 547.3L442 547.3L442.4 547.3L442.8 547.3L443.2 547.3L443.6 547.3L444 547.3L444.4 547.3L444.8 547.3L445.2 547.3L445.6 547.3L446 547.3L446.4 547.3L446.8 547.3L447.2 547.3L447.6 547.3L448 547.3L448.4 547.3L448.8 547.3L449.2 547.3L449.6 547.3L450 547.3L450.4 547.3L450.8 547.3L451.2 547.3L451.6 547.3L452 547.3L452.4 547.3L452.8 547.3L453.2 547.3L453.6 547.3L454 547.3L454.4 547.3L454.8 547.3L455.2 547.3L455.6 547.3L456 547.3L456.4 547.3L456.8 547.3L457.2 547.3L457.6 547.3L458 547.3L458.4 547.3L458.8 547.3L459.2 547.3L459.6 547.3L460 547.3L460.4 547.3L460.8 547.3L461.2 547.3L461.6 547.3L462 547.3L462.4 547.3L462.8 547.3L463.2 547.3L463.6 547.3L464 547.3L464.4 547.3L464.8 547.3L465.2 547.3L465.6 547.3L466 547.3L466.4 547.3L466.8 547.3L467.2 547.3L467.6 547.3L468 547.3L468.4 547.3L468.8 547.3L469.2 547.3L469.6 547.3L470 547.3L470.4 547.3L470.8 547.3L471.2 547.3L471.6 547.3L472 547.3L472.4 547.3L472.8 547.3L473.2 547.3L473.6 547.3L474 547.3L474.4 547.3L474.8 547.3L475.2 547.3L475.6 547.3L476 547.3L476.4 547.3L476.8 547.3L477.2 547.3L477.6 547.3L478 547.3L478.4 547.3L478.8 547.3L479.2 547.3L479.6 547.3L480 547.3L480.4 547.3L480.8 547.3L481.2 547.3L481.6 547.3L482 547.3L482.4 547.3L482.8 547.3L483.2 547.3L483.6 547.3L484 547.3L484.4 547.3L484.8 547.3L485.2 547.3L485.6 547.3L486 547.3L486.4 547.3L486.8 547.3L487.2 547.3L487.6 547.3L488 547.3L488.4 547.3L488.8 547.3L489.2 547.3L489.6 547.3L490 547.3L490.4 547.3L490.8 547.3L491.2 547.3L491.6 547.3L492 547.3L492.4 547.3L492.8 547.3L493.2 547.3L493.6 547.3L494 547.3L494.4 547.3L494.8 547.3L495.2 547.3L495.6 547.3L496 547.3L496.4 547.3L496.8 547.3L497.2 547.3L497.6 547.3L498 547.3L498.4 547.3L498.8 547.3L499.2 547.3L499.6 547.3L500 547.3L500.4 547.3L500.8 547.3L501.2 547.3L501.6 547.3L502 547.3L502.4 547.3L502.8 547.3L503.2 547.3L503.6 547.3L504 547.3L504.4 547.3L504.8 547.3L505.2 547.3L505.6 547.3L506 547.3L506.4 547.3L506.8 547.3L507.2 547.3L507.6 547.3L508 547.3L508.4 547.3L508.8 547.3L509.2 547.3L509.6 547.3L510 547.3L510.4 547.3L510.8 547.3L511.2 547.3L511.6 547.3L512 547.3L512.4 547.3L512.8 547.3L513.2 547.3L513.6 547.3L514 547.3L514.4 547.3L514.8 547.3L515.2 547.3L515.6 547.3L516 547.3L516.4 547.3L516.8 547.3L517.2 547.3L517.6 547.3L518 547.3L518.4 547.3L518.8 547.3L519.2 547.3L519.6 547.3L520 547.3L520.4 547.3L520.8 547.3L521.2 547.3L521.6 547.3L522 547.3L522.4 547.3L522.8 547.3L523.2 547.3L523.6 547.3L524 547.3L524.4 547.3L524.8 547.3L525.2 547.3L525.6 547.3L526 547.3L526.4 547.3L526.8 547.3L527.2 547.3L527.6 547.3L528 547.3L528.4 547.3L528.8 547.3L529.2 547.3L529.6 547.3L530 547.3L530.4 547.3L530.8 547.3L531.2 547.3L531.6 547.3L532 547.3L532.4 547.3L532.8 547.3L533.2 547.3L533.6 547.3L534 547.3L534.4 547.3L534.8 547.3L535.2 547.3L535.6 547.3L536 547.3L536.4 547.3L536.8 547.3L537.2 547.3L537.6 547.3L538 547.3L538.4 547.3L538.8 547.3L539.2 547.3L539.6 547.3L540 547.3L540.4 547.3L540.8 547.3L541.2 547.3L541.6 547.3L542 547.3L542.4 547.3L542.8 547.3L543.2 547.3L543.6 547.3L544 547.3L544.4 547.3L544.8 547.3L545.2 547.3L545.6 547.3L546 547.3L546.4 547.3L546.8 547.3L547.2 547.3L547.6 547.3L548 547.3L548.4 547.3L548.8 547.3L549.2 547.3L549.6 547.3L550 547.3L550.4 547.3L550.8 547.3L551.2 547.3L551.6 547.3L552 547.3L552.4 547.3L552.8 547.3L553.2 547.3L553.6 547.3L554 547.3L554.4 547.3L554.8 547.3L555.2 547.3L555.6 547.3L556 547.3L556.4 547.3L556.8 547.3L557.2 547.3L557.6 547.3L558 547.3L558.4 547.3L558.8 547.3L559.2 547.3L559.6 547.3L560 547.3L560.4 547.3L560.8 547.3L561.2 547.3L561.6 547.3L562 547.3L562.4 547.3L562.8 547.3L563.2 547.3L563.6 547.3L564 547.3L564.4 547.3L564.8 547.3L565.2 547.3L565.6 547.3L566 547.3L566.4 547.3L566.8 547.3L567.2 547.3L567.6 547.3L568 547.3L568.4 547.3L568.8 547.3L569.2 547.3L569.6 547.3L570 547.3L570.4 547.3L570.8 547.3L571.2 547.3L571.6 547.3L572 547.3L572.4 547.3L572.8 547.3L573.2 547.3L573.6 547.3L574 547.3L574.4 547.3L574.8 547.3L575.2 547.3L575.6 547.3L576 547.3L576.4 547.3L576.8 547.3L577.2 547.3L577.6 547.3L578 547.3L578.4 547.3L578.8 547.3L579.2 547.3L579.6 547.3L580 547.3L580.4 547.3L580.8 547.3L581.2 547.3L581.6 547.3L582 547.3L582.4 547.3L582.8 547.3L583.2 547.3L583.6 547.3L584 547.3L584.4 547.3L584.8 547.3L585.2 547.3L585.6 547.3L586 547.3L586.4 547.3L586.8 547.3L587.2 547.3L587.6 547.3L588 547.3L588.4 547.3L588.8 547.3L589.2 547.3L589.6 547.3L590 547.3L590.4 547.3L590.8 547.3L591.2 547.3L591.6 547.3L592 547.3L592.4 547.3L592.8 547.3L593.2 547.3L593.6 547.3L594 547.3L594.4 547.3L594.8 547.3L595.2 547.3L595.6 547.3L596 547.3L596.4 547.3L596.8 547.3L597.2 547.3L597.6 547.3L598 547.3L598.4 547.3L598.8 547.3L599.2 547.3L599.6 547.3L600 547.3L600.4 547.3L600.8 547.3L601.2 547.3L601.6 547.3L602 547.3L602.4 547.3L602.8 547.3L603.2 547.3L603.6 547.3L604 547.3L604.4 547.3L604.8 547.3L605.2 547.3L605.6 547.3L606 547.3L606.4 547.3L606.8 547.3L607.2 547.3L607.6 547.3L608 547.3L608.4 547.3L608.8 547.3L609.2 547.3L609.6 547.3L610 547.3L610.4 547.3L610.8 547.3L611.2 547.3L611.6 547.3L612 547.3L612.4 547.3L612.8 547.3L613.2 547.3L613.6 547.3L614 547.3L614.4 547.3L614.8 547.3L615.2 547.3L615.6 547.3L616 547.3L616.4 547.3L616.8 547.3L617.2 547.3L617.6 547.3L618 547.3L618.4 547.3L618.8 547.3L619.2 547.3L619.6 547.3L620 547.3L620.4 547.3L620.8 547.3L621.2 547.3L621.6 547.3L622 547.3L622.4 547.3L622.8 547.3L623.2 547.3L623.6 547.3L624 547.3L624.4 547.3L624.8 547.3L625.2 547.3L625.6 547.3L626 547.3L626.4 547.3L626.8 547.3L627.2 547.3L627.6 547.3L628 547.3L628.4 547.3L628.8 547.3L629.2 547.3L629.6 547.3L630 547.3L630.4 547.3L630.8 547.3L631.2 547.3L631.6 547.3L632 547.3L632.4 547.3L632.8 547.3L633.2 547.3L633.6 547.3L634 547.3L634.4 547.3L634.8 547.3L635.2 547.3L635.6 547.3L636 547.3L636.4 547.3L636.8 547.3L637.2 547.3L637.6 547.3L638 547.3L638.4 547.3L638.8 547.3L639.2 547.3L639.6 547.3L640 547.3L640.4 547.3L640.8 547.3L641.2 547.3L641.6 547.3L642 547.3L642.4 547.3L642.8 547.3L643.2 547.3L643.6 547.3L644 547.3L644.4 547.3L644.8 547.3L645.2 547.3L645.6 547.3L646 547.3L646.4 547.3L646.8 547.3L647.2 547.3L647.6 547.3L648 547.3L648.4 547.3L648.8 547.3L649.2 547.3L649.6 547.3L650 547.3L650.4 547.3L650.8 547.3L651.2 547.3L651.6 547.3L652 547.3L652.4 547.3L652.8 547.3L653.2 547.3L653.6 547.3L654 547.3L654.4 547.3L654.8 547.3L655.2 547.3L655.6 547.3L656 547.3L656.4 547.3L656.8 547.3L657.2 547.3L657.6 547.3L658 547.3L658.4 547.3L658.8 547.3L659.2 547.3L659.6 547.3L660 547.3L660.4 547.3L660.8 547.3L661.2 547.3L661.6 547.3L662 547.3L662.4 547.3L662.8 547.3L663.2 547.3L663.6 547.3L664 547.3L664.4 547.3L664.8 547.3L665.2 547.3L665.6 547.3L666 547.3L666.4 547.3L666.8 547.3L667.2 547.3L667.6 547.3L668 547.3L668.4 547.3L668.8 547.3L669.2 547.3L669.6 547.3L670 547.3L670.4 547.3L670.8 547.3L671.2 547.3L671.6 547.3L672 547.3L672.4 547.3L672.8 547.3L673.2 547.3L673.6 547.3L674 547.3L674.4 547.3L674.8 547.3L675.2 547.3L675.6 547.3L676 547.3L676.4 547.3L676.8 547.3L677.2 547.3L677.6 547.3L678 547.3L678.4 547.3L678.8 547.3L679.2 547.3L679.6 547.3L680 547.3L680.4 547.3L680.8 547.3L681.2 547.3L681.6 547.3L682 547.3L682.4 547.3L682.8 547.3L683.2 547.3L683.6 547.3L684 547.3L684.4 547.3L684.8 547.3L685.2 547.3L685.6 547.3L686 547.3L686.4 547.3L686.8 547.3L687.2 547.3L687.6 547.3L688 547.3L688.4 547.3L688.8 547.3L689.2 547.3L689.6 547.3L690 547.3L690.4 547.3L690.8 547.3L691.2 547.3L691.6 547.3L692 547.3L692.4 547.3L692.8 547.3L693.2 547.3L693.6 547.3L694 547.3L694.4 547.3L694.8 547.3L695.2 547.3L695.6 547.3L696 547.3L696.4 547.3L696.8 547.3L697.2 547.3L697.6 547.3L698 547.3L698.4 547.3L698.8 547.3L699.2 547.3L699.6 547.3L700 547.3L700.4 547.3L700.8 547.3L701.2 547.3L701.6 547.3L702 547.3L702.4 547.3L702.8 547.3L703.2 547.3L703.6 547.3L704 547.3L704.4 547.3L704.8 547.3L705.2 547.3L705.6 547.3L706 547.3L706.4 547.3L706.8 547.3L707.2 547.3L707.6 547.3L708 547.3L708.4 547.3L708.8 547.3L709.2 547.3L709.6 547.3L710 547.3L710.4 547.3L710.8 547.3L711.2 547.3L711.6 547.3L712 547.3L712.4 547.3L712.8 547.3L713.2 547.3L713.6 547.3L714 547.3L714.4 547.3L714.8 547.3L715.2 547.3L715.6 547.3L716 547.3L716.4 547.3L716.8 547.3L717.2 547.3L717.6 547.3L718 547.3L718.4 547.3L718.8 547.3L719.2 547.3L719.6 547.3L720 547.3L720.4 547.3L720.8 547.3L721.2 547.3L721.6 547.3L722 547.3L722.4 547.3L722.8 547.3L723.2 547.3L723.6 547.3L724 547.3L724.4 547.3L724.8 547.3L725.2 547.3L725.6 547.3L726 547.3L726.4 547.3L726.8 547.3L727.2 547.3L727.6 547.3L728 547.3L728.4 547.3L728.8 547.3L729.2 547.3L729.6 547.3L730 547.3L730.4 547.3L730.8 547.3L731.2 547.3L731.6 547.3L732 547.3L732.4 547.3L732.8 547.3L733.2 547.3L733.6 547.3L734 547.3L734.4 547.3L734.8 547.3L735.2 547.3L735.6 547.3L736 547.3L736.4 547.3L736.8 547.3L737.2 547.3L737.6 547.3L738 547.3L738.4 547.3L738.8 547.3L739.2 547.3L739.6 547.3L740 547.3L740.4 547.3L740.8 547.3L741.2 547.3L741.6 547.3L742 547.3L742.4 547.3L742.8 547.3L743.2 547.3L743.6 547.3L744 547.3L744.4 547.3L744.8 547.3L745.2 547.3L745.6 547.3L746 547.3L746.4 547.3L746.8 547.3L747.2 547.3L747.6 547.3L748 547.3L748.4 547.3L748.8 547.3L749.2 547.3L749.6 547.3L750 547.3L750.4 547.3L750.8 547.3L751.2 547.3L751.6 547.3L752 547.3L752.4 547.3L752.8 547.3L753.2 547.3L753.6 547.3L754 547.3L754.4 547.3L754.8 547.3L755.2 547.3L755.6 547.3L756 547.3L756.4 547.3L756.8 547.3L757.2 547.3L757.6 547.3L758 547.3L758.4 547.3L758.8 547.3L759.2 547.3L759.6 547.3L760 547.3L760.4 547.3L760.8 547.3L761.2 547.3L761.6 547.3L762 547.3L762.4 547.3L762.8 547.3L763.2 547.3L763.6 547.3L764 547.3L764.4 547.3L764.8 547.3L765.2 547.3L765.6 547.3L766 547.3L766.4 547.3L766.8 547.3L767.2 547.3L767.6 547.3L768 547.3L768.4 547.3L768.8 547.3L769.2 547.3L769.6 547.3L770 547.3L770.4 547.3L770.8 547.3L771.2 547.3L771.6 547.3L772 547.3L772.4 547.3L772.8 547.3L773.2 547.3L773.6 547.3L774 547.3L774.4 547.3L774.8 547.3L775.2 547.3L775.6 547.3L776 547.3L776.4 547.3L776.8 547.3L777.2 547.3L777.6 547.3L778 547.3L778.4 547.3L778.8 547.3L779.2 547.3L779.6 547.3L780 547.3L780.4 547.3L780.8 547.3L781.2 547.3L781.6 547.3L782 547.3L782.4 547.3L782.8 547.3L783.2 547.3L783.6 547.3L784 547.3L784.4 547.3L784.8 547.3L785.2 547.3L785.6 547.3L786 547.3L786.4 547.3L786.8 547.3L787.2 547.3L787.6 547.3L788 547.3L788.4 547.3L788.8 547.3L789.2 547.3" stroke="#1fa178"/>
<path d="M150 909L150.4 908.1L150.8 907.3L151.2 906.4L151.6 905.5L152 904.6L152.4 903.8L152.8 902.9L153.2 902L153.6 901.1L154 900.3L154.4 899.4L154.8 898.5L155.2 897.7L155.6 896.8L156 895.9L156.4 895L156.8 894.2L157.2 893.3L157.6 892.4L158 891.5L158.4 890.7L158.8 889.8L159.2 888.9L159.6 888.1L160 887.2L160.4 886.3L160.8 885.4L161.2 884.6L161.6 883.7L162 882.8L162.4 881.9L162.8 881.1L163.2 880.2L163.6 879.3L164 878.5L164.4 877.6L164.8 876.7L165.2 875.8L165.6 875L166 874.1L166.4 873.2L166.8 872.4L167.2 871.5L167.6 870.6L168 869.7L168.4 868.9L168.8 868L169.2 867.1L169.6 866.2L170 865.4L170.4 864.5L170.8 863.6L171.2 862.8L171.6 861.9L172 861L172.4 860.1L172.8 859.3L173.2 858.4L173.6 857.5L174 856.7L174.4 855.8L174.8 854.9L175.2 854L175.6 853.2L176 852.3L176.4 851.4L176.8 850.6L177.2 849.7L177.6 848.8L178 847.9L178.4 847.1L178.8 846.2L179.2 845.3L179.6 844.4L180 843.6L180.4 842.7L180.8 841.8L181.2 841L181.6 840.1L182 839.2L182.4 838.3L182.8 837.5L183.2 836.6L183.6 835.7L184 834.9L184.4 834L184.8 833.1L185.2 832.2L185.6 831.4L186 830.5L186.4 829.6L186.8 828.8L187.2 827.9L187.6 827L188 826.1L188.4 825.3L188.8 824.4L189.2 823.5L189.6 822.7L190 821.8L190.4 820.9L190.8 820L191.2 819.2L191.6 818.3L192 817.4L192.4 816.5L192.8 815.7L193.2 814.8L193.6 813.9L194 813.1L194.4 812.2L194.8 811.3L195.2 810.4L195.6 809.6L196 808.7L196.4 807.8L196.8 807L197.2 806.1L197.6 805.2L198 804.3L198.4 803.5L198.8 802.6L199.2 801.7L199.6 800.9L200 800L200.4 799.1L200.8 798.2L201.2 797.4L201.6 796.5L202 795.6L202.4 794.8L202.8 793.9L203.2 793L203.6 792.1L204 791.3L204.4 790.4L204.8 789.5L205.2 788.7L205.6 787.8L206 786.9L206.4 786.1L206.8 785.2L207.2 784.3L207.6 783.4L208 782.6L208.4 781.7L208.8 780.8L209.2 780L209.6 779.1L210 778.2L210.4 777.3L210.8 776.5L211.2 775.6L211.6 774.7L212 773.9L212.4 773L212.8 772.1L213.2 771.2L213.6 770.4L214 769.5L214.4 768.6L214.8 767.8L215.2 766.9L215.6 766L216 765.1L216.4 764.3L216.8 763.4L217.2 762.5L217.6 761.7L218 760.8L218.4 759.9L218.8 759.1L219.2 758.2L219.6 757.3L220 756.4L220.4 755.6L220.8 754.7L221.2 753.8L221.6 753L222 752.1L222.4 751.2L222.8 750.3L223.2 749.5L223.6 748.6L224 747.7L224.4 746.9L224.8 746L225.2 745.1L225.6 744.3L226 743.4L226.4 742.5L226.8 741.6L227.2 740.8L227.6 739.9L228 739L228.4 738.2L228.8 737.3L229.2 736.4L229.6 735.6L230 734.7L230.4 733.8L230.8 733L231.2 732.1L231.6 731.2L232 730.4L232.4 729.5L232.8 728.6L233.2 727.8L233.6 726.9L234 726L234.4 725.2L234.8 724.3L235.2 723.4L235.6 722.6L236 721.7L236.4 720.8L236.8 720L237.2 719.1L237.6 718.2L238 717.4L238.4 716.5L238.8 715.6L239.2 714.8L239.6 713.9L240 713L240.4 712.2L240.8 711.3L241.2 710.4L241.6 709.6L242 708.7L242.4 707.8L242.8 707L243.2 706.1L243.6 705.2L244 704.4L244.4 703.5L244.8 702.6L245.2 701.7L245.6 700.9L246 700L246.4 699.1L246.8 698.3L247.2 697.4L247.6 696.5L248 695.6L248.4 694.8L248.8 693.9L249.2 693L249.6 692.1L250 691.2L250.4 690.4L250.8 689.5L251.2 688.6L251.6 687.7L252 686.8L252.4 685.9L252.8 685.1L253.2 684.2L253.6 683.3L254 682.4L254.4 681.5L254.8 680.6L255.2 679.7L255.6 678.8L256 677.9L256.4 677L256.8 676.1L257.2 675.2L257.6 674.3L258 673.4L258.4 672.5L258.8 671.6L259.2 670.7L259.6 669.8L260 668.9L260.4 668L260.8 667.1L261.2 666.3L261.6 665.4L262 664.5L262.4 663.6L262.8 662.7L263.2 661.9L263.6 661L264 660.1L264.4 659.2L264.8 658.4L265.2 657.5L265.6 656.6L266 655.8L266.4 654.9L266.8 654.1L267.2 653.2L267.6 652.4L268 651.5L268.4 650.7L268.8 649.9L269.2 649.1L269.6 648.2L270 647.4L270.4 646.6L270.8 645.8L271.2 644.9L271.6 644.1L272 643.3L272.4 642.5L272.8 641.7L273.2 640.9L273.6 640.1L274 639.4L274.4 638.6L274.8 637.8L275.2 637.1L275.6 636.4L276 635.7L276.4 635L276.8 634.3L277.2 633.7L277.6 633L278 632.4L278.4 631.8L278.8 631.1L279.2 630.5L279.6 629.9L280 629.3L280.4 628.7L280.8 628.1L281.2 627.5L281.6 627L282 626.5L282.4 626L282.8 625.5L283.2 625L283.6 624.5L284 624.1L284.4 623.7L284.8 623.3L285.2 622.9L285.6 622.5L286 622.2L286.4 621.9L286.8 621.6L287.2 621.3L287.6 621.2L288 621L288.4 620.8L288.8 620.7L289.2 620.6L289.6 620.5L290 620.4L290.4 620.4L290.8 620.4L291.2 620.5L291.6 620.5L292 620.6L292.4 620.7L292.8 620.7L293.2 620.8L293.6 620.9L294 621L294.4 621.1L294.8 621.3L295.2 621.4L295.6 621.6L296 621.7L296.4 621.8L296.8 622L297.2 622.1L297.6 622.3L298 622.4L298.4 622.5L298.8 622.5L299.2 622.5L299.6 622.4L300 622.3L300.4 622.2L300.8 622.1L301.2 621.7L301.6 621.2L302 620.6L302.4 620L302.8 619.2L303.2 618.2L303.6 617.3L304 616.3L304.4 615.3L304.8 614.2L305.2 613.2L305.6 612.3L306 611.5L306.4 610.9L306.8 610.3L307.2 609.8L307.6 609.5L308 609.3L308.4 609L308.8 608.9L309.2 608.9L309.6 609L310 609.2L310.4 609.4L310.8 609.5L311.2 609.7L311.6 609.8L312 610L312.4 610.1L312.8 610L313.2 609.6L313.6 608.9L314 608.2L314.4 607.3L314.8 606.3L315.2 605.5L315.6 604.8L316 604.2L316.4 603.7L316.8 603.3L317.2 602.9L317.6 602.9L318 603L318.4 603L318.8 603.1L319.2 603.1L319.6 603.1L320 603L320.4 602.9L320.8 602.6L321.2 602.1L321.6 601.6L322 601L322.4 600.4L322.8 599.9L323.2 599.4L323.6 599L324 598.7L324.4 598.4L324.8 598.2L325.2 598.1L325.6 598.1L326 598L326.4 598L326.8 597.9L327.2 597.8L327.6 597.6L328 597.3L328.4 596.9L328.8 596.5L329.2 596.1L329.6 595.6L330 595.2L330.4 594.9L330.8 594.7L331.2 594.5L331.6 594.4L332 594.2L332.4 594L332.8 593.7L333.2 593.3L333.6 592.9L334 592.5L334.4 592.1L334.8 591.7L335.2 591.3L335.6 590.9L336 590.6L336.4 590.2L336.8 589.8L337.2 589.4L337.6 589L338 588.6L338.4 588.3L338.8 587.9L339.2 587.5L339.6 587.2L340 586.8L340.4 586.4L340.8 586.1L341.2 585.7L341.6 585.4L342 585L342.4 584.7L342.8 584.3L343.2 584L343.6 583.6L344 583.3L344.4 582.9L344.8 582.6L345.2 582.3L345.6 581.9L346 581.6L346.4 581.3L346.8 580.9L347.2 580.6L347.6 580.2L348 579.9L348.4 579.6L348.8 579.2L349.2 578.9L349.6 578.6L350 578.3L350.4 577.9L350.8 577.6L351.2 577.3L351.6 576.9L352 576.6L352.4 576.3L352.8 575.9L353.2 575.6L353.6 575.3L354 574.9L354.4 574.6L354.8 574.3L355.2 574L355.6 573.6L356 573.3L356.4 573L356.8 572.6L357.2 572.3L357.6 572L358 571.7L358.4 571.3L358.8 571L359.2 570.7L359.6 570.4L360 570.1L360.4 569.8L360.8 569.4L361.2 569.1L361.6 568.8L362 568.5L362.4 568.2L362.8 567.9L363.2 567.6L363.6 567.3L364 567L364.4 566.7L364.8 566.4L365.2 566.1L365.6 565.8L366 565.5L366.4 565.2L366.8 564.9L367.2 564.6L367.6 564.3L368 564L368.4 563.7L368.8 563.4L369.2 563.1L369.6 562.8L370 562.5L370.4 562.2L370.8 561.9L371.2 561.6L371.6 561.3L372 561.1L372.4 560.8L372.8 560.5L373.2 560.2L373.6 560L374 559.7L374.4 559.5L374.8 559.2L375.2 559L375.6 558.8L376 558.6L376.4 558.3L376.8 558.1L377.2 557.9L377.6 557.7L378 557.5L378.4 557.3L378.8 557.1L379.2 556.9L379.6 556.7L380 556.5L380.4 556.3L380.8 556.1L381.2 555.9L381.6 555.7L382 555.6L382.4 555.4L382.8 555.2L383.2 555L383.6 554.9L384 554.7L384.4 554.5L384.8 554.4L385.2 554.2L385.6 554.1L386 553.9L386.4 553.8L386.8 553.6L387.2 553.5L387.6 553.3L388 553.2L388.4 553L388.8 552.9L389.2 552.8L389.6 552.6L390 552.5L390.4 552.4L390.8 552.2L391.2 552.1L391.6 552L392 551.8L392.4 551.7L392.8 551.6L393.2 551.5L393.6 551.3L394 551.2L394.4 551.1L394.8 551L395.2 550.9L395.6 550.8L396 550.6L396.4 550.5L396.8 550.4L397.2 550.3L397.6 550.2L398 550.2L398.4 550.1L398.8 550L399.2 549.9L399.6 549.8L400 549.7L400.4 549.7L400.8 549.6L401.2 549.5L401.6 549.5L402 549.4L402.4 549.3L402.8 549.3L403.2 549.2L403.6 549.1L404 549.1L404.4 549L404.8 548.9L405.2 548.9L405.6 548.8L406 548.8L406.4 548.7L406.8 548.7L407.2 548.6L407.6 548.6L408 548.5L408.4 548.5L408.8 548.4L409.2 548.4L409.6 548.3" stroke="#1fa178" stroke-width="5.8" stroke-linecap="butt"/>
<line x1="124.3" y1="557.5" x2="791.6" y2="557.5" stroke="#000" stroke-width="4.7" stroke-linecap="butt" stroke-dasharray="11.2 10.96"/>
<line x1="124.3" y1="701.9" x2="788.7" y2="701.9" stroke="#000" stroke-width="4.4" stroke-linecap="butt" stroke-dasharray="3.0 10.82"/>
</g>
<g fill="none" stroke="#555555" stroke-width="1.2">
<rect x="110.5" y="31.3" width="692.3" height="426.59999999999997"/>
<rect x="110.5" y="458.7" width="692.3" height="426.3"/>
</g>
<path d="M124.9 31.3L124.9 38.2M124.9 457.9L124.9 451M124.9 458.7L124.9 465.6M124.9 885L124.9 878.1M257.7 31.3L257.7 38.2M257.7 457.9L257.7 451M257.7 458.7L257.7 465.6M257.7 885L257.7 878.1M390.5 31.3L390.5 38.2M390.5 457.9L390.5 451M390.5 458.7L390.5 465.6M390.5 885L390.5 878.1M523.3 31.3L523.3 38.2M523.3 457.9L523.3 451M523.3 458.7L523.3 465.6M523.3 885L523.3 878.1M656.1 31.3L656.1 38.2M656.1 457.9L656.1 451M656.1 458.7L656.1 465.6M656.1 885L656.1 878.1M788.9 31.3L788.9 38.2M788.9 457.9L788.9 451M788.9 458.7L788.9 465.6M788.9 885L788.9 878.1M112 31.3L112 35.8M112 457.9L112 453.4M112 458.7L112 463.2M112 885L112 880.5M118.8 31.3L118.8 35.8M118.8 457.9L118.8 453.4M118.8 458.7L118.8 463.2M118.8 885L118.8 880.5M164.9 31.3L164.9 35.8M164.9 457.9L164.9 453.4M164.9 458.7L164.9 463.2M164.9 885L164.9 880.5M188.3 31.3L188.3 35.8M188.3 457.9L188.3 453.4M188.3 458.7L188.3 463.2M188.3 885L188.3 880.5M204.9 31.3L204.9 35.8M204.9 457.9L204.9 453.4M204.9 458.7L204.9 463.2M204.9 885L204.9 880.5M217.7 31.3L217.7 35.8M217.7 457.9L217.7 453.4M217.7 458.7L217.7 463.2M217.7 885L217.7 880.5M228.2 31.3L228.2 35.8M228.2 457.9L228.2 453.4M228.2 458.7L228.2 463.2M228.2 885L228.2 880.5M237.1 31.3L237.1 35.8M237.1 457.9L237.1 453.4M237.1 458.7L237.1 463.2M237.1 885L237.1 880.5M244.8 31.3L244.8 35.8M244.8 457.9L244.8 453.4M244.8 458.7L244.8 463.2M244.8 885L244.8 880.5M251.6 31.3L251.6 35.8M251.6 457.9L251.6 453.4M251.6 458.7L251.6 463.2M251.6 885L251.6 880.5M297.7 31.3L297.7 35.8M297.7 457.9L297.7 453.4M297.7 458.7L297.7 463.2M297.7 885L297.7 880.5M321.1 31.3L321.1 35.8M321.1 457.9L321.1 453.4M321.1 458.7L321.1 463.2M321.1 885L321.1 880.5M337.7 31.3L337.7 35.8M337.7 457.9L337.7 453.4M337.7 458.7L337.7 463.2M337.7 885L337.7 880.5M350.5 31.3L350.5 35.8M350.5 457.9L350.5 453.4M350.5 458.7L350.5 463.2M350.5 885L350.5 880.5M361 31.3L361 35.8M361 457.9L361 453.4M361 458.7L361 463.2M361 885L361 880.5M369.9 31.3L369.9 35.8M369.9 457.9L369.9 453.4M369.9 458.7L369.9 463.2M369.9 885L369.9 880.5M377.6 31.3L377.6 35.8M377.6 457.9L377.6 453.4M377.6 458.7L377.6 463.2M377.6 885L377.6 880.5M384.4 31.3L384.4 35.8M384.4 457.9L384.4 453.4M384.4 458.7L384.4 463.2M384.4 885L384.4 880.5M430.5 31.3L430.5 35.8M430.5 457.9L430.5 453.4M430.5 458.7L430.5 463.2M430.5 885L430.5 880.5M453.9 31.3L453.9 35.8M453.9 457.9L453.9 453.4M453.9 458.7L453.9 463.2M453.9 885L453.9 880.5M470.5 31.3L470.5 35.8M470.5 457.9L470.5 453.4M470.5 458.7L470.5 463.2M470.5 885L470.5 880.5M483.3 31.3L483.3 35.8M483.3 457.9L483.3 453.4M483.3 458.7L483.3 463.2M483.3 885L483.3 880.5M493.8 31.3L493.8 35.8M493.8 457.9L493.8 453.4M493.8 458.7L493.8 463.2M493.8 885L493.8 880.5M502.7 31.3L502.7 35.8M502.7 457.9L502.7 453.4M502.7 458.7L502.7 463.2M502.7 885L502.7 880.5M510.4 31.3L510.4 35.8M510.4 457.9L510.4 453.4M510.4 458.7L510.4 463.2M510.4 885L510.4 880.5M517.2 31.3L517.2 35.8M517.2 457.9L517.2 453.4M517.2 458.7L517.2 463.2M517.2 885L517.2 880.5M563.3 31.3L563.3 35.8M563.3 457.9L563.3 453.4M563.3 458.7L563.3 463.2M563.3 885L563.3 880.5M586.7 31.3L586.7 35.8M586.7 457.9L586.7 453.4M586.7 458.7L586.7 463.2M586.7 885L586.7 880.5M603.3 31.3L603.3 35.8M603.3 457.9L603.3 453.4M603.3 458.7L603.3 463.2M603.3 885L603.3 880.5M616.1 31.3L616.1 35.8M616.1 457.9L616.1 453.4M616.1 458.7L616.1 463.2M616.1 885L616.1 880.5M626.6 31.3L626.6 35.8M626.6 457.9L626.6 453.4M626.6 458.7L626.6 463.2M626.6 885L626.6 880.5M635.5 31.3L635.5 35.8M635.5 457.9L635.5 453.4M635.5 458.7L635.5 463.2M635.5 885L635.5 880.5M643.2 31.3L643.2 35.8M643.2 457.9L643.2 453.4M643.2 458.7L643.2 463.2M643.2 885L643.2 880.5M650 31.3L650 35.8M650 457.9L650 453.4M650 458.7L650 463.2M650 885L650 880.5M696.1 31.3L696.1 35.8M696.1 457.9L696.1 453.4M696.1 458.7L696.1 463.2M696.1 885L696.1 880.5M719.5 31.3L719.5 35.8M719.5 457.9L719.5 453.4M719.5 458.7L719.5 463.2M719.5 885L719.5 880.5M736.1 31.3L736.1 35.8M736.1 457.9L736.1 453.4M736.1 458.7L736.1 463.2M736.1 885L736.1 880.5M748.9 31.3L748.9 35.8M748.9 457.9L748.9 453.4M748.9 458.7L748.9 463.2M748.9 885L748.9 880.5M759.4 31.3L759.4 35.8M759.4 457.9L759.4 453.4M759.4 458.7L759.4 463.2M759.4 885L759.4 880.5M768.3 31.3L768.3 35.8M768.3 457.9L768.3 453.4M768.3 458.7L768.3 463.2M768.3 885L768.3 880.5M776 31.3L776 35.8M776 457.9L776 453.4M776 458.7L776 463.2M776 885L776 880.5M782.8 31.3L782.8 35.8M782.8 457.9L782.8 453.4M782.8 458.7L782.8 463.2M782.8 885L782.8 880.5M110.5 432.1L118.8 432.1M802.8 432.1L794.5 432.1M110.5 405.4L118.8 405.4M802.8 405.4L794.5 405.4M110.5 378.6L118.8 378.6M802.8 378.6L794.5 378.6M110.5 351.9L118.8 351.9M802.8 351.9L794.5 351.9M110.5 298.5L118.8 298.5M802.8 298.5L794.5 298.5M110.5 271.8L118.8 271.8M802.8 271.8L794.5 271.8M110.5 245L118.8 245M802.8 245L794.5 245M110.5 218.3L118.8 218.3M802.8 218.3L794.5 218.3M110.5 191.6L118.8 191.6M802.8 191.6L794.5 191.6M110.5 164.9L118.8 164.9M802.8 164.9L794.5 164.9M110.5 138.2L118.8 138.2M802.8 138.2L794.5 138.2M110.5 111.4L118.8 111.4M802.8 111.4L794.5 111.4M110.5 84.7L118.8 84.7M802.8 84.7L794.5 84.7M110.5 58L118.8 58M802.8 58L794.5 58M110.5 832.1L117.9 832.1M802.8 832.1L795.4 832.1M110.5 779.2L115.5 779.2M802.8 779.2L797.8 779.2M110.5 726.3L117.9 726.3M802.8 726.3L795.4 726.3M110.5 673.4L115.5 673.4M802.8 673.4L797.8 673.4M110.5 620.5L117.9 620.5M802.8 620.5L795.4 620.5M110.5 567.6L115.5 567.6M802.8 567.6L797.8 567.6M110.5 514.7L117.9 514.7M802.8 514.7L795.4 514.7M110.5 461.8L115.5 461.8M802.8 461.8L797.8 461.8" stroke="#6e6e6e" stroke-width="1.05" fill="none"/>
<g font-family="'Liberation Sans', sans-serif" fill="#000" style="font-kerning:none" opacity="0.999">
<text transform="translate(101.9 65.9) scale(1 1.045)" font-size="21.8" text-anchor="end">1.0</text>
<text transform="translate(101.9 199.5) scale(1 1.045)" font-size="21.8" text-anchor="end">0.5</text>
<text transform="translate(101.9 333.1) scale(1 1.045)" font-size="21.8" text-anchor="end">0.0</text>
<text transform="translate(101.9 524.7) scale(1 1.045)" font-size="21.8" text-anchor="end">10<tspan font-size="15.5" dy="-8.2">4</tspan></text>
<text transform="translate(101.9 628.4) scale(1 1.045)" font-size="21.8" text-anchor="end">100</text>
<text transform="translate(101.9 734.2) scale(1 1.045)" font-size="21.8" text-anchor="end">1</text>
<text transform="translate(101.9 840) scale(1 1.045)" font-size="21.8" text-anchor="end">0.01</text>
<text transform="translate(124.9 913.4) scale(1 1.045)" font-size="21.8" text-anchor="middle">10</text>
<text transform="translate(257.7 913.4) scale(1 1.045)" font-size="21.8" text-anchor="middle">100</text>
<text transform="translate(390.5 913.4) scale(1 1.045)" font-size="21.8" text-anchor="middle">1000</text>
<text transform="translate(523.3 918) scale(1 1.045)" font-size="21.8" text-anchor="middle">10<tspan font-size="15.5" dy="-8.2">4</tspan></text>
<text transform="translate(656.1 918) scale(1 1.045)" font-size="21.8" text-anchor="middle">10<tspan font-size="15.5" dy="-8.2">5</tspan></text>
<text transform="translate(788.9 918) scale(1 1.045)" font-size="21.8" text-anchor="middle">10<tspan font-size="15.5" dy="-8.2">6</tspan></text>
<text transform="translate(364.40 971.70) scale(1.0000 1)" x="-0.74" y="0" font-size="33">Time</text>
<text transform="translate(446.60 971.70) scale(0.9902 1)" x="-1.21" y="0" font-size="33" font-style="italic">&#964;</text>
<text transform="translate(471.90 971.70) scale(0.9917 1)" x="-1.61" y="0" font-size="33">=</text>
<text transform="translate(500.00 971.70) scale(1.0468 1)" x="-0.55" y="0" font-size="33" font-style="italic">m</text>
<text transform="translate(527.80 977.30) scale(1.0811 1)" x="-0.77" y="0" font-size="23" font-style="italic">&#593;</text>
<text transform="translate(541.70 971.70) scale(0.9612 1)" x="-0.50" y="0" font-size="33">t</text>
<text transform="translate(40.80 362.00) rotate(-90) scale(1.0056 1)" x="-2.71" y="0" font-size="33">Fields</text>
<text transform="translate(40.80 254.40) rotate(-90) scale(1.0945 1)" x="-1.55" y="0" font-size="31.5" font-style="italic">&#952;</text>
<text transform="translate(40.80 218.10) rotate(-90) scale(1.0149 1)" x="-1.40" y="0" font-size="33">and</text>
<text transform="translate(40.80 146.30) rotate(-90) scale(1.0072 1)" x="2.40" y="0" font-size="33" font-style="italic">&#967;</text>
<text transform="translate(27.30 820.90) rotate(-90) scale(1.0039 1)" x="-0.06" y="0" font-size="33">Abundance</text>
<text transform="translate(27.50 641.80) rotate(-90) scale(0.9514 1)" x="-0.91" y="0" font-size="34" font-style="italic">&#958;</text>
<text transform="translate(27.30 625.60) rotate(-90) scale(1.0000 1)" x="-2.05" y="0" font-size="33">(</text>
<text transform="translate(27.30 611.90) rotate(-90) scale(0.9356 1)" x="-1.21" y="0" font-size="33" font-style="italic">&#964;</text>
<text transform="translate(27.30 599.30) rotate(-90) scale(1.0000 1)" x="-0.19" y="0" font-size="33">)</text>
<text transform="translate(27.30 577.80) rotate(-90) scale(1.0038 1)" x="-2.35" y="0" font-size="33">[eV]</text>
<line x1="625.6" y1="104.9" x2="681.1" y2="104.9" stroke="#3668cd" stroke-width="5.2"/>
<line x1="625.6" y1="154.8" x2="681.1" y2="154.8" stroke="#cc3300" stroke-width="5.2"/>
<line x1="625.6" y1="210.8" x2="681.1" y2="210.8" stroke="#1fa178" stroke-width="5.2"/>
<text transform="translate(696.70 112.10) scale(1.2880 1)" x="-1.11" y="0" font-size="22.6" font-style="italic">&#952;</text>
<text transform="translate(711.50 112.30) scale(1.0348 1)" x="-0.00" y="0" font-size="24">/</text>
<text transform="translate(721.70 112.10) scale(1.2880 1)" x="-1.11" y="0" font-size="22.6" font-style="italic">&#952;</text>
<text transform="translate(736.20 116.30) scale(1.1503 1)" x="-0.28" y="0" font-size="17.5" font-style="italic">i</text>
<text transform="translate(694.60 162.40) scale(0.9691 1)" x="2.01" y="0" font-size="27.6" font-style="italic">&#967;</text>
<text transform="translate(711.90 161.00) scale(0.9748 1)" x="-0.00" y="0" font-size="24">/</text>
<text transform="translate(718.40 162.40) scale(0.9748 1)" x="2.01" y="0" font-size="27.6" font-style="italic">&#967;</text>
<text transform="translate(735.80 166.60) scale(1.1503 1)" x="-0.28" y="0" font-size="17.5" font-style="italic">i</text>
<text transform="translate(696.70 217.00) scale(1.2880 1)" x="-1.11" y="0" font-size="22.6" font-style="italic">&#952;</text>
<text transform="translate(711.90 221.80) scale(1.0999 1)" x="-0.49" y="0" font-size="17.5">std</text>
<text transform="translate(738.00 217.20) scale(1.1248 1)" x="-0.00" y="0" font-size="24">/</text>
<text transform="translate(748.80 217.00) scale(1.2515 1)" x="-1.11" y="0" font-size="22.6" font-style="italic">&#952;</text>
<text transform="translate(762.90 221.20) scale(1.2003 1)" x="-0.28" y="0" font-size="17.5" font-style="italic">i</text>
<line x1="150.8" y1="512.4" x2="192.0" y2="512.4" stroke="#3668cd" stroke-width="5.2"/>
<line x1="253.9" y1="512.4" x2="295.7" y2="512.4" stroke="#cc3300" stroke-width="5.2"/>
<line x1="358.6" y1="512.4" x2="399.5" y2="512.4" stroke="#1fa178" stroke-width="5.2"/>
<line x1="495.5" y1="512.4" x2="529.2" y2="512.4" stroke="#000" stroke-width="4.8" stroke-dasharray="11.3 10.9"/>
<line x1="625.6" y1="512.4" x2="658" y2="512.4" stroke="#000" stroke-width="4.4" stroke-dasharray="3.1 10.8"/>
<text transform="translate(208.30 519.80) scale(0.9582 1)" x="-0.74" y="0" font-size="27.6" font-style="italic">&#958;</text>
<text transform="translate(221.30 524.30) scale(0.9957 1)" x="-0.59" y="0" font-size="17.5" font-style="italic">&#593;</text>
<text transform="translate(310.80 519.80) scale(0.9978 1)" x="-0.74" y="0" font-size="27.6" font-style="italic">&#958;</text>
<text transform="translate(321.70 524.90) scale(1.1003 1)" x="1.36" y="0" font-size="18.7" font-style="italic">&#967;</text>
<text transform="translate(416.50 519.80) scale(0.9899 1)" x="-0.74" y="0" font-size="27.6" font-style="italic">&#958;</text>
<text transform="translate(429.30 524.30) scale(1.0629 1)" x="-0.59" y="0" font-size="17.5" font-style="italic">&#593;</text>
<text transform="translate(439.90 524.30) scale(1.0000 1)" x="-1.57" y="0" font-size="17.5">,</text>
<text transform="translate(443.10 524.30) scale(1.1873 1)" x="-0.49" y="0" font-size="17.5">std</text>
<text transform="translate(550.80 519.80) scale(1.0057 1)" x="-0.74" y="0" font-size="27.6" font-style="italic">&#958;</text>
<text transform="translate(563.60 524.30) scale(1.0741 1)" x="-0.59" y="0" font-size="17.5" font-style="italic">&#593;</text>
<text transform="translate(574.60 524.30) scale(1.0000 1)" x="-1.57" y="0" font-size="17.5">,</text>
<text transform="translate(579.50 524.30) scale(1.1430 1)" x="-0.74" y="0" font-size="17.5">an</text>
<text transform="translate(682.00 519.80) scale(1.0137 1)" x="-0.74" y="0" font-size="27.6" font-style="italic">&#958;</text>
<text transform="translate(694.60 524.30) scale(1.1912 1)" x="-1.44" y="0" font-size="17.5">DM</text>
<text transform="translate(725.90 524.30) scale(1.0000 1)" x="-1.57" y="0" font-size="17.5">,</text>
<text transform="translate(730.80 524.30) scale(1.0876 1)" x="-0.73" y="0" font-size="17.5">obs</text>
</g>
</svg>
</body></html>
